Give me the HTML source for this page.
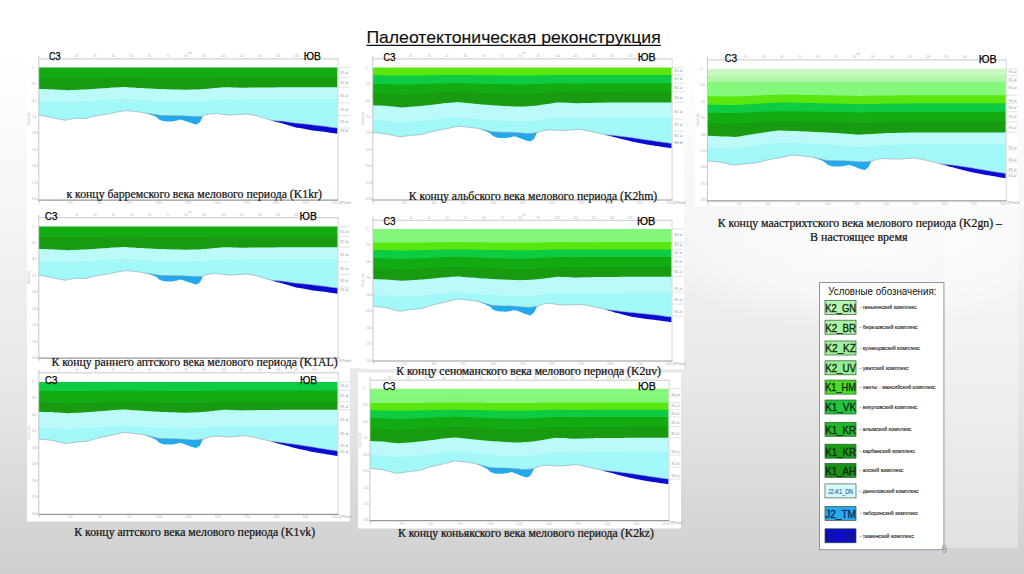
<!DOCTYPE html>
<html lang="ru"><head><meta charset="utf-8"><title>Палеотектоническая реконструкция</title>
<style>
html,body{margin:0;padding:0;}
body{width:1024px;height:574px;overflow:hidden;position:relative;
background:linear-gradient(to bottom,#ffffff 0%,#ffffff 9%,#f6f6f6 35%,#e8e8e8 66%,#cfcfcf 100%);}
svg{position:absolute;left:0;top:0;display:block;}
</style></head><body>
<svg width="1024" height="574" viewBox="0 0 1024 574">
<defs><radialGradient id="hl" cx="0.5" cy="0.5" r="0.5"><stop offset="0" stop-color="#fff" stop-opacity="0.75"/><stop offset="0.6" stop-color="#fff" stop-opacity="0.45"/><stop offset="1" stop-color="#fff" stop-opacity="0"/></radialGradient></defs>
<ellipse cx="860" cy="245" rx="210" ry="85" fill="url(#hl)"/>
<rect x="944" y="206" width="74" height="342" fill="#fff" fill-opacity="0.35"/>
<text x="366.4" y="42.8" font-size="16.6" font-family="Liberation Sans, sans-serif" fill="#111" textLength="294.3" lengthAdjust="spacingAndGlyphs" stroke="#111" stroke-width="0.15">Палеотектоническая реконструкция</text><line x1="366.4" y1="45.6" x2="660.8" y2="45.6" stroke="#111" stroke-width="1.8"/>
<rect x="27" y="46" width="335" height="160" fill="#fff"/>
<polygon points="38.8,88.9 43.8,89 46,89.1 48.8,89.2 51.3,89.3 53.7,89.4 54.9,89.5 58.7,89.7 63.7,90 65.1,90.1 65.7,90.1 67.2,90.2 68.7,90.2 70.5,90.1 73.6,90 75.2,89.9 77.6,89.8 78.6,89.7 83,89.6 83.6,89.5 86.3,89.4 86.6,89.3 87.8,89.3 88.6,89.2 93.1,88.9 93.5,88.9 98.5,88.6 103.5,88.2 103.6,88.2 108.5,87.9 109.6,87.8 110.5,87.7 111.4,87.6 113.4,87.5 115.8,87.4 118.4,87.3 123.4,87 123.6,87 125.1,87.1 128.4,87.3 129.9,87.4 133.2,87.6 133.4,87.6 133.5,87.6 135.8,87.7 138.3,87.9 142.7,88.1 143.3,88.2 145.7,88.3 148.3,88.4 151.1,88.6 151.4,88.6 153.3,88.7 158.2,88.9 159.1,89 161.2,89.1 163.2,89.1 167.2,89.3 168.2,89.3 168.4,89.3 168.7,89.3 173.2,89.4 176.2,89.5 177.1,89.6 178.1,89.6 180.3,89.6 183.1,89.7 185.1,89.8 186.3,89.8 188.1,89.7 191.1,89.6 192,89.6 193.1,89.6 197.1,89.4 198.1,89.4 201.5,89.3 203,89.1 204.8,89 208,88.7 209.6,88.5 209.9,88.5 213,88.2 214.1,88.1 215.6,88 216.5,87.9 217.4,87.8 218,87.8 221.2,87.4 222.9,87.3 223.6,87.2 227.9,87.3 229.6,87.3 230.2,87.3 232.9,87.4 233.2,87.4 237.9,87.6 238.9,87.7 241,87.8 242.8,87.7 245.4,87.7 246.6,87.7 247.8,87.7 249.9,87.6 252.8,87.6 252.9,87.6 256.5,87.5 257.8,87.5 261.9,87.4 262.8,87.4 264.5,87.4 267.7,87.4 271.7,87.4 272,87.4 272.7,87.4 277.7,87.3 280.7,87.3 282.7,87.3 283.4,87.3 287.6,87.3 292.6,87.2 295.9,87.2 296.2,87.2 296.8,87.2 297.6,87.2 302.6,87.2 307.5,87.2 309,87.2 312.5,87.2 312.6,87.2 317.5,87.2 321.6,87.2 322.5,87.2 327.4,87.2 328.4,87.2 332.4,87.2 337.4,87.2 337.4,128 332.4,127.4 328.4,126.9 327.4,126.7 322.5,126.1 321.6,126 317.5,125.5 312.6,124.9 312.5,124.8 309,124.4 307.5,124.3 302.6,123.8 297.6,123.3 296.8,123.3 296.2,123.2 295.9,123.2 292.6,122.7 287.6,121.9 283.4,121.3 282.7,121.2 280.7,121.1 277.7,120.9 272.7,120.5 272,120.4 271.7,120.3 267.7,119.2 264.5,118.3 262.8,117.8 261.9,117.5 257.8,116.3 256.5,115.9 252.9,114.9 252.8,114.9 249.9,114.5 247.8,114.2 246.6,114 245.4,114.1 242.8,114.2 241,114.4 238.9,114.5 237.9,114.6 233.2,115 232.9,115 230.2,115.2 229.6,115.1 227.9,114.9 223.6,114.4 222.9,114.3 221.2,114.1 218,113.7 217.4,113.6 216.5,113.5 215.6,113.4 214.1,113.5 213,113.7 209.9,114 209.6,114 208,114.3 204.8,114.9 203,115.8 201.5,116.6 198.1,116.5 197.1,116.5 193.1,116.3 192,116.3 191.1,116.3 188.1,116.1 186.3,116 185.1,115.9 183.1,115.8 180.3,115.7 178.1,115.7 177.1,115.7 176.2,115.7 173.2,115.7 168.7,115.7 168.4,115.7 168.2,115.7 167.2,115.6 163.2,115.4 161.2,115.3 159.1,115.2 158.2,115.1 153.3,114.3 151.4,114 151.1,114 148.3,113.5 145.7,113.1 143.3,112.7 142.7,112.6 138.3,111.9 135.8,111.6 133.5,111.2 133.4,111.2 133.2,111.2 129.9,111 128.4,110.9 125.1,110.7 123.6,110.9 123.4,111 118.4,111.8 115.8,112.2 113.4,112.8 111.4,113.4 110.5,113.6 109.6,113.7 108.5,113.9 103.6,114.7 103.5,114.7 98.5,115.5 93.5,116.3 93.1,116.4 88.6,117.8 87.8,118 86.6,118.4 86.3,118.5 83.6,118.4 83,118.4 78.6,118.2 77.6,118.2 75.2,118.5 73.6,118.6 70.5,119 68.7,119.4 67.2,119.8 65.7,120.2 65.1,120.3 63.7,120 58.7,119 54.9,118.2 53.7,118 51.3,117.5 48.8,117 46,116.4 43.8,116 38.8,115.2" fill="#a2f7f9"/>
<polygon points="38.8,88.9 43.8,89 46,89.1 48.8,89.2 51.3,89.3 53.7,89.4 54.9,89.5 58.7,89.7 63.7,90 65.1,90.1 65.7,90.1 67.2,90.2 68.7,90.2 70.5,90.1 73.6,90 75.2,89.9 77.6,89.8 78.6,89.7 83,89.6 83.6,89.5 86.3,89.4 86.6,89.3 87.8,89.3 88.6,89.2 93.1,88.9 93.5,88.9 98.5,88.6 103.5,88.2 103.6,88.2 108.5,87.9 109.6,87.8 110.5,87.7 111.4,87.6 113.4,87.5 115.8,87.4 118.4,87.3 123.4,87 123.6,87 125.1,87.1 128.4,87.3 129.9,87.4 133.2,87.6 133.4,87.6 133.5,87.6 135.8,87.7 138.3,87.9 142.7,88.1 143.3,88.2 145.7,88.3 148.3,88.4 151.1,88.6 151.4,88.6 153.3,88.7 158.2,88.9 159.1,89 161.2,89.1 163.2,89.1 167.2,89.3 168.2,89.3 168.4,89.3 168.7,89.3 173.2,89.4 176.2,89.5 177.1,89.6 178.1,89.6 180.3,89.6 183.1,89.7 185.1,89.8 186.3,89.8 188.1,89.7 191.1,89.6 192,89.6 193.1,89.6 197.1,89.4 198.1,89.4 201.5,89.3 203,89.1 204.8,89 208,88.7 209.6,88.5 209.9,88.5 213,88.2 214.1,88.1 215.6,88 216.5,87.9 217.4,87.8 218,87.8 221.2,87.4 222.9,87.3 223.6,87.2 227.9,87.3 229.6,87.3 230.2,87.3 232.9,87.4 233.2,87.4 237.9,87.6 238.9,87.7 241,87.8 242.8,87.7 245.4,87.7 246.6,87.7 247.8,87.7 249.9,87.6 252.8,87.6 252.9,87.6 256.5,87.5 257.8,87.5 261.9,87.4 262.8,87.4 264.5,87.4 267.7,87.4 271.7,87.4 272,87.4 272.7,87.4 277.7,87.3 280.7,87.3 282.7,87.3 283.4,87.3 287.6,87.3 292.6,87.2 295.9,87.2 296.2,87.2 296.8,87.2 297.6,87.2 302.6,87.2 307.5,87.2 309,87.2 312.5,87.2 312.6,87.2 317.5,87.2 321.6,87.2 322.5,87.2 327.4,87.2 328.4,87.2 332.4,87.2 337.4,87.2 337.4,99.2 332.4,99.2 328.4,99.2 327.4,99.2 322.5,99.2 321.6,99.2 317.5,99.2 312.6,99.2 312.5,99.2 309,99.2 307.5,99.2 302.6,99.2 297.6,99.2 296.8,99.2 296.2,99.2 295.9,99.2 292.6,99.2 287.6,99.3 283.4,99.3 282.7,99.3 280.7,99.3 277.7,99.3 272.7,99.4 272,99.4 271.7,99.4 267.7,99.4 264.5,99.4 262.8,99.4 261.9,99.4 257.8,99.5 256.5,99.5 252.9,99.6 252.8,99.6 249.9,99.6 247.8,99.7 246.6,99.7 245.4,99.7 242.8,99.7 241,99.8 238.9,99.7 237.9,99.6 233.2,99.4 232.9,99.4 230.2,99.3 229.6,99.3 227.9,99.3 223.6,99.2 222.9,99.3 221.2,99.4 218,99.8 217.4,99.8 216.5,99.9 215.6,100 214.1,100.1 213,100.2 209.9,100.5 209.6,100.5 208,100.7 204.8,101 203,101.1 201.5,101.3 198.1,101.4 197.1,101.4 193.1,101.6 192,101.6 191.1,101.6 188.1,101.7 186.3,101.8 185.1,101.8 183.1,101.7 180.3,101.6 178.1,101.6 177.1,101.6 176.2,101.5 173.2,101.4 168.7,101.3 168.4,101.3 168.2,101.3 167.2,101.3 163.2,101.1 161.2,101.1 159.1,101 158.2,100.9 153.3,100.7 151.4,100.6 151.1,100.6 148.3,100.4 145.7,100.3 143.3,100.2 142.7,100.1 138.3,99.9 135.8,99.7 133.5,99.6 133.4,99.6 133.2,99.6 129.9,99.4 128.4,99.3 125.1,99.1 123.6,99 123.4,99 118.4,99.3 115.8,99.4 113.4,99.5 111.4,99.6 110.5,99.7 109.6,99.8 108.5,99.9 103.6,100.2 103.5,100.2 98.5,100.6 93.5,100.9 93.1,100.9 88.6,101.2 87.8,101.3 86.6,101.3 86.3,101.4 83.6,101.5 83,101.6 78.6,101.7 77.6,101.8 75.2,101.9 73.6,102 70.5,102.1 68.7,102.2 67.2,102.2 65.7,102.1 65.1,102.1 63.7,102 58.7,101.7 54.9,101.5 53.7,101.4 51.3,101.3 48.8,101.2 46,101.1 43.8,101 38.8,100.9" fill="#bcfafa"/>
<polygon points="38.8,67.6 43.8,67.6 46,67.6 48.8,67.6 51.3,67.6 53.7,67.6 54.9,67.6 58.7,67.6 63.7,67.6 65.1,67.6 65.7,67.6 67.2,67.6 68.7,67.6 70.5,67.6 73.6,67.6 75.2,67.6 77.6,67.6 78.6,67.6 83,67.6 83.6,67.6 86.3,67.6 86.6,67.6 87.8,67.6 88.6,67.6 93.1,67.6 93.5,67.6 98.5,67.6 103.5,67.6 103.6,67.6 108.5,67.6 109.6,67.6 110.5,67.6 111.4,67.6 113.4,67.6 115.8,67.6 118.4,67.6 123.4,67.6 123.6,67.6 125.1,67.6 128.4,67.6 129.9,67.6 133.2,67.6 133.4,67.6 133.5,67.6 135.8,67.6 138.3,67.6 142.7,67.6 143.3,67.6 145.7,67.6 148.3,67.6 151.1,67.6 151.4,67.6 153.3,67.6 158.2,67.6 159.1,67.6 161.2,67.6 163.2,67.6 167.2,67.6 168.2,67.6 168.4,67.6 168.7,67.6 173.2,67.6 176.2,67.6 177.1,67.6 178.1,67.6 180.3,67.6 183.1,67.6 185.1,67.6 186.3,67.6 188.1,67.6 191.1,67.6 192,67.6 193.1,67.6 197.1,67.6 198.1,67.6 201.5,67.6 203,67.6 204.8,67.6 208,67.6 209.6,67.6 209.9,67.6 213,67.6 214.1,67.6 215.6,67.6 216.5,67.6 217.4,67.6 218,67.6 221.2,67.6 222.9,67.6 223.6,67.6 227.9,67.6 229.6,67.6 230.2,67.6 232.9,67.6 233.2,67.6 237.9,67.6 238.9,67.6 241,67.6 242.8,67.6 245.4,67.6 246.6,67.6 247.8,67.6 249.9,67.6 252.8,67.6 252.9,67.6 256.5,67.6 257.8,67.6 261.9,67.6 262.8,67.6 264.5,67.6 267.7,67.6 271.7,67.6 272,67.6 272.7,67.6 277.7,67.6 280.7,67.6 282.7,67.6 283.4,67.6 287.6,67.6 292.6,67.6 295.9,67.6 296.2,67.6 296.8,67.6 297.6,67.6 302.6,67.6 307.5,67.6 309,67.6 312.5,67.6 312.6,67.6 317.5,67.6 321.6,67.6 322.5,67.6 327.4,67.6 328.4,67.6 332.4,67.6 337.4,67.6 337.4,78.9 332.4,78.9 328.4,78.9 327.4,78.9 322.5,78.9 321.6,78.9 317.5,78.9 312.6,78.9 312.5,78.9 309,78.9 307.5,78.9 302.6,78.9 297.6,78.9 296.8,78.9 296.2,78.9 295.9,78.9 292.6,78.9 287.6,78.9 283.4,78.9 282.7,78.9 280.7,78.9 277.7,78.9 272.7,78.9 272,78.9 271.7,78.9 267.7,78.9 264.5,79 262.8,79 261.9,79 257.8,79 256.5,79 252.9,79 252.8,79 249.9,79 247.8,79 246.6,79 245.4,79 242.8,79 241,79 238.9,79 237.9,79 233.2,79 232.9,78.9 230.2,78.9 229.6,78.9 227.9,78.9 223.6,78.9 222.9,78.9 221.2,79 218,79 217.4,79 216.5,79 215.6,79 214.1,79.1 213,79.1 209.9,79.1 209.6,79.1 208,79.2 204.8,79.2 203,79.2 201.5,79.3 198.1,79.3 197.1,79.3 193.1,79.3 192,79.3 191.1,79.3 188.1,79.3 186.3,79.4 185.1,79.3 183.1,79.3 180.3,79.3 178.1,79.3 177.1,79.3 176.2,79.3 173.2,79.3 168.7,79.3 168.4,79.3 168.2,79.3 167.2,79.3 163.2,79.2 161.2,79.2 159.1,79.2 158.2,79.2 153.3,79.2 151.4,79.1 151.1,79.1 148.3,79.1 145.7,79.1 143.3,79.1 142.7,79.1 138.3,79 135.8,79 133.5,79 133.4,79 133.2,79 129.9,79 128.4,78.9 125.1,78.9 123.6,78.9 123.4,78.9 118.4,78.9 115.8,78.9 113.4,79 111.4,79 110.5,79 109.6,79 108.5,79 103.6,79.1 103.5,79.1 98.5,79.2 93.5,79.2 93.1,79.2 88.6,79.3 87.8,79.3 86.6,79.3 86.3,79.3 83.6,79.3 83,79.3 78.6,79.3 77.6,79.3 75.2,79.4 73.6,79.4 70.5,79.4 68.7,79.4 67.2,79.4 65.7,79.4 65.1,79.4 63.7,79.4 58.7,79.3 54.9,79.3 53.7,79.3 51.3,79.3 48.8,79.2 46,79.2 43.8,79.2 38.8,79.2" fill="#12ac12"/>
<polygon points="38.8,78 43.8,78 46,78 48.8,78 51.3,78.1 53.7,78.1 54.9,78.1 58.7,78.1 63.7,78.2 65.1,78.2 65.7,78.2 67.2,78.2 68.7,78.2 70.5,78.2 73.6,78.2 75.2,78.2 77.6,78.1 78.6,78.1 83,78.1 83.6,78.1 86.3,78.1 86.6,78.1 87.8,78.1 88.6,78.1 93.1,78 93.5,78 98.5,78 103.5,77.9 103.6,77.9 108.5,77.8 109.6,77.8 110.5,77.8 111.4,77.8 113.4,77.8 115.8,77.7 118.4,77.7 123.4,77.7 123.6,77.7 125.1,77.7 128.4,77.7 129.9,77.8 133.2,77.8 133.4,77.8 133.5,77.8 135.8,77.8 138.3,77.8 142.7,77.9 143.3,77.9 145.7,77.9 148.3,77.9 151.1,77.9 151.4,77.9 153.3,78 158.2,78 159.1,78 161.2,78 163.2,78 167.2,78.1 168.2,78.1 168.4,78.1 168.7,78.1 173.2,78.1 176.2,78.1 177.1,78.1 178.1,78.1 180.3,78.1 183.1,78.1 185.1,78.1 186.3,78.2 188.1,78.1 191.1,78.1 192,78.1 193.1,78.1 197.1,78.1 198.1,78.1 201.5,78.1 203,78 204.8,78 208,78 209.6,77.9 209.9,77.9 213,77.9 214.1,77.9 215.6,77.8 216.5,77.8 217.4,77.8 218,77.8 221.2,77.8 222.9,77.7 223.6,77.7 227.9,77.7 229.6,77.7 230.2,77.7 232.9,77.7 233.2,77.8 237.9,77.8 238.9,77.8 241,77.8 242.8,77.8 245.4,77.8 246.6,77.8 247.8,77.8 249.9,77.8 252.8,77.8 252.9,77.8 256.5,77.8 257.8,77.8 261.9,77.8 262.8,77.8 264.5,77.8 267.7,77.7 271.7,77.7 272,77.7 272.7,77.7 277.7,77.7 280.7,77.7 282.7,77.7 283.4,77.7 287.6,77.7 292.6,77.7 295.9,77.7 296.2,77.7 296.8,77.7 297.6,77.7 302.6,77.7 307.5,77.7 309,77.7 312.5,77.7 312.6,77.7 317.5,77.7 321.6,77.7 322.5,77.7 327.4,77.7 328.4,77.7 332.4,77.7 337.4,77.7 337.4,87.2 332.4,87.2 328.4,87.2 327.4,87.2 322.5,87.2 321.6,87.2 317.5,87.2 312.6,87.2 312.5,87.2 309,87.2 307.5,87.2 302.6,87.2 297.6,87.2 296.8,87.2 296.2,87.2 295.9,87.2 292.6,87.2 287.6,87.3 283.4,87.3 282.7,87.3 280.7,87.3 277.7,87.3 272.7,87.4 272,87.4 271.7,87.4 267.7,87.4 264.5,87.4 262.8,87.4 261.9,87.4 257.8,87.5 256.5,87.5 252.9,87.6 252.8,87.6 249.9,87.6 247.8,87.7 246.6,87.7 245.4,87.7 242.8,87.7 241,87.8 238.9,87.7 237.9,87.6 233.2,87.4 232.9,87.4 230.2,87.3 229.6,87.3 227.9,87.3 223.6,87.2 222.9,87.3 221.2,87.4 218,87.8 217.4,87.8 216.5,87.9 215.6,88 214.1,88.1 213,88.2 209.9,88.5 209.6,88.5 208,88.7 204.8,89 203,89.1 201.5,89.3 198.1,89.4 197.1,89.4 193.1,89.6 192,89.6 191.1,89.6 188.1,89.7 186.3,89.8 185.1,89.8 183.1,89.7 180.3,89.6 178.1,89.6 177.1,89.6 176.2,89.5 173.2,89.4 168.7,89.3 168.4,89.3 168.2,89.3 167.2,89.3 163.2,89.1 161.2,89.1 159.1,89 158.2,88.9 153.3,88.7 151.4,88.6 151.1,88.6 148.3,88.4 145.7,88.3 143.3,88.2 142.7,88.1 138.3,87.9 135.8,87.7 133.5,87.6 133.4,87.6 133.2,87.6 129.9,87.4 128.4,87.3 125.1,87.1 123.6,87 123.4,87 118.4,87.3 115.8,87.4 113.4,87.5 111.4,87.6 110.5,87.7 109.6,87.8 108.5,87.9 103.6,88.2 103.5,88.2 98.5,88.6 93.5,88.9 93.1,88.9 88.6,89.2 87.8,89.3 86.6,89.3 86.3,89.4 83.6,89.5 83,89.6 78.6,89.7 77.6,89.8 75.2,89.9 73.6,90 70.5,90.1 68.7,90.2 67.2,90.2 65.7,90.1 65.1,90.1 63.7,90 58.7,89.7 54.9,89.5 53.7,89.4 51.3,89.3 48.8,89.2 46,89.1 43.8,89 38.8,88.9" fill="#199b11"/>
<polygon points="143.9,112.8 145.7,113.1 148.3,113.5 151.1,114 151.4,114 153.3,114.3 156.1,114.8 158.2,115.1 159.1,115.2 161.2,115.3 163,115.4 163.2,115.4 167.2,115.6 168.2,115.7 168.4,115.7 168.7,115.7 171.1,115.7 173.2,115.7 176.2,115.7 176.5,115.7 177.1,115.7 178.1,115.7 180.3,115.7 183.1,115.8 184.2,115.9 185.1,115.9 186.3,116 188.1,116.1 190.5,116.2 191.1,116.3 192,116.3 193.1,116.3 195.9,116.4 197.1,116.5 198.1,116.5 199.7,116.5 201.5,116.6 203,115.8 203,115.8 201.5,119.3 199.7,122.5 198.1,123.4 197.1,124 195.9,124.6 193.1,123.7 192,123.3 191.1,123 190.5,122.8 188.1,122 186.3,121.4 185.1,121 184.2,120.7 183.1,120.3 180.3,119.4 178.1,120.1 177.1,120.5 176.5,120.7 176.2,120.7 173.2,121.2 171.1,121.5 168.7,121.5 168.4,121.5 168.2,121.4 167.2,121.4 163.2,121.1 163,121.1 161.2,120.4 159.1,119.5 158.2,118.7 156.1,116.8 153.3,115.7 151.4,114.9 151.1,114.9 148.3,114.1 145.7,113.3 143.9,112.8" fill="#22a8ec"/>
<polygon points="270.2,119.9 271.7,120.3 272,120.4 272.7,120.5 277.7,120.9 280.7,121.1 282.7,121.2 283.4,121.3 287.6,121.9 292.6,122.7 295.9,123.2 296.2,123.2 296.8,123.3 297.6,123.3 302.6,123.8 307.5,124.3 309,124.4 312.5,124.8 312.6,124.9 317.5,125.5 321.6,126 322.5,126.1 327.4,126.7 328.4,126.9 332.4,127.4 337.4,128 337.4,133.8 332.4,133 328.4,132.4 327.4,132.3 322.5,131.6 321.6,131.5 317.5,131 312.6,130.4 312.5,130.4 309,129.7 307.5,129.4 302.6,128.6 297.6,127.8 296.8,127.7 296.2,127.6 295.9,127.5 292.6,126.5 287.6,125 283.4,123.7 282.7,123.6 280.7,123.1 277.7,122.3 272.7,120.9 272,120.7 271.7,120.6 270.2,119.9" fill="#0a0ad2"/>
<polyline points="38.8,115.2 43.8,116 46,116.4 48.8,117 51.3,117.5 53.7,118 54.9,118.2 58.7,119 63.7,120 65.1,120.3 65.7,120.2 67.2,119.8 68.7,119.4 70.5,119 73.6,118.6 75.2,118.5 77.6,118.2 78.6,118.2 83,118.4 83.6,118.4 86.3,118.5 86.6,118.4 87.8,118 88.6,117.8 93.1,116.4 93.5,116.3 98.5,115.5 103.5,114.7 103.6,114.7 108.5,113.9 109.6,113.7 110.5,113.6 111.4,113.4 113.4,112.8 115.8,112.2 118.4,111.8 123.4,111 123.6,110.9 125.1,110.7 128.4,110.9 129.9,111 133.2,111.2 133.4,111.2 133.5,111.2 135.8,111.6 138.3,111.9 142.7,112.6 143.3,112.7 145.7,113.1 148.3,113.5 151.1,114 151.4,114 153.3,114.3 158.2,115.1 159.1,115.2 161.2,115.3 163.2,115.4 167.2,115.6 168.2,115.7 168.4,115.7 168.7,115.7 173.2,115.7 176.2,115.7 177.1,115.7 178.1,115.7 180.3,115.7 183.1,115.8 185.1,115.9 186.3,116 188.1,116.1 191.1,116.3 192,116.3 193.1,116.3 197.1,116.5 198.1,116.5 201.5,116.6 203,115.8 204.8,114.9 208,114.3 209.6,114 209.9,114 213,113.7 214.1,113.5 215.6,113.4 216.5,113.5 217.4,113.6 218,113.7 221.2,114.1 222.9,114.3 223.6,114.4 227.9,114.9 229.6,115.1 230.2,115.2 232.9,115 233.2,115 237.9,114.6 238.9,114.5 241,114.4 242.8,114.2 245.4,114.1 246.6,114 247.8,114.2 249.9,114.5 252.8,114.9 252.9,114.9 256.5,115.9 257.8,116.3 261.9,117.5 262.8,117.8 264.5,118.3 267.7,119.2 271.7,120.3 272,120.4 272.7,120.5 277.7,120.9 280.7,121.1 282.7,121.2 283.4,121.3 287.6,121.9 292.6,122.7 295.9,123.2 296.2,123.2 296.8,123.3 297.6,123.3 302.6,123.8 307.5,124.3 309,124.4 312.5,124.8 312.6,124.9 317.5,125.5 321.6,126 322.5,126.1 327.4,126.7 328.4,126.9 332.4,127.4 337.4,128" fill="none" stroke="#8a9aa8" stroke-width="0.7" opacity="0.8"/>
<line x1="38.8" y1="55.9" x2="38.8" y2="202.1" stroke="#bbb" stroke-width="0.8"/>
<line x1="337.9" y1="58.9" x2="337.9" y2="200.1" stroke="#ccc" stroke-width="0.8"/>
<line x1="38.8" y1="58.9" x2="338.4" y2="58.9" stroke="#bbb" stroke-width="0.8"/>
<line x1="38.8" y1="200.1" x2="338.4" y2="200.1" stroke="#999" stroke-width="1.2"/>
<g font-family="Liberation Sans, sans-serif" font-size="2.8" fill="#b4b4b4"><text x="57" y="57.4">10</text><text x="75.2" y="57.4">20</text><text x="93.4" y="57.4">30</text><text x="111.6" y="57.4">40</text><text x="129.8" y="57.4">50</text><text x="148" y="57.4">60</text><text x="166.3" y="57.4">70</text><text x="184.5" y="57.4">80</text><text x="202.7" y="57.4">90</text><text x="220.9" y="57.4">100</text><text x="239.1" y="57.4">110</text><text x="257.3" y="57.4">120</text><text x="275.5" y="57.4">130</text><text x="293.7" y="57.4">140</text><text x="311.9" y="57.4">150</text><text x="188.1" y="54.4">km</text><text x="38.8" y="204.1">0</text><text x="68.1" y="204.1">250</text><text x="97.3" y="204.1">500</text><text x="126.6" y="204.1">750</text><text x="155.9" y="204.1">1000</text><text x="185.2" y="204.1">1250</text><text x="214.4" y="204.1">1500</text><text x="243.7" y="204.1">1750</text><text x="273" y="204.1">2000</text><text x="302.3" y="204.1">2250</text><text x="331.5" y="204.1">2500</text><text x="31.8" y="68.6">0</text><text x="31.8" y="85">250</text><text x="31.8" y="101.5">500</text><text x="31.8" y="117.9">750</text><text x="31.8" y="134.4">1000</text><text x="31.8" y="150.8">1250</text><text x="31.8" y="167.3">1500</text><text x="31.8" y="183.8">1750</text><text x="31.8" y="200.2">2000</text><text x="30.3" y="125.4" transform="rotate(-90 30.3 125.4)" font-size="3">Depth (m)</text></g>
<line x1="338.4" y1="67.6" x2="349.4" y2="67.6" stroke="#ccc" stroke-width="0.6"/><line x1="338.4" y1="77.7" x2="349.4" y2="77.7" stroke="#ccc" stroke-width="0.6"/><line x1="338.4" y1="87.2" x2="349.4" y2="87.2" stroke="#ccc" stroke-width="0.6"/><line x1="338.4" y1="103" x2="349.4" y2="103" stroke="#ccc" stroke-width="0.6"/><line x1="338.4" y1="115.5" x2="349.4" y2="115.5" stroke="#ccc" stroke-width="0.6"/><line x1="338.4" y1="128" x2="349.4" y2="128" stroke="#ccc" stroke-width="0.6"/><text x="340.4" y="73.5" font-size="3.4" fill="#888" font-family="Liberation Sans, sans-serif">K1 al</text><text x="340.4" y="83.5" font-size="3.4" fill="#888" font-family="Liberation Sans, sans-serif">K1 al</text><text x="340.4" y="97.4" font-size="3.4" fill="#888" font-family="Liberation Sans, sans-serif">K1 al</text><text x="340.4" y="110.8" font-size="3.4" fill="#888" font-family="Liberation Sans, sans-serif">K1 al</text><text x="340.4" y="122.7" font-size="3.4" fill="#888" font-family="Liberation Sans, sans-serif">K1 al</text><text x="340.4" y="131.7" font-size="3.4" fill="#888" font-family="Liberation Sans, sans-serif">K1 al</text>
<text x="338.4" y="203.6" font-size="3.5" fill="#89a" font-family="Liberation Sans, sans-serif">@Petrel</text>
<text x="49" y="60.3" font-size="11.6" font-family="Liberation Sans, sans-serif" fill="#000" stroke="#000" stroke-width="0.25" textLength="11.7" lengthAdjust="spacingAndGlyphs">СЗ</text>
<text x="303.8" y="60.3" font-size="11.6" font-family="Liberation Sans, sans-serif" fill="#000" stroke="#000" stroke-width="0.25" textLength="17" lengthAdjust="spacingAndGlyphs">ЮВ</text>
<rect x="27" y="206" width="335" height="162" fill="#fff"/>
<polygon points="38.8,248.9 43.8,249 46,249.1 48.8,249.2 51.3,249.3 53.7,249.4 54.9,249.5 58.7,249.7 63.7,250 65.1,250.1 65.7,250.1 67.2,250.2 68.7,250.2 70.5,250.1 73.7,250 75.3,249.9 77.6,249.8 78.6,249.7 83,249.6 83.6,249.5 86.3,249.4 86.6,249.3 87.8,249.3 88.6,249.2 93.2,248.9 93.6,248.9 98.6,248.6 103.5,248.2 103.6,248.2 108.5,247.9 109.6,247.8 110.5,247.7 111.4,247.6 113.5,247.5 115.9,247.4 118.5,247.3 123.5,247 123.7,247 125.2,247.1 128.4,247.3 129.9,247.4 133.2,247.6 133.4,247.6 133.5,247.6 135.9,247.7 138.4,247.9 142.8,248.1 143.4,248.2 145.8,248.3 148.4,248.4 151.1,248.6 151.4,248.6 153.3,248.7 158.3,248.9 159.2,249 161.3,249.1 163.3,249.1 167.3,249.3 168.3,249.3 168.5,249.3 168.8,249.3 173.3,249.4 176.2,249.5 177.1,249.6 178.2,249.6 180.4,249.6 183.2,249.7 185.2,249.8 186.4,249.8 188.2,249.7 191.2,249.6 192.1,249.6 193.2,249.6 197.2,249.4 198.2,249.4 201.6,249.3 203.1,249.1 204.9,249 208.1,248.7 209.7,248.5 210,248.5 213.1,248.2 214.2,248.1 215.7,248 216.6,247.9 217.5,247.8 218.1,247.8 221.4,247.4 223.1,247.3 223.8,247.2 228,247.3 229.7,247.3 230.3,247.3 233,247.4 233.3,247.4 238,247.6 239,247.7 241.1,247.8 243,247.7 245.6,247.7 246.8,247.7 248,247.7 250.1,247.6 252.9,247.6 253,247.6 256.6,247.5 257.9,247.5 262,247.4 262.9,247.4 264.7,247.4 267.9,247.4 271.9,247.4 272.2,247.4 272.9,247.4 277.8,247.3 280.8,247.3 282.8,247.3 283.5,247.3 287.8,247.3 292.8,247.2 296.1,247.2 296.4,247.2 297,247.2 297.8,247.2 302.7,247.2 307.7,247.2 309.2,247.2 312.7,247.2 312.8,247.2 317.7,247.2 321.8,247.2 322.7,247.2 327.6,247.2 328.6,247.2 332.6,247.2 337.6,247.2 337.6,288 332.6,287.4 328.6,286.9 327.6,286.7 322.7,286.1 321.8,286 317.7,285.5 312.8,284.9 312.7,284.8 309.2,284.4 307.7,284.3 302.7,283.8 297.8,283.3 297,283.3 296.4,283.2 296.1,283.2 292.8,282.7 287.8,281.9 283.5,281.3 282.8,281.2 280.8,281.1 277.8,280.8 272.9,280.5 272.2,280.4 271.9,280.3 267.9,279.2 264.7,278.3 262.9,277.8 262,277.5 257.9,276.3 256.6,275.9 253,274.9 252.9,274.9 250.1,274.5 248,274.2 246.8,274 245.6,274.1 243,274.2 241.1,274.4 239,274.5 238,274.6 233.3,275 233,275 230.3,275.2 229.7,275.1 228,274.9 223.8,274.4 223.1,274.3 221.4,274.1 218.1,273.7 217.5,273.6 216.6,273.5 215.7,273.4 214.2,273.6 213.1,273.7 210,274 209.7,274 208.1,274.3 204.9,274.9 203.1,275.8 201.6,276.6 198.2,276.5 197.2,276.5 193.2,276.3 192.1,276.3 191.2,276.3 188.2,276.1 186.4,276 185.2,275.9 183.2,275.8 180.4,275.7 178.2,275.7 177.1,275.7 176.2,275.7 173.3,275.7 168.8,275.7 168.5,275.7 168.3,275.7 167.3,275.6 163.3,275.4 161.3,275.3 159.2,275.2 158.3,275.1 153.3,274.3 151.4,274 151.1,274 148.4,273.5 145.8,273.1 143.4,272.7 142.8,272.6 138.4,271.9 135.9,271.6 133.5,271.2 133.4,271.2 133.2,271.2 129.9,271 128.4,270.9 125.2,270.7 123.7,270.9 123.5,271 118.5,271.8 115.9,272.2 113.5,272.8 111.4,273.4 110.5,273.6 109.6,273.7 108.5,273.9 103.6,274.7 103.5,274.7 98.6,275.5 93.6,276.3 93.2,276.4 88.6,277.8 87.8,278 86.6,278.4 86.3,278.5 83.6,278.4 83,278.4 78.6,278.2 77.6,278.2 75.3,278.5 73.7,278.6 70.5,279 68.7,279.4 67.2,279.8 65.7,280.2 65.1,280.3 63.7,280 58.7,279 54.9,278.2 53.7,278 51.3,277.5 48.8,277 46,276.4 43.8,276 38.8,275.2" fill="#a2f7f9"/>
<polygon points="38.8,248.9 43.8,249 46,249.1 48.8,249.2 51.3,249.3 53.7,249.4 54.9,249.5 58.7,249.7 63.7,250 65.1,250.1 65.7,250.1 67.2,250.2 68.7,250.2 70.5,250.1 73.7,250 75.3,249.9 77.6,249.8 78.6,249.7 83,249.6 83.6,249.5 86.3,249.4 86.6,249.3 87.8,249.3 88.6,249.2 93.2,248.9 93.6,248.9 98.6,248.6 103.5,248.2 103.6,248.2 108.5,247.9 109.6,247.8 110.5,247.7 111.4,247.6 113.5,247.5 115.9,247.4 118.5,247.3 123.5,247 123.7,247 125.2,247.1 128.4,247.3 129.9,247.4 133.2,247.6 133.4,247.6 133.5,247.6 135.9,247.7 138.4,247.9 142.8,248.1 143.4,248.2 145.8,248.3 148.4,248.4 151.1,248.6 151.4,248.6 153.3,248.7 158.3,248.9 159.2,249 161.3,249.1 163.3,249.1 167.3,249.3 168.3,249.3 168.5,249.3 168.8,249.3 173.3,249.4 176.2,249.5 177.1,249.6 178.2,249.6 180.4,249.6 183.2,249.7 185.2,249.8 186.4,249.8 188.2,249.7 191.2,249.6 192.1,249.6 193.2,249.6 197.2,249.4 198.2,249.4 201.6,249.3 203.1,249.1 204.9,249 208.1,248.7 209.7,248.5 210,248.5 213.1,248.2 214.2,248.1 215.7,248 216.6,247.9 217.5,247.8 218.1,247.8 221.4,247.4 223.1,247.3 223.8,247.2 228,247.3 229.7,247.3 230.3,247.3 233,247.4 233.3,247.4 238,247.6 239,247.7 241.1,247.8 243,247.7 245.6,247.7 246.8,247.7 248,247.7 250.1,247.6 252.9,247.6 253,247.6 256.6,247.5 257.9,247.5 262,247.4 262.9,247.4 264.7,247.4 267.9,247.4 271.9,247.4 272.2,247.4 272.9,247.4 277.8,247.3 280.8,247.3 282.8,247.3 283.5,247.3 287.8,247.3 292.8,247.2 296.1,247.2 296.4,247.2 297,247.2 297.8,247.2 302.7,247.2 307.7,247.2 309.2,247.2 312.7,247.2 312.8,247.2 317.7,247.2 321.8,247.2 322.7,247.2 327.6,247.2 328.6,247.2 332.6,247.2 337.6,247.2 337.6,259.2 332.6,259.2 328.6,259.2 327.6,259.2 322.7,259.2 321.8,259.2 317.7,259.2 312.8,259.2 312.7,259.2 309.2,259.2 307.7,259.2 302.7,259.2 297.8,259.2 297,259.2 296.4,259.2 296.1,259.2 292.8,259.2 287.8,259.3 283.5,259.3 282.8,259.3 280.8,259.3 277.8,259.3 272.9,259.4 272.2,259.4 271.9,259.4 267.9,259.4 264.7,259.4 262.9,259.4 262,259.4 257.9,259.5 256.6,259.5 253,259.6 252.9,259.6 250.1,259.6 248,259.7 246.8,259.7 245.6,259.7 243,259.7 241.1,259.8 239,259.7 238,259.6 233.3,259.4 233,259.4 230.3,259.3 229.7,259.3 228,259.3 223.8,259.2 223.1,259.3 221.4,259.4 218.1,259.8 217.5,259.8 216.6,259.9 215.7,260 214.2,260.1 213.1,260.2 210,260.5 209.7,260.5 208.1,260.7 204.9,261 203.1,261.1 201.6,261.3 198.2,261.4 197.2,261.4 193.2,261.6 192.1,261.6 191.2,261.6 188.2,261.7 186.4,261.8 185.2,261.8 183.2,261.7 180.4,261.6 178.2,261.6 177.1,261.6 176.2,261.5 173.3,261.4 168.8,261.3 168.5,261.3 168.3,261.3 167.3,261.3 163.3,261.1 161.3,261.1 159.2,261 158.3,260.9 153.3,260.7 151.4,260.6 151.1,260.6 148.4,260.4 145.8,260.3 143.4,260.2 142.8,260.1 138.4,259.9 135.9,259.7 133.5,259.6 133.4,259.6 133.2,259.6 129.9,259.4 128.4,259.3 125.2,259.1 123.7,259 123.5,259 118.5,259.3 115.9,259.4 113.5,259.5 111.4,259.6 110.5,259.7 109.6,259.8 108.5,259.9 103.6,260.2 103.5,260.2 98.6,260.6 93.6,260.9 93.2,260.9 88.6,261.2 87.8,261.3 86.6,261.3 86.3,261.4 83.6,261.5 83,261.6 78.6,261.7 77.6,261.8 75.3,261.9 73.7,262 70.5,262.1 68.7,262.2 67.2,262.2 65.7,262.1 65.1,262.1 63.7,262 58.7,261.7 54.9,261.5 53.7,261.4 51.3,261.3 48.8,261.2 46,261.1 43.8,261 38.8,260.9" fill="#bcfafa"/>
<polygon points="38.8,226.5 43.8,226.5 46,226.5 48.8,226.5 51.3,226.5 53.7,226.5 54.9,226.5 58.7,226.5 63.7,226.5 65.1,226.5 65.7,226.5 67.2,226.5 68.7,226.5 70.5,226.5 73.7,226.5 75.3,226.5 77.6,226.5 78.6,226.5 83,226.5 83.6,226.5 86.3,226.5 86.6,226.5 87.8,226.5 88.6,226.5 93.2,226.5 93.6,226.5 98.6,226.5 103.5,226.5 103.6,226.5 108.5,226.5 109.6,226.5 110.5,226.5 111.4,226.5 113.5,226.5 115.9,226.5 118.5,226.5 123.5,226.5 123.7,226.5 125.2,226.5 128.4,226.5 129.9,226.5 133.2,226.5 133.4,226.5 133.5,226.5 135.9,226.5 138.4,226.5 142.8,226.5 143.4,226.5 145.8,226.5 148.4,226.5 151.1,226.5 151.4,226.5 153.3,226.5 158.3,226.5 159.2,226.5 161.3,226.5 163.3,226.5 167.3,226.5 168.3,226.5 168.5,226.5 168.8,226.5 173.3,226.5 176.2,226.5 177.1,226.5 178.2,226.5 180.4,226.5 183.2,226.5 185.2,226.5 186.4,226.5 188.2,226.5 191.2,226.5 192.1,226.5 193.2,226.5 197.2,226.5 198.2,226.5 201.6,226.5 203.1,226.5 204.9,226.5 208.1,226.5 209.7,226.5 210,226.5 213.1,226.5 214.2,226.5 215.7,226.5 216.6,226.5 217.5,226.5 218.1,226.5 221.4,226.5 223.1,226.5 223.8,226.5 228,226.5 229.7,226.5 230.3,226.5 233,226.5 233.3,226.5 238,226.5 239,226.5 241.1,226.5 243,226.5 245.6,226.5 246.8,226.5 248,226.5 250.1,226.5 252.9,226.5 253,226.5 256.6,226.5 257.9,226.5 262,226.5 262.9,226.5 264.7,226.5 267.9,226.5 271.9,226.5 272.2,226.5 272.9,226.5 277.8,226.5 280.8,226.5 282.8,226.5 283.5,226.5 287.8,226.5 292.8,226.5 296.1,226.5 296.4,226.5 297,226.5 297.8,226.5 302.7,226.5 307.7,226.5 309.2,226.5 312.7,226.5 312.8,226.5 317.7,226.5 321.8,226.5 322.7,226.5 327.6,226.5 328.6,226.5 332.6,226.5 337.6,226.5 337.6,237.9 332.6,237.9 328.6,237.9 327.6,237.9 322.7,237.9 321.8,237.9 317.7,237.9 312.8,237.9 312.7,237.9 309.2,237.9 307.7,237.9 302.7,237.9 297.8,237.9 297,237.9 296.4,237.9 296.1,237.9 292.8,237.9 287.8,237.9 283.5,237.9 282.8,237.9 280.8,237.9 277.8,237.9 272.9,237.9 272.2,237.9 271.9,237.9 267.9,237.9 264.7,237.9 262.9,238 262,238 257.9,238 256.6,238 253,238 252.9,238 250.1,238 248,238 246.8,238 245.6,238 243,238 241.1,238 239,238 238,238 233.3,237.9 233,237.9 230.3,237.9 229.7,237.9 228,237.9 223.8,237.9 223.1,237.9 221.4,238 218.1,238 217.5,238 216.6,238 215.7,238 214.2,238.1 213.1,238.1 210,238.1 209.7,238.1 208.1,238.2 204.9,238.2 203.1,238.2 201.6,238.3 198.2,238.3 197.2,238.3 193.2,238.3 192.1,238.3 191.2,238.3 188.2,238.3 186.4,238.3 185.2,238.3 183.2,238.3 180.4,238.3 178.2,238.3 177.1,238.3 176.2,238.3 173.3,238.3 168.8,238.3 168.5,238.3 168.3,238.3 167.3,238.3 163.3,238.2 161.3,238.2 159.2,238.2 158.3,238.2 153.3,238.2 151.4,238.1 151.1,238.1 148.4,238.1 145.8,238.1 143.4,238.1 142.8,238.1 138.4,238 135.9,238 133.5,238 133.4,238 133.2,238 129.9,237.9 128.4,237.9 125.2,237.9 123.7,237.9 123.5,237.9 118.5,237.9 115.9,237.9 113.5,238 111.4,238 110.5,238 109.6,238 108.5,238 103.6,238.1 103.5,238.1 98.6,238.1 93.6,238.2 93.2,238.2 88.6,238.3 87.8,238.3 86.6,238.3 86.3,238.3 83.6,238.3 83,238.3 78.6,238.3 77.6,238.3 75.3,238.4 73.7,238.4 70.5,238.4 68.7,238.4 67.2,238.4 65.7,238.4 65.1,238.4 63.7,238.4 58.7,238.3 54.9,238.3 53.7,238.3 51.3,238.3 48.8,238.2 46,238.2 43.8,238.2 38.8,238.2" fill="#12ac12"/>
<polygon points="38.8,237 43.8,237 46,237 48.8,237 51.3,237.1 53.7,237.1 54.9,237.1 58.7,237.1 63.7,237.2 65.1,237.2 65.7,237.2 67.2,237.2 68.7,237.2 70.5,237.2 73.7,237.2 75.3,237.2 77.6,237.1 78.6,237.1 83,237.1 83.6,237.1 86.3,237.1 86.6,237.1 87.8,237.1 88.6,237.1 93.2,237 93.6,237 98.6,236.9 103.5,236.9 103.6,236.9 108.5,236.8 109.6,236.8 110.5,236.8 111.4,236.8 113.5,236.8 115.9,236.7 118.5,236.7 123.5,236.7 123.7,236.7 125.2,236.7 128.4,236.7 129.9,236.8 133.2,236.8 133.4,236.8 133.5,236.8 135.9,236.8 138.4,236.8 142.8,236.9 143.4,236.9 145.8,236.9 148.4,236.9 151.1,236.9 151.4,236.9 153.3,237 158.3,237 159.2,237 161.3,237 163.3,237 167.3,237.1 168.3,237.1 168.5,237.1 168.8,237.1 173.3,237.1 176.2,237.1 177.1,237.1 178.2,237.1 180.4,237.1 183.2,237.1 185.2,237.1 186.4,237.2 188.2,237.1 191.2,237.1 192.1,237.1 193.2,237.1 197.2,237.1 198.2,237.1 201.6,237.1 203.1,237 204.9,237 208.1,237 209.7,236.9 210,236.9 213.1,236.9 214.2,236.9 215.7,236.8 216.6,236.8 217.5,236.8 218.1,236.8 221.4,236.8 223.1,236.7 223.8,236.7 228,236.7 229.7,236.7 230.3,236.7 233,236.7 233.3,236.8 238,236.8 239,236.8 241.1,236.8 243,236.8 245.6,236.8 246.8,236.8 248,236.8 250.1,236.8 252.9,236.8 253,236.8 256.6,236.8 257.9,236.8 262,236.8 262.9,236.8 264.7,236.8 267.9,236.7 271.9,236.7 272.2,236.7 272.9,236.7 277.8,236.7 280.8,236.7 282.8,236.7 283.5,236.7 287.8,236.7 292.8,236.7 296.1,236.7 296.4,236.7 297,236.7 297.8,236.7 302.7,236.7 307.7,236.7 309.2,236.7 312.7,236.7 312.8,236.7 317.7,236.7 321.8,236.7 322.7,236.7 327.6,236.7 328.6,236.7 332.6,236.7 337.6,236.7 337.6,247.2 332.6,247.2 328.6,247.2 327.6,247.2 322.7,247.2 321.8,247.2 317.7,247.2 312.8,247.2 312.7,247.2 309.2,247.2 307.7,247.2 302.7,247.2 297.8,247.2 297,247.2 296.4,247.2 296.1,247.2 292.8,247.2 287.8,247.3 283.5,247.3 282.8,247.3 280.8,247.3 277.8,247.3 272.9,247.4 272.2,247.4 271.9,247.4 267.9,247.4 264.7,247.4 262.9,247.4 262,247.4 257.9,247.5 256.6,247.5 253,247.6 252.9,247.6 250.1,247.6 248,247.7 246.8,247.7 245.6,247.7 243,247.7 241.1,247.8 239,247.7 238,247.6 233.3,247.4 233,247.4 230.3,247.3 229.7,247.3 228,247.3 223.8,247.2 223.1,247.3 221.4,247.4 218.1,247.8 217.5,247.8 216.6,247.9 215.7,248 214.2,248.1 213.1,248.2 210,248.5 209.7,248.5 208.1,248.7 204.9,249 203.1,249.1 201.6,249.3 198.2,249.4 197.2,249.4 193.2,249.6 192.1,249.6 191.2,249.6 188.2,249.7 186.4,249.8 185.2,249.8 183.2,249.7 180.4,249.6 178.2,249.6 177.1,249.6 176.2,249.5 173.3,249.4 168.8,249.3 168.5,249.3 168.3,249.3 167.3,249.3 163.3,249.1 161.3,249.1 159.2,249 158.3,248.9 153.3,248.7 151.4,248.6 151.1,248.6 148.4,248.4 145.8,248.3 143.4,248.2 142.8,248.1 138.4,247.9 135.9,247.7 133.5,247.6 133.4,247.6 133.2,247.6 129.9,247.4 128.4,247.3 125.2,247.1 123.7,247 123.5,247 118.5,247.3 115.9,247.4 113.5,247.5 111.4,247.6 110.5,247.7 109.6,247.8 108.5,247.9 103.6,248.2 103.5,248.2 98.6,248.6 93.6,248.9 93.2,248.9 88.6,249.2 87.8,249.3 86.6,249.3 86.3,249.4 83.6,249.5 83,249.6 78.6,249.7 77.6,249.8 75.3,249.9 73.7,250 70.5,250.1 68.7,250.2 67.2,250.2 65.7,250.1 65.1,250.1 63.7,250 58.7,249.7 54.9,249.5 53.7,249.4 51.3,249.3 48.8,249.2 46,249.1 43.8,249 38.8,248.9" fill="#199b11"/>
<polygon points="144,272.8 145.8,273.1 148.4,273.5 151.1,274 151.4,274 153.3,274.3 156.2,274.8 158.3,275.1 159.2,275.2 161.3,275.3 163.1,275.4 163.3,275.4 167.3,275.6 168.3,275.7 168.5,275.7 168.8,275.7 171.2,275.7 173.3,275.7 176.2,275.7 176.5,275.7 177.1,275.7 178.2,275.7 180.4,275.7 183.2,275.8 184.3,275.9 185.2,275.9 186.4,276 188.2,276.1 190.6,276.2 191.2,276.3 192.1,276.3 193.2,276.3 196,276.4 197.2,276.5 198.2,276.5 199.9,276.5 201.6,276.6 203.1,275.8 203.1,275.8 201.6,279.3 199.9,282.5 198.2,283.4 197.2,284 196,284.6 193.2,283.7 192.1,283.3 191.2,283 190.6,282.8 188.2,282 186.4,281.4 185.2,281 184.3,280.7 183.2,280.3 180.4,279.4 178.2,280.1 177.1,280.5 176.5,280.7 176.2,280.7 173.3,281.2 171.2,281.5 168.8,281.5 168.5,281.5 168.3,281.4 167.3,281.4 163.3,281.1 163.1,281.1 161.3,280.4 159.2,279.5 158.3,278.7 156.2,276.8 153.3,275.7 151.4,274.9 151.1,274.9 148.4,274.1 145.8,273.3 144,272.8" fill="#22a8ec"/>
<polygon points="270.4,279.9 271.9,280.3 272.2,280.4 272.9,280.5 277.8,280.8 280.8,281.1 282.8,281.2 283.5,281.3 287.8,281.9 292.8,282.7 296.1,283.2 296.4,283.2 297,283.3 297.8,283.3 302.7,283.8 307.7,284.3 309.2,284.4 312.7,284.8 312.8,284.9 317.7,285.5 321.8,286 322.7,286.1 327.6,286.7 328.6,286.9 332.6,287.4 337.6,288 337.6,293.8 332.6,293 328.6,292.4 327.6,292.3 322.7,291.6 321.8,291.5 317.7,291 312.8,290.4 312.7,290.4 309.2,289.7 307.7,289.4 302.7,288.6 297.8,287.8 297,287.7 296.4,287.6 296.1,287.5 292.8,286.5 287.8,285 283.5,283.7 282.8,283.6 280.8,283.1 277.8,282.3 272.9,280.9 272.2,280.7 271.9,280.6 270.4,279.9" fill="#0a0ad2"/>
<polyline points="38.8,275.2 43.8,276 46,276.4 48.8,277 51.3,277.5 53.7,278 54.9,278.2 58.7,279 63.7,280 65.1,280.3 65.7,280.2 67.2,279.8 68.7,279.4 70.5,279 73.7,278.6 75.3,278.5 77.6,278.2 78.6,278.2 83,278.4 83.6,278.4 86.3,278.5 86.6,278.4 87.8,278 88.6,277.8 93.2,276.4 93.6,276.3 98.6,275.5 103.5,274.7 103.6,274.7 108.5,273.9 109.6,273.7 110.5,273.6 111.4,273.4 113.5,272.8 115.9,272.2 118.5,271.8 123.5,271 123.7,270.9 125.2,270.7 128.4,270.9 129.9,271 133.2,271.2 133.4,271.2 133.5,271.2 135.9,271.6 138.4,271.9 142.8,272.6 143.4,272.7 145.8,273.1 148.4,273.5 151.1,274 151.4,274 153.3,274.3 158.3,275.1 159.2,275.2 161.3,275.3 163.3,275.4 167.3,275.6 168.3,275.7 168.5,275.7 168.8,275.7 173.3,275.7 176.2,275.7 177.1,275.7 178.2,275.7 180.4,275.7 183.2,275.8 185.2,275.9 186.4,276 188.2,276.1 191.2,276.3 192.1,276.3 193.2,276.3 197.2,276.5 198.2,276.5 201.6,276.6 203.1,275.8 204.9,274.9 208.1,274.3 209.7,274 210,274 213.1,273.7 214.2,273.6 215.7,273.4 216.6,273.5 217.5,273.6 218.1,273.7 221.4,274.1 223.1,274.3 223.8,274.4 228,274.9 229.7,275.1 230.3,275.2 233,275 233.3,275 238,274.6 239,274.5 241.1,274.4 243,274.2 245.6,274.1 246.8,274 248,274.2 250.1,274.5 252.9,274.9 253,274.9 256.6,275.9 257.9,276.3 262,277.5 262.9,277.8 264.7,278.3 267.9,279.2 271.9,280.3 272.2,280.4 272.9,280.5 277.8,280.8 280.8,281.1 282.8,281.2 283.5,281.3 287.8,281.9 292.8,282.7 296.1,283.2 296.4,283.2 297,283.3 297.8,283.3 302.7,283.8 307.7,284.3 309.2,284.4 312.7,284.8 312.8,284.9 317.7,285.5 321.8,286 322.7,286.1 327.6,286.7 328.6,286.9 332.6,287.4 337.6,288" fill="none" stroke="#8a9aa8" stroke-width="0.7" opacity="0.8"/>
<line x1="38.8" y1="214.7" x2="38.8" y2="360.2" stroke="#bbb" stroke-width="0.8"/>
<line x1="338.1" y1="217.7" x2="338.1" y2="358.2" stroke="#ccc" stroke-width="0.8"/>
<line x1="38.8" y1="217.7" x2="338.6" y2="217.7" stroke="#bbb" stroke-width="0.8"/>
<line x1="38.8" y1="358.2" x2="338.6" y2="358.2" stroke="#999" stroke-width="1.2"/>
<g font-family="Liberation Sans, sans-serif" font-size="2.8" fill="#b4b4b4"><text x="57" y="216.2">10</text><text x="75.2" y="216.2">20</text><text x="93.5" y="216.2">30</text><text x="111.7" y="216.2">40</text><text x="129.9" y="216.2">50</text><text x="148.1" y="216.2">60</text><text x="166.3" y="216.2">70</text><text x="184.6" y="216.2">80</text><text x="202.8" y="216.2">90</text><text x="221" y="216.2">100</text><text x="239.2" y="216.2">110</text><text x="257.4" y="216.2">120</text><text x="275.7" y="216.2">130</text><text x="293.9" y="216.2">140</text><text x="312.1" y="216.2">150</text><text x="188.2" y="213.2">km</text><text x="38.8" y="362.2">0</text><text x="68.1" y="362.2">250</text><text x="97.4" y="362.2">500</text><text x="126.7" y="362.2">750</text><text x="156" y="362.2">1000</text><text x="185.3" y="362.2">1250</text><text x="214.6" y="362.2">1500</text><text x="243.9" y="362.2">1750</text><text x="273.2" y="362.2">2000</text><text x="302.4" y="362.2">2250</text><text x="331.7" y="362.2">2500</text><text x="31.8" y="227.5">0</text><text x="31.8" y="243.9">250</text><text x="31.8" y="260.4">500</text><text x="31.8" y="276.9">750</text><text x="31.8" y="293.3">1000</text><text x="31.8" y="309.8">1250</text><text x="31.8" y="326.2">1500</text><text x="31.8" y="342.6">1750</text><text x="31.8" y="359.1">2000</text><text x="30.3" y="284.3" transform="rotate(-90 30.3 284.3)" font-size="3">Depth (m)</text></g>
<line x1="338.6" y1="226.5" x2="349.6" y2="226.5" stroke="#ccc" stroke-width="0.6"/><line x1="338.6" y1="236.7" x2="349.6" y2="236.7" stroke="#ccc" stroke-width="0.6"/><line x1="338.6" y1="247.2" x2="349.6" y2="247.2" stroke="#ccc" stroke-width="0.6"/><line x1="338.6" y1="262" x2="349.6" y2="262" stroke="#ccc" stroke-width="0.6"/><line x1="338.6" y1="274.5" x2="349.6" y2="274.5" stroke="#ccc" stroke-width="0.6"/><line x1="338.6" y1="287" x2="349.6" y2="287" stroke="#ccc" stroke-width="0.6"/><text x="340.6" y="232.5" font-size="3.4" fill="#888" font-family="Liberation Sans, sans-serif">K1 al</text><text x="340.6" y="242.5" font-size="3.4" fill="#888" font-family="Liberation Sans, sans-serif">K1 al</text><text x="340.6" y="256.4" font-size="3.4" fill="#888" font-family="Liberation Sans, sans-serif">K1 al</text><text x="340.6" y="269.8" font-size="3.4" fill="#888" font-family="Liberation Sans, sans-serif">K1 al</text><text x="340.6" y="281.7" font-size="3.4" fill="#888" font-family="Liberation Sans, sans-serif">K1 al</text><text x="340.6" y="290.7" font-size="3.4" fill="#888" font-family="Liberation Sans, sans-serif">K1 al</text>
<text x="338.6" y="361.7" font-size="3.5" fill="#89a" font-family="Liberation Sans, sans-serif">@Petrel</text>
<text x="45" y="219.8" font-size="11.6" font-family="Liberation Sans, sans-serif" fill="#000" stroke="#000" stroke-width="0.25" textLength="12.5" lengthAdjust="spacingAndGlyphs">СЗ</text>
<text x="299.6" y="220.0" font-size="11.6" font-family="Liberation Sans, sans-serif" fill="#000" stroke="#000" stroke-width="0.25" textLength="17.2" lengthAdjust="spacingAndGlyphs">ЮВ</text>
<rect x="27" y="366" width="323" height="155.5" fill="#fff"/>
<polygon points="38.8,411.7 43.8,411.9 46,411.9 48.8,412 51.3,412.1 53.7,412.3 54.9,412.4 58.7,412.6 63.7,413 65.1,413.1 65.7,413.1 67.2,413.2 68.7,413.2 70.5,413.1 73.7,412.9 75.3,412.8 77.6,412.7 78.6,412.7 83,412.5 83.6,412.4 86.3,412.2 86.6,412.2 87.8,412.1 88.6,412.1 93.2,411.7 93.6,411.7 98.6,411.3 103.5,410.9 103.6,410.9 108.5,410.5 109.6,410.4 110.5,410.3 111.4,410.2 113.5,410.1 115.9,409.9 118.5,409.8 123.5,409.5 123.7,409.5 125.2,409.6 128.4,409.8 129.9,409.9 133.2,410.2 133.4,410.2 133.5,410.2 135.9,410.3 138.4,410.5 142.8,410.8 143.4,410.8 145.8,411 148.4,411.2 151.1,411.3 151.4,411.3 153.3,411.4 158.3,411.7 159.2,411.8 161.3,411.9 163.3,412 167.3,412.1 168.3,412.2 168.5,412.2 168.8,412.2 173.3,412.3 176.2,412.4 177.1,412.5 178.2,412.5 180.4,412.6 183.2,412.7 185.2,412.7 186.4,412.8 188.2,412.7 191.2,412.6 192.1,412.5 193.2,412.5 197.2,412.3 198.2,412.3 201.6,412.1 203.1,412 204.9,411.8 208.1,411.4 209.7,411.3 210,411.2 213.1,410.9 214.2,410.8 215.7,410.6 216.6,410.5 217.5,410.4 218.1,410.4 221.4,410 223.1,409.8 223.8,409.7 228,409.8 229.7,409.9 230.3,409.9 233,409.9 233.3,409.9 238,410.2 239,410.3 241.1,410.4 243,410.3 245.6,410.3 246.8,410.3 248,410.2 250.1,410.2 252.9,410.2 253,410.2 256.6,410.1 257.9,410.1 262,410 262.9,410 264.7,409.9 267.9,409.9 271.9,409.9 272.2,409.9 272.9,409.9 277.8,409.9 280.8,409.8 282.8,409.8 283.5,409.8 287.8,409.8 292.8,409.8 296.1,409.7 296.4,409.7 297,409.7 297.8,409.7 302.7,409.7 307.7,409.7 309.2,409.7 312.7,409.7 312.8,409.7 317.7,409.7 321.8,409.7 322.7,409.7 327.6,409.7 328.6,409.7 332.6,409.7 337.6,409.7 337.6,450.9 332.6,450.3 328.6,449.7 327.6,449.6 322.7,448.7 321.8,448.6 317.7,447.9 312.8,447.1 312.7,447.1 309.2,446.5 307.7,446.3 302.7,445.5 297.8,444.7 297,444.6 296.4,444.5 296.1,444.5 292.8,444 287.8,443.4 283.5,442.8 282.8,442.7 280.8,442.4 277.8,442.1 272.9,441.6 272.2,441.6 271.9,441.6 267.9,440.6 264.7,439.8 262.9,439.4 262,439.2 257.9,438.2 256.6,437.8 253,437.1 252.9,437.1 250.1,436.5 248,436.1 246.8,435.9 245.6,435.6 243,435.9 241.1,436 239,436.2 238,436.3 233.3,436.7 233,436.7 230.3,437 229.7,437 228,436.9 223.8,436.7 223.1,436.6 221.4,436.5 218.1,436.4 217.5,436.3 216.6,436.3 215.7,436.3 214.2,436.5 213.1,436.5 210,436.8 209.7,436.9 208.1,437.4 204.9,438.5 203.1,439.1 201.6,439.3 198.2,439.8 197.2,439.9 193.2,439.9 192.1,439.9 191.2,439.9 188.2,439.6 186.4,439.4 185.2,439.3 183.2,439.2 180.4,439 178.2,438.9 177.1,438.8 176.2,438.8 173.3,438.8 168.8,438.7 168.5,438.7 168.3,438.7 167.3,438.7 163.3,438.5 161.3,438.4 159.2,438.3 158.3,438.3 153.3,437 151.4,436.6 151.1,436.5 148.4,435.8 145.8,435.2 143.4,434.6 142.8,434.5 138.4,434 135.9,433.7 133.5,433.4 133.4,433.4 133.2,433.3 129.9,433 128.4,432.9 125.2,432.5 123.7,432.4 123.5,432.4 118.5,433.6 115.9,434.2 113.5,434.8 111.4,435.3 110.5,435.5 109.6,435.7 108.5,435.9 103.6,436.8 103.5,436.9 98.6,437.8 93.6,439.4 93.2,439.5 88.6,440.9 87.8,441.1 86.6,441.2 86.3,441.2 83.6,441.5 83,441.5 78.6,441.9 77.6,442 75.3,442.3 73.7,442.5 70.5,442.9 68.7,443.2 67.2,443.4 65.7,443.6 65.1,443.5 63.7,443.2 58.7,442 54.9,441.1 53.7,440.8 51.3,440.3 48.8,440 46,439.7 43.8,439.5 38.8,439" fill="#a2f7f9"/>
<polygon points="38.8,411.7 43.8,411.9 46,411.9 48.8,412 51.3,412.1 53.7,412.3 54.9,412.4 58.7,412.6 63.7,413 65.1,413.1 65.7,413.1 67.2,413.2 68.7,413.2 70.5,413.1 73.7,412.9 75.3,412.8 77.6,412.7 78.6,412.7 83,412.5 83.6,412.4 86.3,412.2 86.6,412.2 87.8,412.1 88.6,412.1 93.2,411.7 93.6,411.7 98.6,411.3 103.5,410.9 103.6,410.9 108.5,410.5 109.6,410.4 110.5,410.3 111.4,410.2 113.5,410.1 115.9,409.9 118.5,409.8 123.5,409.5 123.7,409.5 125.2,409.6 128.4,409.8 129.9,409.9 133.2,410.2 133.4,410.2 133.5,410.2 135.9,410.3 138.4,410.5 142.8,410.8 143.4,410.8 145.8,411 148.4,411.2 151.1,411.3 151.4,411.3 153.3,411.4 158.3,411.7 159.2,411.8 161.3,411.9 163.3,412 167.3,412.1 168.3,412.2 168.5,412.2 168.8,412.2 173.3,412.3 176.2,412.4 177.1,412.5 178.2,412.5 180.4,412.6 183.2,412.7 185.2,412.7 186.4,412.8 188.2,412.7 191.2,412.6 192.1,412.5 193.2,412.5 197.2,412.3 198.2,412.3 201.6,412.1 203.1,412 204.9,411.8 208.1,411.4 209.7,411.3 210,411.2 213.1,410.9 214.2,410.8 215.7,410.6 216.6,410.5 217.5,410.4 218.1,410.4 221.4,410 223.1,409.8 223.8,409.7 228,409.8 229.7,409.9 230.3,409.9 233,409.9 233.3,409.9 238,410.2 239,410.3 241.1,410.4 243,410.3 245.6,410.3 246.8,410.3 248,410.2 250.1,410.2 252.9,410.2 253,410.2 256.6,410.1 257.9,410.1 262,410 262.9,410 264.7,409.9 267.9,409.9 271.9,409.9 272.2,409.9 272.9,409.9 277.8,409.9 280.8,409.8 282.8,409.8 283.5,409.8 287.8,409.8 292.8,409.8 296.1,409.7 296.4,409.7 297,409.7 297.8,409.7 302.7,409.7 307.7,409.7 309.2,409.7 312.7,409.7 312.8,409.7 317.7,409.7 321.8,409.7 322.7,409.7 327.6,409.7 328.6,409.7 332.6,409.7 337.6,409.7 337.6,425.7 332.6,425.7 328.6,425.7 327.6,425.7 322.7,425.7 321.8,425.7 317.7,425.7 312.8,425.7 312.7,425.7 309.2,425.7 307.7,425.7 302.7,425.7 297.8,425.7 297,425.7 296.4,425.7 296.1,425.7 292.8,425.8 287.8,425.8 283.5,425.8 282.8,425.8 280.8,425.8 277.8,425.9 272.9,425.9 272.2,425.9 271.9,425.9 267.9,425.9 264.7,425.9 262.9,426 262,426 257.9,426.1 256.6,426.1 253,426.2 252.9,426.2 250.1,426.2 248,426.2 246.8,426.3 245.6,426.3 243,426.3 241.1,426.4 239,426.3 238,426.2 233.3,425.9 233,425.9 230.3,425.9 229.7,425.9 228,425.8 223.8,425.7 223.1,425.8 221.4,426 218.1,426.4 217.5,426.4 216.6,426.5 215.7,426.6 214.2,426.8 213.1,426.9 210,427.2 209.7,427.3 208.1,427.4 204.9,427.8 203.1,428 201.6,428.1 198.2,428.3 197.2,428.3 193.2,428.5 192.1,428.5 191.2,428.6 188.2,428.7 186.4,428.8 185.2,428.7 183.2,428.7 180.4,428.6 178.2,428.5 177.1,428.5 176.2,428.4 173.3,428.3 168.8,428.2 168.5,428.2 168.3,428.2 167.3,428.1 163.3,428 161.3,427.9 159.2,427.8 158.3,427.7 153.3,427.4 151.4,427.3 151.1,427.3 148.4,427.2 145.8,427 143.4,426.8 142.8,426.8 138.4,426.5 135.9,426.3 133.5,426.2 133.4,426.2 133.2,426.2 129.9,425.9 128.4,425.8 125.2,425.6 123.7,425.5 123.5,425.5 118.5,425.8 115.9,425.9 113.5,426.1 111.4,426.2 110.5,426.3 109.6,426.4 108.5,426.5 103.6,426.9 103.5,426.9 98.6,427.3 93.6,427.7 93.2,427.7 88.6,428.1 87.8,428.1 86.6,428.2 86.3,428.2 83.6,428.4 83,428.5 78.6,428.7 77.6,428.7 75.3,428.8 73.7,428.9 70.5,429.1 68.7,429.2 67.2,429.2 65.7,429.1 65.1,429.1 63.7,429 58.7,428.6 54.9,428.4 53.7,428.3 51.3,428.1 48.8,428 46,427.9 43.8,427.9 38.8,427.7" fill="#bcfafa"/>
<polygon points="38.8,381.9 43.8,381.9 46,381.9 48.8,381.9 51.3,381.9 53.7,381.9 54.9,381.9 58.7,381.9 63.7,381.9 65.1,381.9 65.7,381.9 67.2,381.9 68.7,381.9 70.5,381.9 73.7,381.9 75.3,381.9 77.6,381.9 78.6,381.9 83,381.9 83.6,381.9 86.3,381.9 86.6,381.9 87.8,381.9 88.6,381.9 93.2,381.9 93.6,381.9 98.6,381.9 103.5,381.9 103.6,381.9 108.5,381.9 109.6,381.9 110.5,381.9 111.4,381.9 113.5,381.9 115.9,381.9 118.5,381.9 123.5,381.9 123.7,381.9 125.2,381.9 128.4,381.9 129.9,381.9 133.2,381.9 133.4,381.9 133.5,381.9 135.9,381.9 138.4,381.9 142.8,381.9 143.4,381.9 145.8,381.9 148.4,381.9 151.1,381.9 151.4,381.9 153.3,381.9 158.3,381.9 159.2,381.9 161.3,381.9 163.3,381.9 167.3,381.9 168.3,381.9 168.5,381.9 168.8,381.9 173.3,381.9 176.2,381.9 177.1,381.9 178.2,381.9 180.4,381.9 183.2,381.9 185.2,381.9 186.4,381.9 188.2,381.9 191.2,381.9 192.1,381.9 193.2,381.9 197.2,381.9 198.2,381.9 201.6,381.9 203.1,381.9 204.9,381.9 208.1,381.9 209.7,381.9 210,381.9 213.1,381.9 214.2,381.9 215.7,381.9 216.6,381.9 217.5,381.9 218.1,381.9 221.4,381.9 223.1,381.9 223.8,381.9 228,381.9 229.7,381.9 230.3,381.9 233,381.9 233.3,381.9 238,381.9 239,381.9 241.1,381.9 243,381.9 245.6,381.9 246.8,381.9 248,381.9 250.1,381.9 252.9,381.9 253,381.9 256.6,381.9 257.9,381.9 262,381.9 262.9,381.9 264.7,381.9 267.9,381.9 271.9,381.9 272.2,381.9 272.9,381.9 277.8,381.9 280.8,381.9 282.8,381.9 283.5,381.9 287.8,381.9 292.8,381.9 296.1,381.9 296.4,381.9 297,381.9 297.8,381.9 302.7,381.9 307.7,381.9 309.2,381.9 312.7,381.9 312.8,381.9 317.7,381.9 321.8,381.9 322.7,381.9 327.6,381.9 328.6,381.9 332.6,381.9 337.6,381.9 337.6,391.7 332.6,391.7 328.6,391.7 327.6,391.7 322.7,391.7 321.8,391.7 317.7,391.7 312.8,391.7 312.7,391.7 309.2,391.7 307.7,391.7 302.7,391.7 297.8,391.7 297,391.7 296.4,391.7 296.1,391.7 292.8,391.7 287.8,391.7 283.5,391.7 282.8,391.7 280.8,391.7 277.8,391.7 272.9,391.7 272.2,391.7 271.9,391.7 267.9,391.7 264.7,391.8 262.9,391.8 262,391.8 257.9,391.8 256.6,391.8 253,391.8 252.9,391.8 250.1,391.8 248,391.8 246.8,391.8 245.6,391.8 243,391.8 241.1,391.8 239,391.8 238,391.8 233.3,391.8 233,391.7 230.3,391.7 229.7,391.7 228,391.7 223.8,391.7 223.1,391.7 221.4,391.8 218.1,391.8 217.5,391.8 216.6,391.8 215.7,391.8 214.2,391.9 213.1,391.9 210,391.9 209.7,391.9 208.1,392 204.9,392 203.1,392 201.6,392.1 198.2,392.1 197.2,392.1 193.2,392.1 192.1,392.1 191.2,392.1 188.2,392.1 186.4,392.1 185.2,392.1 183.2,392.1 180.4,392.1 178.2,392.1 177.1,392.1 176.2,392.1 173.3,392.1 168.8,392.1 168.5,392.1 168.3,392.1 167.3,392.1 163.3,392 161.3,392 159.2,392 158.3,392 153.3,392 151.4,391.9 151.1,391.9 148.4,391.9 145.8,391.9 143.4,391.9 142.8,391.9 138.4,391.8 135.9,391.8 133.5,391.8 133.4,391.8 133.2,391.8 129.9,391.8 128.4,391.7 125.2,391.7 123.7,391.7 123.5,391.7 118.5,391.7 115.9,391.7 113.5,391.8 111.4,391.8 110.5,391.8 109.6,391.8 108.5,391.8 103.6,391.9 103.5,391.9 98.6,391.9 93.6,392 93.2,392 88.6,392.1 87.8,392.1 86.6,392.1 86.3,392.1 83.6,392.1 83,392.1 78.6,392.1 77.6,392.1 75.3,392.2 73.7,392.2 70.5,392.2 68.7,392.2 67.2,392.2 65.7,392.2 65.1,392.2 63.7,392.2 58.7,392.1 54.9,392.1 53.7,392.1 51.3,392.1 48.8,392 46,392 43.8,392 38.8,392" fill="#0dcb43"/>
<polygon points="38.8,390.8 43.8,390.8 46,390.8 48.8,390.8 51.3,390.9 53.7,390.9 54.9,390.9 58.7,390.9 63.7,391 65.1,391 65.7,391 67.2,391 68.7,391 70.5,391 73.7,391 75.3,391 77.6,390.9 78.6,390.9 83,390.9 83.6,390.9 86.3,390.9 86.6,390.9 87.8,390.9 88.6,390.9 93.2,390.8 93.6,390.8 98.6,390.8 103.5,390.7 103.6,390.7 108.5,390.6 109.6,390.6 110.5,390.6 111.4,390.6 113.5,390.6 115.9,390.5 118.5,390.5 123.5,390.5 123.7,390.5 125.2,390.5 128.4,390.5 129.9,390.6 133.2,390.6 133.4,390.6 133.5,390.6 135.9,390.6 138.4,390.6 142.8,390.7 143.4,390.7 145.8,390.7 148.4,390.7 151.1,390.7 151.4,390.7 153.3,390.8 158.3,390.8 159.2,390.8 161.3,390.8 163.3,390.8 167.3,390.9 168.3,390.9 168.5,390.9 168.8,390.9 173.3,390.9 176.2,390.9 177.1,390.9 178.2,390.9 180.4,390.9 183.2,390.9 185.2,390.9 186.4,390.9 188.2,390.9 191.2,390.9 192.1,390.9 193.2,390.9 197.2,390.9 198.2,390.9 201.6,390.9 203.1,390.8 204.9,390.8 208.1,390.8 209.7,390.7 210,390.7 213.1,390.7 214.2,390.7 215.7,390.6 216.6,390.6 217.5,390.6 218.1,390.6 221.4,390.6 223.1,390.5 223.8,390.5 228,390.5 229.7,390.5 230.3,390.5 233,390.5 233.3,390.6 238,390.6 239,390.6 241.1,390.6 243,390.6 245.6,390.6 246.8,390.6 248,390.6 250.1,390.6 252.9,390.6 253,390.6 256.6,390.6 257.9,390.6 262,390.6 262.9,390.6 264.7,390.6 267.9,390.5 271.9,390.5 272.2,390.5 272.9,390.5 277.8,390.5 280.8,390.5 282.8,390.5 283.5,390.5 287.8,390.5 292.8,390.5 296.1,390.5 296.4,390.5 297,390.5 297.8,390.5 302.7,390.5 307.7,390.5 309.2,390.5 312.7,390.5 312.8,390.5 317.7,390.5 321.8,390.5 322.7,390.5 327.6,390.5 328.6,390.5 332.6,390.5 337.6,390.5 337.6,402.9 332.6,402.9 328.6,402.9 327.6,402.9 322.7,402.9 321.8,402.9 317.7,402.9 312.8,402.9 312.7,402.9 309.2,402.9 307.7,402.9 302.7,402.9 297.8,402.9 297,402.9 296.4,402.9 296.1,402.9 292.8,402.9 287.8,402.9 283.5,402.9 282.8,402.9 280.8,402.9 277.8,402.9 272.9,402.9 272.2,402.9 271.9,402.9 267.9,402.9 264.7,402.9 262.9,403 262,403 257.9,403 256.6,403 253,403 252.9,403 250.1,403.1 248,403.1 246.8,403.1 245.6,403.1 243,403.1 241.1,403.1 239,403.1 238,403.1 233.3,402.9 233,402.9 230.3,402.9 229.7,402.9 228,402.9 223.8,402.9 223.1,402.9 221.4,403 218.1,403.1 217.5,403.2 216.6,403.2 215.7,403.2 214.2,403.3 213.1,403.4 210,403.5 209.7,403.5 208.1,403.6 204.9,403.7 203.1,403.8 201.6,403.9 198.2,403.9 197.2,404 193.2,404 192.1,404 191.2,404.1 188.2,404.1 186.4,404.1 185.2,404.1 183.2,404.1 180.4,404.1 178.2,404 177.1,404 176.2,404 173.3,404 168.8,403.9 168.5,403.9 168.3,403.9 167.3,403.9 163.3,403.8 161.3,403.8 159.2,403.7 158.3,403.7 153.3,403.6 151.4,403.5 151.1,403.5 148.4,403.5 145.8,403.4 143.4,403.3 142.8,403.3 138.4,403.2 135.9,403.1 133.5,403.1 133.4,403 133.2,403 129.9,402.9 128.4,402.9 125.2,402.8 123.7,402.7 123.5,402.7 118.5,402.9 115.9,402.9 113.5,403 111.4,403.1 110.5,403.1 109.6,403.1 108.5,403.2 103.6,403.4 103.5,403.4 98.6,403.6 93.6,403.7 93.2,403.7 88.6,403.9 87.8,403.9 86.6,403.9 86.3,403.9 83.6,404 83,404 78.6,404.1 77.6,404.1 75.3,404.2 73.7,404.2 70.5,404.3 68.7,404.3 67.2,404.4 65.7,404.3 65.1,404.3 63.7,404.3 58.7,404.1 54.9,404 53.7,404 51.3,403.9 48.8,403.8 46,403.8 43.8,403.8 38.8,403.7" fill="#12ac12"/>
<polygon points="38.8,402.5 43.8,402.6 46,402.6 48.8,402.6 51.3,402.7 53.7,402.8 54.9,402.8 58.7,402.9 63.7,403.1 65.1,403.1 65.7,403.1 67.2,403.2 68.7,403.1 70.5,403.1 73.7,403 75.3,403 77.6,402.9 78.6,402.9 83,402.8 83.6,402.8 86.3,402.7 86.6,402.7 87.8,402.7 88.6,402.7 93.2,402.5 93.6,402.5 98.6,402.4 103.5,402.2 103.6,402.2 108.5,402 109.6,401.9 110.5,401.9 111.4,401.9 113.5,401.8 115.9,401.7 118.5,401.7 123.5,401.5 123.7,401.5 125.2,401.6 128.4,401.7 129.9,401.8 133.2,401.8 133.4,401.8 133.5,401.9 135.9,401.9 138.4,402 142.8,402.1 143.4,402.1 145.8,402.2 148.4,402.3 151.1,402.3 151.4,402.3 153.3,402.4 158.3,402.5 159.2,402.5 161.3,402.6 163.3,402.6 167.3,402.7 168.3,402.7 168.5,402.7 168.8,402.7 173.3,402.8 176.2,402.8 177.1,402.8 178.2,402.8 180.4,402.9 183.2,402.9 185.2,402.9 186.4,402.9 188.2,402.9 191.2,402.9 192.1,402.8 193.2,402.8 197.2,402.8 198.2,402.7 201.6,402.7 203.1,402.6 204.9,402.5 208.1,402.4 209.7,402.3 210,402.3 213.1,402.2 214.2,402.1 215.7,402 216.6,402 217.5,402 218.1,401.9 221.4,401.8 223.1,401.7 223.8,401.7 228,401.7 229.7,401.7 230.3,401.7 233,401.7 233.3,401.8 238,401.9 239,401.9 241.1,401.9 243,401.9 245.6,401.9 246.8,401.9 248,401.9 250.1,401.9 252.9,401.8 253,401.8 256.6,401.8 257.9,401.8 262,401.8 262.9,401.8 264.7,401.8 267.9,401.7 271.9,401.7 272.2,401.7 272.9,401.7 277.8,401.7 280.8,401.7 282.8,401.7 283.5,401.7 287.8,401.7 292.8,401.7 296.1,401.7 296.4,401.7 297,401.7 297.8,401.7 302.7,401.7 307.7,401.7 309.2,401.7 312.7,401.7 312.8,401.7 317.7,401.7 321.8,401.7 322.7,401.7 327.6,401.7 328.6,401.7 332.6,401.7 337.6,401.7 337.6,409.7 332.6,409.7 328.6,409.7 327.6,409.7 322.7,409.7 321.8,409.7 317.7,409.7 312.8,409.7 312.7,409.7 309.2,409.7 307.7,409.7 302.7,409.7 297.8,409.7 297,409.7 296.4,409.7 296.1,409.7 292.8,409.8 287.8,409.8 283.5,409.8 282.8,409.8 280.8,409.8 277.8,409.9 272.9,409.9 272.2,409.9 271.9,409.9 267.9,409.9 264.7,409.9 262.9,410 262,410 257.9,410.1 256.6,410.1 253,410.2 252.9,410.2 250.1,410.2 248,410.2 246.8,410.3 245.6,410.3 243,410.3 241.1,410.4 239,410.3 238,410.2 233.3,409.9 233,409.9 230.3,409.9 229.7,409.9 228,409.8 223.8,409.7 223.1,409.8 221.4,410 218.1,410.4 217.5,410.4 216.6,410.5 215.7,410.6 214.2,410.8 213.1,410.9 210,411.2 209.7,411.3 208.1,411.4 204.9,411.8 203.1,412 201.6,412.1 198.2,412.3 197.2,412.3 193.2,412.5 192.1,412.5 191.2,412.6 188.2,412.7 186.4,412.8 185.2,412.7 183.2,412.7 180.4,412.6 178.2,412.5 177.1,412.5 176.2,412.4 173.3,412.3 168.8,412.2 168.5,412.2 168.3,412.2 167.3,412.1 163.3,412 161.3,411.9 159.2,411.8 158.3,411.7 153.3,411.4 151.4,411.3 151.1,411.3 148.4,411.2 145.8,411 143.4,410.8 142.8,410.8 138.4,410.5 135.9,410.3 133.5,410.2 133.4,410.2 133.2,410.2 129.9,409.9 128.4,409.8 125.2,409.6 123.7,409.5 123.5,409.5 118.5,409.8 115.9,409.9 113.5,410.1 111.4,410.2 110.5,410.3 109.6,410.4 108.5,410.5 103.6,410.9 103.5,410.9 98.6,411.3 93.6,411.7 93.2,411.7 88.6,412.1 87.8,412.1 86.6,412.2 86.3,412.2 83.6,412.4 83,412.5 78.6,412.7 77.6,412.7 75.3,412.8 73.7,412.9 70.5,413.1 68.7,413.2 67.2,413.2 65.7,413.1 65.1,413.1 63.7,413 58.7,412.6 54.9,412.4 53.7,412.3 51.3,412.1 48.8,412 46,411.9 43.8,411.9 38.8,411.7" fill="#199b11"/>
<polygon points="144,434.8 145.8,435.2 148.4,435.8 151.1,436.5 151.4,436.6 153.3,437 156.2,437.8 158.3,438.3 159.2,438.3 161.3,438.4 163.1,438.5 163.3,438.5 167.3,438.7 168.3,438.7 168.5,438.7 168.8,438.7 171.2,438.7 173.3,438.8 176.2,438.8 176.5,438.8 177.1,438.8 178.2,438.9 180.4,439 183.2,439.2 184.3,439.3 185.2,439.3 186.4,439.4 188.2,439.6 190.6,439.9 191.2,439.9 192.1,439.9 193.2,439.9 196,439.9 197.2,439.9 198.2,439.8 199.9,439.6 201.6,439.3 203.1,439.1 203.1,439.1 201.6,442 199.9,445.6 198.2,446.8 197.2,447.5 196,448.1 193.2,447.3 192.1,447 191.2,446.7 190.6,446.5 188.2,445.5 186.4,444.8 185.2,444.4 184.3,444.1 183.2,443.7 180.4,442.7 178.2,443.3 177.1,443.6 176.5,443.8 176.2,443.8 173.3,444.2 171.2,444.5 168.8,444.5 168.5,444.5 168.3,444.5 167.3,444.4 163.3,444.2 163.1,444.2 161.3,443.5 159.2,442.6 158.3,441.9 156.2,439.8 153.3,438.4 151.4,437.5 151.1,437.4 148.4,436.4 145.8,435.4 144,434.8" fill="#22a8ec"/>
<polygon points="270.4,441.2 271.9,441.6 272.2,441.6 272.9,441.6 277.8,442.1 280.8,442.4 282.8,442.7 283.5,442.8 287.8,443.4 292.8,444 296.1,444.5 296.4,444.5 297,444.6 297.8,444.7 302.7,445.5 307.7,446.3 309.2,446.5 312.7,447.1 312.8,447.1 317.7,447.9 321.8,448.6 322.7,448.7 327.6,449.6 328.6,449.7 332.6,450.3 337.6,450.9 337.6,456 332.6,455.2 328.6,454.6 327.6,454.4 322.7,453.6 321.8,453.4 317.7,452.7 312.8,451.9 312.7,451.9 309.2,451.2 307.7,450.8 302.7,449.7 297.8,448.7 297,448.5 296.4,448.3 296.1,448.3 292.8,447.4 287.8,446.1 283.5,444.9 282.8,444.7 280.8,444.2 277.8,443.4 272.9,442.1 272.2,441.9 271.9,441.8 270.4,441.2" fill="#0a0ad2"/>
<polyline points="38.8,439 43.8,439.5 46,439.7 48.8,440 51.3,440.3 53.7,440.8 54.9,441.1 58.7,442 63.7,443.2 65.1,443.5 65.7,443.6 67.2,443.4 68.7,443.2 70.5,442.9 73.7,442.5 75.3,442.3 77.6,442 78.6,441.9 83,441.5 83.6,441.5 86.3,441.2 86.6,441.2 87.8,441.1 88.6,440.9 93.2,439.5 93.6,439.4 98.6,437.8 103.5,436.9 103.6,436.8 108.5,435.9 109.6,435.7 110.5,435.5 111.4,435.3 113.5,434.8 115.9,434.2 118.5,433.6 123.5,432.4 123.7,432.4 125.2,432.5 128.4,432.9 129.9,433 133.2,433.3 133.4,433.4 133.5,433.4 135.9,433.7 138.4,434 142.8,434.5 143.4,434.6 145.8,435.2 148.4,435.8 151.1,436.5 151.4,436.6 153.3,437 158.3,438.3 159.2,438.3 161.3,438.4 163.3,438.5 167.3,438.7 168.3,438.7 168.5,438.7 168.8,438.7 173.3,438.8 176.2,438.8 177.1,438.8 178.2,438.9 180.4,439 183.2,439.2 185.2,439.3 186.4,439.4 188.2,439.6 191.2,439.9 192.1,439.9 193.2,439.9 197.2,439.9 198.2,439.8 201.6,439.3 203.1,439.1 204.9,438.5 208.1,437.4 209.7,436.9 210,436.8 213.1,436.5 214.2,436.5 215.7,436.3 216.6,436.3 217.5,436.3 218.1,436.4 221.4,436.5 223.1,436.6 223.8,436.7 228,436.9 229.7,437 230.3,437 233,436.7 233.3,436.7 238,436.3 239,436.2 241.1,436 243,435.9 245.6,435.6 246.8,435.9 248,436.1 250.1,436.5 252.9,437.1 253,437.1 256.6,437.8 257.9,438.2 262,439.2 262.9,439.4 264.7,439.8 267.9,440.6 271.9,441.6 272.2,441.6 272.9,441.6 277.8,442.1 280.8,442.4 282.8,442.7 283.5,442.8 287.8,443.4 292.8,444 296.1,444.5 296.4,444.5 297,444.6 297.8,444.7 302.7,445.5 307.7,446.3 309.2,446.5 312.7,447.1 312.8,447.1 317.7,447.9 321.8,448.6 322.7,448.7 327.6,449.6 328.6,449.7 332.6,450.3 337.6,450.9" fill="none" stroke="#8a9aa8" stroke-width="0.7" opacity="0.8"/>
<line x1="38.8" y1="369.8" x2="38.8" y2="516.3" stroke="#bbb" stroke-width="0.8"/>
<line x1="338.1" y1="372.8" x2="338.1" y2="514.3" stroke="#ccc" stroke-width="0.8"/>
<line x1="38.8" y1="372.8" x2="338.6" y2="372.8" stroke="#bbb" stroke-width="0.8"/>
<line x1="38.8" y1="514.3" x2="338.6" y2="514.3" stroke="#999" stroke-width="1.2"/>
<g font-family="Liberation Sans, sans-serif" font-size="2.8" fill="#b4b4b4"><text x="57" y="371.3">10</text><text x="75.2" y="371.3">20</text><text x="93.5" y="371.3">30</text><text x="111.7" y="371.3">40</text><text x="129.9" y="371.3">50</text><text x="148.1" y="371.3">60</text><text x="166.3" y="371.3">70</text><text x="184.6" y="371.3">80</text><text x="202.8" y="371.3">90</text><text x="221" y="371.3">100</text><text x="239.2" y="371.3">110</text><text x="257.4" y="371.3">120</text><text x="275.7" y="371.3">130</text><text x="293.9" y="371.3">140</text><text x="312.1" y="371.3">150</text><text x="188.2" y="368.3">km</text><text x="38.8" y="518.3">0</text><text x="68.1" y="518.3">250</text><text x="97.4" y="518.3">500</text><text x="126.7" y="518.3">750</text><text x="156" y="518.3">1000</text><text x="185.3" y="518.3">1250</text><text x="214.6" y="518.3">1500</text><text x="243.9" y="518.3">1750</text><text x="273.2" y="518.3">2000</text><text x="302.4" y="518.3">2250</text><text x="331.7" y="518.3">2500</text><text x="31.8" y="382.9">0</text><text x="31.8" y="399.3">250</text><text x="31.8" y="415.8">500</text><text x="31.8" y="432.2">750</text><text x="31.8" y="448.7">1000</text><text x="31.8" y="465.1">1250</text><text x="31.8" y="481.6">1500</text><text x="31.8" y="498">1750</text><text x="31.8" y="514.5">2000</text><text x="30.3" y="439.7" transform="rotate(-90 30.3 439.7)" font-size="3">Depth (m)</text></g>
<line x1="338.6" y1="381.9" x2="349.6" y2="381.9" stroke="#ccc" stroke-width="0.6"/><line x1="338.6" y1="390.5" x2="349.6" y2="390.5" stroke="#ccc" stroke-width="0.6"/><line x1="338.6" y1="401.7" x2="349.6" y2="401.7" stroke="#ccc" stroke-width="0.6"/><line x1="338.6" y1="409.7" x2="349.6" y2="409.7" stroke="#ccc" stroke-width="0.6"/><text x="340.6" y="387" font-size="3.4" fill="#888" font-family="Liberation Sans, sans-serif">K1 al</text><text x="340.6" y="397" font-size="3.4" fill="#888" font-family="Liberation Sans, sans-serif">K1 al</text><text x="340.6" y="408" font-size="3.4" fill="#888" font-family="Liberation Sans, sans-serif">K1 al</text><text x="340.6" y="421" font-size="3.4" fill="#888" font-family="Liberation Sans, sans-serif">K1 al</text><text x="340.6" y="435" font-size="3.4" fill="#888" font-family="Liberation Sans, sans-serif">K1 al</text><text x="340.6" y="447" font-size="3.4" fill="#888" font-family="Liberation Sans, sans-serif">K1 al</text><text x="340.6" y="453" font-size="3.4" fill="#888" font-family="Liberation Sans, sans-serif">K1 al</text>
<text x="338.6" y="517.8" font-size="3.5" fill="#89a" font-family="Liberation Sans, sans-serif">@Petrel</text>
<text x="45" y="383.7" font-size="11.6" font-family="Liberation Sans, sans-serif" fill="#000" stroke="#000" stroke-width="0.25" textLength="12.5" lengthAdjust="spacingAndGlyphs">СЗ</text>
<text x="300" y="383.59999999999997" font-size="11.6" font-family="Liberation Sans, sans-serif" fill="#000" stroke="#000" stroke-width="0.25" textLength="17.2" lengthAdjust="spacingAndGlyphs">ЮВ</text>
<rect x="361" y="46" width="323" height="160" fill="#fff"/>
<polygon points="372.8,105.2 377.8,105.4 380,105.5 382.8,105.7 385.3,105.8 387.7,106 388.9,106.2 392.7,106.5 397.7,107 399.1,107.2 399.7,107.2 401.2,107.4 402.7,107.3 404.5,107.2 407.7,107 409.3,106.8 411.6,106.7 412.6,106.6 417,106.3 417.6,106.2 420.3,106 420.6,105.9 421.8,105.8 422.6,105.7 427.2,105.3 427.6,105.2 432.6,104.7 437.5,104.1 437.6,104.1 442.5,103.5 443.6,103.3 444.5,103.2 445.4,103.1 447.5,102.9 449.9,102.7 452.5,102.5 457.5,102 457.7,102 459.2,102.2 462.4,102.5 463.9,102.7 467.2,103 467.4,103 467.5,103 469.9,103.3 472.4,103.5 476.8,103.9 477.4,104 479.8,104.2 482.4,104.4 485.1,104.7 485.4,104.7 487.3,104.8 492.3,105.2 493.2,105.3 495.3,105.5 497.3,105.6 501.3,105.8 502.3,105.9 502.5,105.9 502.8,105.9 507.3,106.1 510.2,106.3 511.1,106.3 512.2,106.3 514.4,106.4 517.2,106.6 519.2,106.6 520.4,106.7 522.2,106.6 525.2,106.4 526.1,106.4 527.2,106.3 531.2,106.1 532.2,106 535.6,105.8 537.1,105.6 538.9,105.3 542.1,104.8 543.7,104.6 544,104.5 547.1,104.1 548.2,103.9 549.7,103.7 550.6,103.5 551.5,103.4 552.1,103.3 555.4,102.8 557.1,102.5 557.8,102.4 562,102.5 563.7,102.6 564.3,102.6 567,102.7 567.3,102.7 572,103.1 573,103.1 575.1,103.3 577,103.3 579.6,103.2 580.8,103.2 582,103.1 584.1,103.1 586.9,103 587,103 590.6,102.9 591.9,102.9 596,102.8 596.9,102.7 598.7,102.7 601.9,102.7 605.9,102.6 606.2,102.6 606.9,102.6 611.8,102.6 614.8,102.5 616.8,102.5 617.5,102.5 621.8,102.5 626.8,102.4 630.1,102.4 630.4,102.4 631,102.4 631.8,102.4 636.7,102.4 641.7,102.4 643.2,102.4 646.7,102.4 646.8,102.4 651.7,102.4 655.8,102.4 656.7,102.4 661.6,102.4 662.6,102.4 666.6,102.4 671.6,102.4 671.6,143.4 666.6,142.8 662.6,142.3 661.6,142.1 656.7,141.4 655.8,141.3 651.7,140.6 646.8,139.9 646.7,139.9 643.2,139.4 641.7,139.2 636.7,138.4 631.8,137.7 631,137.6 630.4,137.5 630.1,137.5 626.8,137.1 621.8,136.5 617.5,135.9 616.8,135.8 614.8,135.6 611.8,135.3 606.9,134.9 606.2,134.8 605.9,134.8 601.9,133.9 598.7,133.2 596.9,132.8 596,132.6 591.9,131.7 590.6,131.4 587,130.7 586.9,130.7 584.1,130.2 582,129.8 580.8,129.5 579.6,129.3 577,129.5 575.1,129.7 573,129.8 572,129.9 567.3,130.3 567,130.3 564.3,130.6 563.7,130.6 562,130.5 557.8,130.3 557.1,130.2 555.4,130.2 552.1,130 551.5,129.9 550.6,129.9 549.7,130 548.2,130.1 547.1,130.2 544,130.4 543.7,130.5 542.1,131 538.9,132 537.1,132.6 535.6,132.8 532.2,133.3 531.2,133.4 527.2,133.4 526.1,133.4 525.2,133.4 522.2,133.1 520.4,132.9 519.2,132.8 517.2,132.7 514.4,132.5 512.2,132.4 511.1,132.3 510.2,132.3 507.3,132.3 502.8,132.2 502.5,132.2 502.3,132.2 501.3,132.2 497.3,132 495.3,131.9 493.2,131.8 492.3,131.8 487.3,130.6 485.4,130.2 485.1,130.1 482.4,129.5 479.8,128.9 477.4,128.3 476.8,128.2 472.4,127.7 469.9,127.4 467.5,127.1 467.4,127.1 467.2,127.1 463.9,126.8 462.4,126.7 459.2,126.3 457.7,126.2 457.5,126.2 452.5,127.4 449.9,128 447.5,128.5 445.4,129 444.5,129.2 443.6,129.3 442.5,129.5 437.6,130.5 437.5,130.5 432.6,131.4 427.6,132.8 427.2,132.9 422.6,134.3 421.8,134.5 420.6,134.6 420.3,134.6 417.6,134.9 417,134.9 412.6,135.3 411.6,135.4 409.3,135.6 407.7,135.8 404.5,136.2 402.7,136.5 401.2,136.7 399.7,136.9 399.1,136.8 397.7,136.5 392.7,135.3 388.9,134.5 387.7,134.2 385.3,133.7 382.8,133.5 380,133.2 377.8,133 372.8,132.5" fill="#a2f7f9"/>
<polygon points="372.8,105.2 377.8,105.4 380,105.5 382.8,105.7 385.3,105.8 387.7,106 388.9,106.2 392.7,106.5 397.7,107 399.1,107.2 399.7,107.2 401.2,107.4 402.7,107.3 404.5,107.2 407.7,107 409.3,106.8 411.6,106.7 412.6,106.6 417,106.3 417.6,106.2 420.3,106 420.6,105.9 421.8,105.8 422.6,105.7 427.2,105.3 427.6,105.2 432.6,104.7 437.5,104.1 437.6,104.1 442.5,103.5 443.6,103.3 444.5,103.2 445.4,103.1 447.5,102.9 449.9,102.7 452.5,102.5 457.5,102 457.7,102 459.2,102.2 462.4,102.5 463.9,102.7 467.2,103 467.4,103 467.5,103 469.9,103.3 472.4,103.5 476.8,103.9 477.4,104 479.8,104.2 482.4,104.4 485.1,104.7 485.4,104.7 487.3,104.8 492.3,105.2 493.2,105.3 495.3,105.5 497.3,105.6 501.3,105.8 502.3,105.9 502.5,105.9 502.8,105.9 507.3,106.1 510.2,106.3 511.1,106.3 512.2,106.3 514.4,106.4 517.2,106.6 519.2,106.6 520.4,106.7 522.2,106.6 525.2,106.4 526.1,106.4 527.2,106.3 531.2,106.1 532.2,106 535.6,105.8 537.1,105.6 538.9,105.3 542.1,104.8 543.7,104.6 544,104.5 547.1,104.1 548.2,103.9 549.7,103.7 550.6,103.5 551.5,103.4 552.1,103.3 555.4,102.8 557.1,102.5 557.8,102.4 562,102.5 563.7,102.6 564.3,102.6 567,102.7 567.3,102.7 572,103.1 573,103.1 575.1,103.3 577,103.3 579.6,103.2 580.8,103.2 582,103.1 584.1,103.1 586.9,103 587,103 590.6,102.9 591.9,102.9 596,102.8 596.9,102.7 598.7,102.7 601.9,102.7 605.9,102.6 606.2,102.6 606.9,102.6 611.8,102.6 614.8,102.5 616.8,102.5 617.5,102.5 621.8,102.5 626.8,102.4 630.1,102.4 630.4,102.4 631,102.4 631.8,102.4 636.7,102.4 641.7,102.4 643.2,102.4 646.7,102.4 646.8,102.4 651.7,102.4 655.8,102.4 656.7,102.4 661.6,102.4 662.6,102.4 666.6,102.4 671.6,102.4 671.6,117.4 666.6,117.4 662.6,117.4 661.6,117.4 656.7,117.4 655.8,117.4 651.7,117.4 646.8,117.4 646.7,117.4 643.2,117.4 641.7,117.4 636.7,117.4 631.8,117.4 631,117.4 630.4,117.4 630.1,117.4 626.8,117.4 621.8,117.5 617.5,117.5 616.8,117.5 614.8,117.5 611.8,117.6 606.9,117.6 606.2,117.6 605.9,117.6 601.9,117.7 598.7,117.7 596.9,117.7 596,117.8 591.9,117.9 590.6,117.9 587,118 586.9,118 584.1,118.1 582,118.1 580.8,118.2 579.6,118.2 577,118.3 575.1,118.3 573,118.1 572,118.1 567.3,117.7 567,117.7 564.3,117.6 563.7,117.6 562,117.5 557.8,117.4 557.1,117.5 555.4,117.8 552.1,118.3 551.5,118.4 550.6,118.5 549.7,118.7 548.2,118.9 547.1,119.1 544,119.5 543.7,119.6 542.1,119.8 538.9,120.3 537.1,120.6 535.6,120.8 532.2,121 531.2,121.1 527.2,121.3 526.1,121.4 525.2,121.4 522.2,121.6 520.4,121.7 519.2,121.6 517.2,121.6 514.4,121.4 512.2,121.3 511.1,121.3 510.2,121.3 507.3,121.1 502.8,120.9 502.5,120.9 502.3,120.9 501.3,120.8 497.3,120.6 495.3,120.5 493.2,120.3 492.3,120.2 487.3,119.8 485.4,119.7 485.1,119.7 482.4,119.4 479.8,119.2 477.4,119 476.8,118.9 472.4,118.5 469.9,118.3 467.5,118 467.4,118 467.2,118 463.9,117.7 462.4,117.5 459.2,117.2 457.7,117 457.5,117 452.5,117.5 449.9,117.7 447.5,117.9 445.4,118.1 444.5,118.2 443.6,118.3 442.5,118.5 437.6,119.1 437.5,119.1 432.6,119.7 427.6,120.2 427.2,120.3 422.6,120.7 421.8,120.8 420.6,120.9 420.3,121 417.6,121.2 417,121.3 412.6,121.6 411.6,121.7 409.3,121.8 407.7,122 404.5,122.2 402.7,122.3 401.2,122.4 399.7,122.2 399.1,122.2 397.7,122 392.7,121.5 388.9,121.2 387.7,121 385.3,120.8 382.8,120.7 380,120.5 377.8,120.4 372.8,120.2" fill="#bcfafa"/>
<polygon points="372.8,67.6 377.8,67.6 380,67.6 382.8,67.6 385.3,67.6 387.7,67.6 388.9,67.6 392.7,67.6 397.7,67.6 399.1,67.6 399.7,67.6 401.2,67.6 402.7,67.6 404.5,67.6 407.7,67.6 409.3,67.6 411.6,67.6 412.6,67.6 417,67.6 417.6,67.6 420.3,67.6 420.6,67.6 421.8,67.6 422.6,67.6 427.2,67.6 427.6,67.6 432.6,67.6 437.5,67.6 437.6,67.6 442.5,67.6 443.6,67.6 444.5,67.6 445.4,67.6 447.5,67.6 449.9,67.6 452.5,67.6 457.5,67.6 457.7,67.6 459.2,67.6 462.4,67.6 463.9,67.6 467.2,67.6 467.4,67.6 467.5,67.6 469.9,67.6 472.4,67.6 476.8,67.6 477.4,67.6 479.8,67.6 482.4,67.6 485.1,67.6 485.4,67.6 487.3,67.6 492.3,67.6 493.2,67.6 495.3,67.6 497.3,67.6 501.3,67.6 502.3,67.6 502.5,67.6 502.8,67.6 507.3,67.6 510.2,67.6 511.1,67.6 512.2,67.6 514.4,67.6 517.2,67.6 519.2,67.6 520.4,67.6 522.2,67.6 525.2,67.6 526.1,67.6 527.2,67.6 531.2,67.6 532.2,67.6 535.6,67.6 537.1,67.6 538.9,67.6 542.1,67.6 543.7,67.6 544,67.6 547.1,67.6 548.2,67.6 549.7,67.6 550.6,67.6 551.5,67.6 552.1,67.6 555.4,67.6 557.1,67.6 557.8,67.6 562,67.6 563.7,67.6 564.3,67.6 567,67.6 567.3,67.6 572,67.6 573,67.6 575.1,67.6 577,67.6 579.6,67.6 580.8,67.6 582,67.6 584.1,67.6 586.9,67.6 587,67.6 590.6,67.6 591.9,67.6 596,67.6 596.9,67.6 598.7,67.6 601.9,67.6 605.9,67.6 606.2,67.6 606.9,67.6 611.8,67.6 614.8,67.6 616.8,67.6 617.5,67.6 621.8,67.6 626.8,67.6 630.1,67.6 630.4,67.6 631,67.6 631.8,67.6 636.7,67.6 641.7,67.6 643.2,67.6 646.7,67.6 646.8,67.6 651.7,67.6 655.8,67.6 656.7,67.6 661.6,67.6 662.6,67.6 666.6,67.6 671.6,67.6 671.6,76.2 666.6,76.2 662.6,76.2 661.6,76.2 656.7,76.2 655.8,76.2 651.7,76.2 646.8,76.2 646.7,76.2 643.2,76.2 641.7,76.2 636.7,76.2 631.8,76.2 631,76.2 630.4,76.2 630.1,76.2 626.8,76.2 621.8,76.2 617.5,76.2 616.8,76.2 614.8,76.2 611.8,76.2 606.9,76.2 606.2,76.2 605.9,76.2 601.9,76.2 598.7,76.2 596.9,76.3 596,76.3 591.9,76.3 590.6,76.3 587,76.3 586.9,76.3 584.1,76.3 582,76.3 580.8,76.3 579.6,76.3 577,76.3 575.1,76.3 573,76.3 572,76.3 567.3,76.2 567,76.2 564.3,76.2 563.7,76.2 562,76.2 557.8,76.2 557.1,76.2 555.4,76.3 552.1,76.3 551.5,76.3 550.6,76.3 549.7,76.3 548.2,76.4 547.1,76.4 544,76.4 543.7,76.4 542.1,76.5 538.9,76.5 537.1,76.5 535.6,76.6 532.2,76.6 531.2,76.6 527.2,76.6 526.1,76.6 525.2,76.6 522.2,76.6 520.4,76.7 519.2,76.6 517.2,76.6 514.4,76.6 512.2,76.6 511.1,76.6 510.2,76.6 507.3,76.6 502.8,76.6 502.5,76.6 502.3,76.6 501.3,76.6 497.3,76.5 495.3,76.5 493.2,76.5 492.3,76.5 487.3,76.5 485.4,76.4 485.1,76.4 482.4,76.4 479.8,76.4 477.4,76.4 476.8,76.4 472.4,76.3 469.9,76.3 467.5,76.3 467.4,76.3 467.2,76.3 463.9,76.2 462.4,76.2 459.2,76.2 457.7,76.2 457.5,76.2 452.5,76.2 449.9,76.2 447.5,76.3 445.4,76.3 444.5,76.3 443.6,76.3 442.5,76.3 437.6,76.4 437.5,76.4 432.6,76.5 427.6,76.5 427.2,76.5 422.6,76.6 421.8,76.6 420.6,76.6 420.3,76.6 417.6,76.6 417,76.6 412.6,76.6 411.6,76.6 409.3,76.7 407.7,76.7 404.5,76.7 402.7,76.7 401.2,76.7 399.7,76.7 399.1,76.7 397.7,76.7 392.7,76.6 388.9,76.6 387.7,76.6 385.3,76.6 382.8,76.5 380,76.5 377.8,76.5 372.8,76.5" fill="#5ae60e"/>
<polygon points="372.8,75.3 377.8,75.3 380,75.3 382.8,75.3 385.3,75.4 387.7,75.4 388.9,75.4 392.7,75.4 397.7,75.5 399.1,75.5 399.7,75.5 401.2,75.5 402.7,75.5 404.5,75.5 407.7,75.5 409.3,75.5 411.6,75.4 412.6,75.4 417,75.4 417.6,75.4 420.3,75.4 420.6,75.4 421.8,75.4 422.6,75.4 427.2,75.3 427.6,75.3 432.6,75.2 437.5,75.2 437.6,75.2 442.5,75.1 443.6,75.1 444.5,75.1 445.4,75.1 447.5,75.1 449.9,75 452.5,75 457.5,75 457.7,75 459.2,75 462.4,75 463.9,75 467.2,75.1 467.4,75.1 467.5,75.1 469.9,75.1 472.4,75.1 476.8,75.2 477.4,75.2 479.8,75.2 482.4,75.2 485.1,75.2 485.4,75.2 487.3,75.3 492.3,75.3 493.2,75.3 495.3,75.3 497.3,75.3 501.3,75.4 502.3,75.4 502.5,75.4 502.8,75.4 507.3,75.4 510.2,75.4 511.1,75.4 512.2,75.4 514.4,75.4 517.2,75.4 519.2,75.4 520.4,75.5 522.2,75.4 525.2,75.4 526.1,75.4 527.2,75.4 531.2,75.4 532.2,75.4 535.6,75.4 537.1,75.3 538.9,75.3 542.1,75.3 543.7,75.2 544,75.2 547.1,75.2 548.2,75.2 549.7,75.1 550.6,75.1 551.5,75.1 552.1,75.1 555.4,75.1 557.1,75 557.8,75 562,75 563.7,75 564.3,75 567,75 567.3,75 572,75.1 573,75.1 575.1,75.1 577,75.1 579.6,75.1 580.8,75.1 582,75.1 584.1,75.1 586.9,75.1 587,75.1 590.6,75.1 591.9,75.1 596,75.1 596.9,75.1 598.7,75 601.9,75 605.9,75 606.2,75 606.9,75 611.8,75 614.8,75 616.8,75 617.5,75 621.8,75 626.8,75 630.1,75 630.4,75 631,75 631.8,75 636.7,75 641.7,75 643.2,75 646.7,75 646.8,75 651.7,75 655.8,75 656.7,75 661.6,75 662.6,75 666.6,75 671.6,75 671.6,84.4 666.6,84.4 662.6,84.4 661.6,84.4 656.7,84.4 655.8,84.4 651.7,84.4 646.8,84.4 646.7,84.4 643.2,84.4 641.7,84.4 636.7,84.4 631.8,84.4 631,84.4 630.4,84.4 630.1,84.4 626.8,84.4 621.8,84.4 617.5,84.4 616.8,84.4 614.8,84.4 611.8,84.4 606.9,84.4 606.2,84.4 605.9,84.4 601.9,84.4 598.7,84.5 596.9,84.5 596,84.5 591.9,84.5 590.6,84.5 587,84.5 586.9,84.5 584.1,84.6 582,84.6 580.8,84.6 579.6,84.6 577,84.6 575.1,84.6 573,84.6 572,84.6 567.3,84.5 567,84.4 564.3,84.4 563.7,84.4 562,84.4 557.8,84.4 557.1,84.4 555.4,84.5 552.1,84.6 551.5,84.7 550.6,84.7 549.7,84.7 548.2,84.8 547.1,84.9 544,85 543.7,85 542.1,85.1 538.9,85.2 537.1,85.3 535.6,85.4 532.2,85.4 531.2,85.5 527.2,85.5 526.1,85.5 525.2,85.6 522.2,85.6 520.4,85.7 519.2,85.6 517.2,85.6 514.4,85.6 512.2,85.5 511.1,85.5 510.2,85.5 507.3,85.5 502.8,85.4 502.5,85.4 502.3,85.4 501.3,85.4 497.3,85.3 495.3,85.3 493.2,85.2 492.3,85.2 487.3,85.1 485.4,85 485.1,85 482.4,85 479.8,84.9 477.4,84.8 476.8,84.8 472.4,84.7 469.9,84.6 467.5,84.6 467.4,84.5 467.2,84.5 463.9,84.5 462.4,84.4 459.2,84.3 457.7,84.2 457.5,84.2 452.5,84.4 449.9,84.4 447.5,84.5 445.4,84.6 444.5,84.6 443.6,84.6 442.5,84.7 437.6,84.9 437.5,84.9 432.6,85 427.6,85.2 427.2,85.2 422.6,85.4 421.8,85.4 420.6,85.4 420.3,85.4 417.6,85.5 417,85.5 412.6,85.6 411.6,85.6 409.3,85.7 407.7,85.7 404.5,85.8 402.7,85.8 401.2,85.9 399.7,85.8 399.1,85.8 397.7,85.8 392.7,85.6 388.9,85.5 387.7,85.5 385.3,85.4 382.8,85.3 380,85.3 377.8,85.3 372.8,85.2" fill="#0dcb43"/>
<polygon points="372.8,84 377.8,84.1 380,84.1 382.8,84.1 385.3,84.2 387.7,84.3 388.9,84.3 392.7,84.4 397.7,84.6 399.1,84.6 399.7,84.6 401.2,84.7 402.7,84.6 404.5,84.6 407.7,84.5 409.3,84.5 411.6,84.4 412.6,84.4 417,84.3 417.6,84.3 420.3,84.2 420.6,84.2 421.8,84.2 422.6,84.2 427.2,84 427.6,84 432.6,83.8 437.5,83.7 437.6,83.7 442.5,83.5 443.6,83.4 444.5,83.4 445.4,83.4 447.5,83.3 449.9,83.2 452.5,83.2 457.5,83 457.7,83 459.2,83.1 462.4,83.2 463.9,83.2 467.2,83.3 467.4,83.3 467.5,83.4 469.9,83.4 472.4,83.5 476.8,83.6 477.4,83.6 479.8,83.7 482.4,83.8 485.1,83.8 485.4,83.8 487.3,83.9 492.3,84 493.2,84 495.3,84.1 497.3,84.1 501.3,84.2 502.3,84.2 502.5,84.2 502.8,84.2 507.3,84.3 510.2,84.3 511.1,84.3 512.2,84.3 514.4,84.4 517.2,84.4 519.2,84.4 520.4,84.5 522.2,84.4 525.2,84.4 526.1,84.3 527.2,84.3 531.2,84.3 532.2,84.2 535.6,84.2 537.1,84.1 538.9,84 542.1,83.9 543.7,83.8 544,83.8 547.1,83.7 548.2,83.6 549.7,83.5 550.6,83.5 551.5,83.5 552.1,83.4 555.4,83.3 557.1,83.2 557.8,83.2 562,83.2 563.7,83.2 564.3,83.2 567,83.2 567.3,83.2 572,83.4 573,83.4 575.1,83.4 577,83.4 579.6,83.4 580.8,83.4 582,83.4 584.1,83.4 586.9,83.3 587,83.3 590.6,83.3 591.9,83.3 596,83.3 596.9,83.3 598.7,83.2 601.9,83.2 605.9,83.2 606.2,83.2 606.9,83.2 611.8,83.2 614.8,83.2 616.8,83.2 617.5,83.2 621.8,83.2 626.8,83.2 630.1,83.2 630.4,83.2 631,83.2 631.8,83.2 636.7,83.2 641.7,83.2 643.2,83.2 646.7,83.2 646.8,83.2 651.7,83.2 655.8,83.2 656.7,83.2 661.6,83.2 662.6,83.2 666.6,83.2 671.6,83.2 671.6,93 666.6,93 662.6,93 661.6,93 656.7,93 655.8,93 651.7,93 646.8,93 646.7,93 643.2,93 641.7,93 636.7,93 631.8,93 631,93 630.4,93 630.1,93 626.8,93 621.8,93.1 617.5,93.1 616.8,93.1 614.8,93.1 611.8,93.1 606.9,93.2 606.2,93.2 605.9,93.2 601.9,93.2 598.7,93.2 596.9,93.2 596,93.2 591.9,93.3 590.6,93.3 587,93.4 586.9,93.4 584.1,93.4 582,93.5 580.8,93.5 579.6,93.5 577,93.5 575.1,93.6 573,93.5 572,93.4 567.3,93.2 567,93.2 564.3,93.1 563.7,93.1 562,93.1 557.8,93 557.1,93.1 555.4,93.2 552.1,93.6 551.5,93.6 550.6,93.7 549.7,93.8 548.2,93.9 547.1,94 544,94.3 543.7,94.3 542.1,94.5 538.9,94.8 537.1,94.9 535.6,95.1 532.2,95.2 531.2,95.2 527.2,95.4 526.1,95.4 525.2,95.4 522.2,95.5 520.4,95.6 519.2,95.6 517.2,95.5 514.4,95.4 512.2,95.4 511.1,95.4 510.2,95.3 507.3,95.2 502.8,95.1 502.5,95.1 502.3,95.1 501.3,95.1 497.3,94.9 495.3,94.9 493.2,94.8 492.3,94.7 487.3,94.5 485.4,94.4 485.1,94.4 482.4,94.2 479.8,94.1 477.4,94 476.8,93.9 472.4,93.7 469.9,93.5 467.5,93.4 467.4,93.4 467.2,93.4 463.9,93.2 462.4,93.1 459.2,92.9 457.7,92.8 457.5,92.8 452.5,93.1 449.9,93.2 447.5,93.3 445.4,93.4 444.5,93.5 443.6,93.6 442.5,93.7 437.6,94 437.5,94 432.6,94.4 427.6,94.7 427.2,94.7 422.6,95 421.8,95.1 420.6,95.1 420.3,95.2 417.6,95.3 417,95.4 412.6,95.5 411.6,95.6 409.3,95.7 407.7,95.8 404.5,95.9 402.7,96 401.2,96 399.7,95.9 399.1,95.9 397.7,95.8 392.7,95.5 388.9,95.3 387.7,95.2 385.3,95.1 382.8,95 380,94.9 377.8,94.8 372.8,94.7" fill="#12ac12"/>
<polygon points="372.8,93.5 377.8,93.6 380,93.7 382.8,93.8 385.3,93.9 387.7,94 388.9,94.1 392.7,94.3 397.7,94.6 399.1,94.7 399.7,94.7 401.2,94.8 402.7,94.8 404.5,94.7 407.7,94.6 409.3,94.5 411.6,94.4 412.6,94.3 417,94.2 417.6,94.1 420.3,94 420.6,93.9 421.8,93.9 422.6,93.8 427.2,93.5 427.6,93.5 432.6,93.2 437.5,92.8 437.6,92.8 442.5,92.5 443.6,92.4 444.5,92.3 445.4,92.2 447.5,92.1 449.9,92 452.5,91.9 457.5,91.6 457.7,91.6 459.2,91.7 462.4,91.9 463.9,92 467.2,92.2 467.4,92.2 467.5,92.2 469.9,92.3 472.4,92.5 476.8,92.7 477.4,92.8 479.8,92.9 482.4,93 485.1,93.2 485.4,93.2 487.3,93.3 492.3,93.5 493.2,93.6 495.3,93.7 497.3,93.7 501.3,93.9 502.3,93.9 502.5,93.9 502.8,93.9 507.3,94 510.2,94.1 511.1,94.2 512.2,94.2 514.4,94.2 517.2,94.3 519.2,94.4 520.4,94.4 522.2,94.3 525.2,94.2 526.1,94.2 527.2,94.2 531.2,94 532.2,94 535.6,93.9 537.1,93.7 538.9,93.6 542.1,93.3 543.7,93.1 544,93.1 547.1,92.8 548.2,92.7 549.7,92.6 550.6,92.5 551.5,92.4 552.1,92.4 555.4,92 557.1,91.9 557.8,91.8 562,91.9 563.7,91.9 564.3,91.9 567,92 567.3,92 572,92.2 573,92.3 575.1,92.4 577,92.3 579.6,92.3 580.8,92.3 582,92.3 584.1,92.2 586.9,92.2 587,92.2 590.6,92.1 591.9,92.1 596,92 596.9,92 598.7,92 601.9,92 605.9,92 606.2,92 606.9,92 611.8,91.9 614.8,91.9 616.8,91.9 617.5,91.9 621.8,91.9 626.8,91.8 630.1,91.8 630.4,91.8 631,91.8 631.8,91.8 636.7,91.8 641.7,91.8 643.2,91.8 646.7,91.8 646.8,91.8 651.7,91.8 655.8,91.8 656.7,91.8 661.6,91.8 662.6,91.8 666.6,91.8 671.6,91.8 671.6,102.4 666.6,102.4 662.6,102.4 661.6,102.4 656.7,102.4 655.8,102.4 651.7,102.4 646.8,102.4 646.7,102.4 643.2,102.4 641.7,102.4 636.7,102.4 631.8,102.4 631,102.4 630.4,102.4 630.1,102.4 626.8,102.4 621.8,102.5 617.5,102.5 616.8,102.5 614.8,102.5 611.8,102.6 606.9,102.6 606.2,102.6 605.9,102.6 601.9,102.7 598.7,102.7 596.9,102.7 596,102.8 591.9,102.9 590.6,102.9 587,103 586.9,103 584.1,103.1 582,103.1 580.8,103.2 579.6,103.2 577,103.3 575.1,103.3 573,103.1 572,103.1 567.3,102.7 567,102.7 564.3,102.6 563.7,102.6 562,102.5 557.8,102.4 557.1,102.5 555.4,102.8 552.1,103.3 551.5,103.4 550.6,103.5 549.7,103.7 548.2,103.9 547.1,104.1 544,104.5 543.7,104.6 542.1,104.8 538.9,105.3 537.1,105.6 535.6,105.8 532.2,106 531.2,106.1 527.2,106.3 526.1,106.4 525.2,106.4 522.2,106.6 520.4,106.7 519.2,106.6 517.2,106.6 514.4,106.4 512.2,106.3 511.1,106.3 510.2,106.3 507.3,106.1 502.8,105.9 502.5,105.9 502.3,105.9 501.3,105.8 497.3,105.6 495.3,105.5 493.2,105.3 492.3,105.2 487.3,104.8 485.4,104.7 485.1,104.7 482.4,104.4 479.8,104.2 477.4,104 476.8,103.9 472.4,103.5 469.9,103.3 467.5,103 467.4,103 467.2,103 463.9,102.7 462.4,102.5 459.2,102.2 457.7,102 457.5,102 452.5,102.5 449.9,102.7 447.5,102.9 445.4,103.1 444.5,103.2 443.6,103.3 442.5,103.5 437.6,104.1 437.5,104.1 432.6,104.7 427.6,105.2 427.2,105.3 422.6,105.7 421.8,105.8 420.6,105.9 420.3,106 417.6,106.2 417,106.3 412.6,106.6 411.6,106.7 409.3,106.8 407.7,107 404.5,107.2 402.7,107.3 401.2,107.4 399.7,107.2 399.1,107.2 397.7,107 392.7,106.5 388.9,106.2 387.7,106 385.3,105.8 382.8,105.7 380,105.5 377.8,105.4 372.8,105.2" fill="#199b11"/>
<polygon points="478,128.5 479.8,128.9 482.4,129.5 485.1,130.1 485.4,130.2 487.3,130.6 490.2,131.3 492.3,131.8 493.2,131.8 495.3,131.9 497.1,132 497.3,132 501.3,132.2 502.3,132.2 502.5,132.2 502.8,132.2 505.2,132.2 507.3,132.3 510.2,132.3 510.5,132.3 511.1,132.3 512.2,132.4 514.4,132.5 517.2,132.7 518.3,132.8 519.2,132.8 520.4,132.9 522.2,133.1 524.6,133.3 525.2,133.4 526.1,133.4 527.2,133.4 530,133.4 531.2,133.4 532.2,133.3 533.9,133 535.6,132.8 537.1,132.6 537.1,132.6 535.6,135.5 533.9,139 532.2,140.2 531.2,140.9 530,141.6 527.2,140.8 526.1,140.4 525.2,140.2 524.6,139.9 522.2,139 520.4,138.3 519.2,137.9 518.3,137.6 517.2,137.2 514.4,136.2 512.2,136.8 511.1,137.2 510.5,137.3 510.2,137.3 507.3,137.8 505.2,138 502.8,138 502.5,138 502.3,138 501.3,138 497.3,137.7 497.1,137.7 495.3,137 493.2,136.1 492.3,135.4 490.2,133.3 487.3,132 485.4,131.1 485.1,131 482.4,130 479.8,129.1 478,128.5" fill="#22a8ec"/>
<polygon points="604.4,134.5 605.9,134.8 606.2,134.8 606.9,134.9 611.8,135.3 614.8,135.6 616.8,135.8 617.5,135.9 621.8,136.5 626.8,137.1 630.1,137.5 630.4,137.5 631,137.6 631.8,137.7 636.7,138.4 641.7,139.2 643.2,139.4 646.7,139.9 646.8,139.9 651.7,140.6 655.8,141.3 656.7,141.4 661.6,142.1 662.6,142.3 666.6,142.8 671.6,143.4 671.6,148.2 666.6,147.5 662.6,146.9 661.6,146.7 656.7,146 655.8,145.9 651.7,145.2 646.8,144.5 646.7,144.5 643.2,143.8 641.7,143.5 636.7,142.5 631.8,141.5 631,141.3 630.4,141.2 630.1,141.1 626.8,140.3 621.8,139 617.5,138 616.8,137.8 614.8,137.3 611.8,136.5 606.9,135.3 606.2,135.1 605.9,135 604.4,134.5" fill="#0a0ad2"/>
<polyline points="372.8,132.5 377.8,133 380,133.2 382.8,133.5 385.3,133.7 387.7,134.2 388.9,134.5 392.7,135.3 397.7,136.5 399.1,136.8 399.7,136.9 401.2,136.7 402.7,136.5 404.5,136.2 407.7,135.8 409.3,135.6 411.6,135.4 412.6,135.3 417,134.9 417.6,134.9 420.3,134.6 420.6,134.6 421.8,134.5 422.6,134.3 427.2,132.9 427.6,132.8 432.6,131.4 437.5,130.5 437.6,130.5 442.5,129.5 443.6,129.3 444.5,129.2 445.4,129 447.5,128.5 449.9,128 452.5,127.4 457.5,126.2 457.7,126.2 459.2,126.3 462.4,126.7 463.9,126.8 467.2,127.1 467.4,127.1 467.5,127.1 469.9,127.4 472.4,127.7 476.8,128.2 477.4,128.3 479.8,128.9 482.4,129.5 485.1,130.1 485.4,130.2 487.3,130.6 492.3,131.8 493.2,131.8 495.3,131.9 497.3,132 501.3,132.2 502.3,132.2 502.5,132.2 502.8,132.2 507.3,132.3 510.2,132.3 511.1,132.3 512.2,132.4 514.4,132.5 517.2,132.7 519.2,132.8 520.4,132.9 522.2,133.1 525.2,133.4 526.1,133.4 527.2,133.4 531.2,133.4 532.2,133.3 535.6,132.8 537.1,132.6 538.9,132 542.1,131 543.7,130.5 544,130.4 547.1,130.2 548.2,130.1 549.7,130 550.6,129.9 551.5,129.9 552.1,130 555.4,130.2 557.1,130.2 557.8,130.3 562,130.5 563.7,130.6 564.3,130.6 567,130.3 567.3,130.3 572,129.9 573,129.8 575.1,129.7 577,129.5 579.6,129.3 580.8,129.5 582,129.8 584.1,130.2 586.9,130.7 587,130.7 590.6,131.4 591.9,131.7 596,132.6 596.9,132.8 598.7,133.2 601.9,133.9 605.9,134.8 606.2,134.8 606.9,134.9 611.8,135.3 614.8,135.6 616.8,135.8 617.5,135.9 621.8,136.5 626.8,137.1 630.1,137.5 630.4,137.5 631,137.6 631.8,137.7 636.7,138.4 641.7,139.2 643.2,139.4 646.7,139.9 646.8,139.9 651.7,140.6 655.8,141.3 656.7,141.4 661.6,142.1 662.6,142.3 666.6,142.8 671.6,143.4" fill="none" stroke="#8a9aa8" stroke-width="0.7" opacity="0.8"/>
<line x1="372.8" y1="55.9" x2="372.8" y2="202" stroke="#bbb" stroke-width="0.8"/>
<line x1="672.1" y1="58.9" x2="672.1" y2="200" stroke="#ccc" stroke-width="0.8"/>
<line x1="372.8" y1="58.9" x2="672.6" y2="58.9" stroke="#bbb" stroke-width="0.8"/>
<line x1="372.8" y1="200" x2="672.6" y2="200" stroke="#999" stroke-width="1.2"/>
<g font-family="Liberation Sans, sans-serif" font-size="2.8" fill="#b4b4b4"><text x="391" y="57.4">10</text><text x="409.2" y="57.4">20</text><text x="427.5" y="57.4">30</text><text x="445.7" y="57.4">40</text><text x="463.9" y="57.4">50</text><text x="482.1" y="57.4">60</text><text x="500.3" y="57.4">70</text><text x="518.6" y="57.4">80</text><text x="536.8" y="57.4">90</text><text x="555" y="57.4">100</text><text x="573.2" y="57.4">110</text><text x="591.4" y="57.4">120</text><text x="609.7" y="57.4">130</text><text x="627.9" y="57.4">140</text><text x="646.1" y="57.4">150</text><text x="522.2" y="54.4">km</text><text x="372.8" y="204">0</text><text x="402.1" y="204">250</text><text x="431.4" y="204">500</text><text x="460.7" y="204">750</text><text x="490" y="204">1000</text><text x="519.3" y="204">1250</text><text x="548.6" y="204">1500</text><text x="577.9" y="204">1750</text><text x="607.2" y="204">2000</text><text x="636.4" y="204">2250</text><text x="665.7" y="204">2500</text><text x="365.8" y="68.6">0</text><text x="365.8" y="85">250</text><text x="365.8" y="101.5">500</text><text x="365.8" y="117.9">750</text><text x="365.8" y="134.4">1000</text><text x="365.8" y="150.8">1250</text><text x="365.8" y="167.3">1500</text><text x="365.8" y="183.8">1750</text><text x="365.8" y="200.2">2000</text><text x="364.3" y="125.4" transform="rotate(-90 364.3 125.4)" font-size="3">Depth (m)</text></g>
<line x1="672.6" y1="67.6" x2="683.6" y2="67.6" stroke="#ccc" stroke-width="0.6"/><line x1="672.6" y1="75" x2="683.6" y2="75" stroke="#ccc" stroke-width="0.6"/><line x1="672.6" y1="83.2" x2="683.6" y2="83.2" stroke="#ccc" stroke-width="0.6"/><line x1="672.6" y1="91.8" x2="683.6" y2="91.8" stroke="#ccc" stroke-width="0.6"/><line x1="672.6" y1="102.4" x2="683.6" y2="102.4" stroke="#ccc" stroke-width="0.6"/><line x1="672.6" y1="119" x2="683.6" y2="119" stroke="#ccc" stroke-width="0.6"/><line x1="672.6" y1="131.2" x2="683.6" y2="131.2" stroke="#ccc" stroke-width="0.6"/><line x1="672.6" y1="142.6" x2="683.6" y2="142.6" stroke="#ccc" stroke-width="0.6"/><text x="674.6" y="72" font-size="3.4" fill="#888" font-family="Liberation Sans, sans-serif">K1 al</text><text x="674.6" y="79.5" font-size="3.4" fill="#888" font-family="Liberation Sans, sans-serif">K1 al</text><text x="674.6" y="89" font-size="3.4" fill="#888" font-family="Liberation Sans, sans-serif">K1 al</text><text x="674.6" y="99" font-size="3.4" fill="#888" font-family="Liberation Sans, sans-serif">K1 al</text><text x="674.6" y="113" font-size="3.4" fill="#888" font-family="Liberation Sans, sans-serif">K1 al</text><text x="674.6" y="126" font-size="3.4" fill="#888" font-family="Liberation Sans, sans-serif">K1 al</text><text x="674.6" y="137" font-size="3.4" fill="#888" font-family="Liberation Sans, sans-serif">K1 al</text><text x="674.6" y="144" font-size="3.4" fill="#888" font-family="Liberation Sans, sans-serif">K1 al</text>
<text x="672.6" y="203.5" font-size="3.5" fill="#89a" font-family="Liberation Sans, sans-serif">@Petrel</text>
<text x="383.4" y="60.699999999999996" font-size="11.6" font-family="Liberation Sans, sans-serif" fill="#000" stroke="#000" stroke-width="0.25" textLength="12" lengthAdjust="spacingAndGlyphs">СЗ</text>
<text x="637.7" y="60.699999999999996" font-size="11.6" font-family="Liberation Sans, sans-serif" fill="#000" stroke="#000" stroke-width="0.25" textLength="17.9" lengthAdjust="spacingAndGlyphs">ЮВ</text>
<rect x="361" y="206" width="323" height="163" fill="#fff"/>
<polygon points="373,279 378,279.2 380.2,279.3 382.9,279.4 385.5,279.5 387.9,279.7 389.1,279.8 392.9,280.1 397.9,280.5 399.3,280.6 399.9,280.6 401.4,280.8 402.9,280.7 404.6,280.6 407.8,280.4 409.4,280.3 411.8,280.2 412.8,280.1 417.2,279.9 417.8,279.8 420.5,279.6 420.8,279.6 422,279.5 422.8,279.4 427.3,279 427.7,279 432.7,278.6 437.7,278.1 437.8,278.1 442.6,277.6 443.7,277.5 444.6,277.4 445.5,277.3 447.6,277.2 450,277 452.6,276.8 457.6,276.5 457.8,276.4 459.3,276.6 462.6,276.9 464,277 467.3,277.2 467.5,277.3 467.6,277.3 470,277.5 472.5,277.6 476.9,278 477.5,278 479.9,278.2 482.4,278.4 485.2,278.6 485.5,278.6 487.4,278.7 492.4,279 493.3,279.1 495.4,279.2 497.4,279.3 501.4,279.5 502.4,279.5 502.5,279.5 502.8,279.5 507.3,279.7 510.3,279.8 511.2,279.9 512.3,279.9 514.5,280 517.3,280.1 519.3,280.2 520.5,280.2 522.2,280.1 525.2,280 526.1,279.9 527.2,279.9 531.2,279.7 532.2,279.6 535.7,279.5 537.2,279.3 539,279.1 542.1,278.7 543.7,278.5 544,278.5 547.1,278.1 548.2,278 549.7,277.8 550.6,277.7 551.5,277.5 552.1,277.5 555.4,277.1 557.1,276.8 557.8,276.8 562,276.9 563.7,276.9 564.3,276.9 567,277 567.3,277 572,277.3 573,277.4 575.1,277.5 577,277.4 579.6,277.4 580.8,277.4 582,277.3 584,277.3 586.9,277.2 587,277.2 590.6,277.2 591.9,277.1 596,277.1 596.9,277 598.7,277 601.9,277 605.8,276.9 606.1,276.9 606.8,276.9 611.8,276.9 614.8,276.9 616.8,276.9 617.5,276.9 621.8,276.8 626.7,276.8 630,276.8 630.3,276.8 630.9,276.8 631.7,276.8 636.7,276.8 641.7,276.8 643.1,276.8 646.6,276.8 646.7,276.8 651.6,276.8 655.7,276.8 656.6,276.8 661.5,276.8 662.5,276.8 666.5,276.8 671.5,276.8 671.5,317 666.5,316.4 662.5,315.9 661.5,315.8 656.6,315.1 655.7,315 651.6,314.6 646.7,314.1 646.6,314.1 643.1,313.7 641.7,313.5 636.7,313 631.7,312.5 630.9,312.5 630.3,312.4 630,312.4 626.7,312 621.8,311.4 617.5,310.9 616.8,310.8 614.8,310.6 611.8,310.2 606.8,309.5 606.1,309.4 605.8,309.3 601.9,308.5 598.7,307.8 596.9,307.5 596,307.3 591.9,306.4 590.6,306.2 587,305.4 586.9,305.4 584,304.8 582,304.5 580.8,304.5 579.6,304.6 577,304.6 575.1,304.7 573,304.7 572,304.8 567.3,304.8 567,304.9 564.3,304.9 563.7,304.9 562,304.9 557.8,304.7 557.1,304.6 555.4,304.2 552.1,303.5 551.5,303.4 550.6,303.2 549.7,303.3 548.2,303.4 547.1,303.5 544,303.8 543.7,303.9 542.1,304.5 539,305.7 537.2,306.3 535.7,306.5 532.2,307.1 531.2,307.2 527.2,307.2 526.1,307.2 525.2,307.2 522.2,306.9 520.5,306.7 519.3,306.5 517.3,306.4 514.5,306.2 512.3,306.1 511.2,306 510.3,306 507.3,305.9 502.8,305.9 502.5,305.9 502.4,305.9 501.4,305.9 497.4,305.6 495.4,305.5 493.3,305.4 492.4,305.4 487.4,304 485.5,303.5 485.2,303.5 482.4,302.7 479.9,302 477.5,301.4 476.9,301.2 472.5,300.6 470,300.3 467.6,300 467.5,300 467.3,299.9 464,299.6 462.6,299.4 459.3,299.1 457.8,298.9 457.6,298.9 452.6,300.3 450,301 447.6,301.6 445.5,302.1 444.6,302.3 443.7,302.5 442.6,302.8 437.8,303.8 437.7,303.8 432.7,304.9 427.7,306.6 427.3,306.7 422.8,308.3 422,308.5 420.8,308.6 420.5,308.7 417.8,308.9 417.2,309 412.8,309.5 411.8,309.6 409.4,309.8 407.8,310 404.6,310.6 402.9,310.8 401.4,311.1 399.9,311.3 399.3,311.1 397.9,310.8 392.9,309.5 389.1,308.5 387.9,308.2 385.5,307.6 382.9,307.3 380.2,307 378,306.8 373,306.2" fill="#a2f7f9"/>
<polygon points="373,279 378,279.2 380.2,279.3 382.9,279.4 385.5,279.5 387.9,279.7 389.1,279.8 392.9,280.1 397.9,280.5 399.3,280.6 399.9,280.6 401.4,280.8 402.9,280.7 404.6,280.6 407.8,280.4 409.4,280.3 411.8,280.2 412.8,280.1 417.2,279.9 417.8,279.8 420.5,279.6 420.8,279.6 422,279.5 422.8,279.4 427.3,279 427.7,279 432.7,278.6 437.7,278.1 437.8,278.1 442.6,277.6 443.7,277.5 444.6,277.4 445.5,277.3 447.6,277.2 450,277 452.6,276.8 457.6,276.5 457.8,276.4 459.3,276.6 462.6,276.9 464,277 467.3,277.2 467.5,277.3 467.6,277.3 470,277.5 472.5,277.6 476.9,278 477.5,278 479.9,278.2 482.4,278.4 485.2,278.6 485.5,278.6 487.4,278.7 492.4,279 493.3,279.1 495.4,279.2 497.4,279.3 501.4,279.5 502.4,279.5 502.5,279.5 502.8,279.5 507.3,279.7 510.3,279.8 511.2,279.9 512.3,279.9 514.5,280 517.3,280.1 519.3,280.2 520.5,280.2 522.2,280.1 525.2,280 526.1,279.9 527.2,279.9 531.2,279.7 532.2,279.6 535.7,279.5 537.2,279.3 539,279.1 542.1,278.7 543.7,278.5 544,278.5 547.1,278.1 548.2,278 549.7,277.8 550.6,277.7 551.5,277.5 552.1,277.5 555.4,277.1 557.1,276.8 557.8,276.8 562,276.9 563.7,276.9 564.3,276.9 567,277 567.3,277 572,277.3 573,277.4 575.1,277.5 577,277.4 579.6,277.4 580.8,277.4 582,277.3 584,277.3 586.9,277.2 587,277.2 590.6,277.2 591.9,277.1 596,277.1 596.9,277 598.7,277 601.9,277 605.8,276.9 606.1,276.9 606.8,276.9 611.8,276.9 614.8,276.9 616.8,276.9 617.5,276.9 621.8,276.8 626.7,276.8 630,276.8 630.3,276.8 630.9,276.8 631.7,276.8 636.7,276.8 641.7,276.8 643.1,276.8 646.6,276.8 646.7,276.8 651.6,276.8 655.7,276.8 656.6,276.8 661.5,276.8 662.5,276.8 666.5,276.8 671.5,276.8 671.5,292.8 666.5,292.8 662.5,292.8 661.5,292.8 656.6,292.8 655.7,292.8 651.6,292.8 646.7,292.8 646.6,292.8 643.1,292.8 641.7,292.8 636.7,292.8 631.7,292.8 630.9,292.8 630.3,292.8 630,292.8 626.7,292.8 621.8,292.8 617.5,292.9 616.8,292.9 614.8,292.9 611.8,292.9 606.8,292.9 606.1,292.9 605.8,292.9 601.9,293 598.7,293 596.9,293 596,293.1 591.9,293.1 590.6,293.2 587,293.2 586.9,293.2 584,293.3 582,293.3 580.8,293.4 579.6,293.4 577,293.4 575.1,293.5 573,293.4 572,293.3 567.3,293 567,293 564.3,292.9 563.7,292.9 562,292.9 557.8,292.8 557.1,292.8 555.4,293.1 552.1,293.5 551.5,293.5 550.6,293.7 549.7,293.8 548.2,294 547.1,294.1 544,294.5 543.7,294.5 542.1,294.7 539,295.1 537.2,295.3 535.7,295.5 532.2,295.6 531.2,295.7 527.2,295.9 526.1,295.9 525.2,296 522.2,296.1 520.5,296.2 519.3,296.2 517.3,296.1 514.5,296 512.3,295.9 511.2,295.9 510.3,295.8 507.3,295.7 502.8,295.5 502.5,295.5 502.4,295.5 501.4,295.5 497.4,295.3 495.4,295.2 493.3,295.1 492.4,295 487.4,294.7 485.5,294.6 485.2,294.6 482.4,294.4 479.9,294.2 477.5,294 476.9,294 472.5,293.6 470,293.5 467.6,293.3 467.5,293.3 467.3,293.2 464,293 462.6,292.9 459.3,292.6 457.8,292.4 457.6,292.5 452.6,292.8 450,293 447.6,293.2 445.5,293.3 444.6,293.4 443.7,293.5 442.6,293.6 437.8,294.1 437.7,294.1 432.7,294.6 427.7,295 427.3,295 422.8,295.4 422,295.5 420.8,295.6 420.5,295.6 417.8,295.8 417.2,295.9 412.8,296.1 411.8,296.2 409.4,296.3 407.8,296.4 404.6,296.6 402.9,296.7 401.4,296.8 399.9,296.6 399.3,296.6 397.9,296.5 392.9,296.1 389.1,295.8 387.9,295.7 385.5,295.5 382.9,295.4 380.2,295.3 378,295.2 373,295" fill="#bcfafa"/>
<polygon points="373,229 378,229 380.2,229 382.9,229 385.5,229 387.9,229 389.1,229 392.9,229 397.9,229 399.3,229 399.9,229 401.4,229 402.9,229 404.6,229 407.8,229 409.4,229 411.8,229 412.8,229 417.2,229 417.8,229 420.5,229 420.8,229 422,229 422.8,229 427.3,229 427.7,229 432.7,229 437.7,229 437.8,229 442.6,229 443.7,229 444.6,229 445.5,229 447.6,229 450,229 452.6,229 457.6,229 457.8,229 459.3,229 462.6,229 464,229 467.3,229 467.5,229 467.6,229 470,229 472.5,229 476.9,229 477.5,229 479.9,229 482.4,229 485.2,229 485.5,229 487.4,229 492.4,229 493.3,229 495.4,229 497.4,229 501.4,229 502.4,229 502.5,229 502.8,229 507.3,229 510.3,229 511.2,229 512.3,229 514.5,229 517.3,229 519.3,229 520.5,229 522.2,229 525.2,229 526.1,229 527.2,229 531.2,229 532.2,229 535.7,229 537.2,229 539,229 542.1,229 543.7,229 544,229 547.1,229 548.2,229 549.7,229 550.6,229 551.5,229 552.1,229 555.4,229 557.1,229 557.8,229 562,229 563.7,229 564.3,229 567,229 567.3,229 572,229 573,229 575.1,229 577,229 579.6,229 580.8,229 582,229 584,229 586.9,229 587,229 590.6,229 591.9,229 596,229 596.9,229 598.7,229 601.9,229 605.8,229 606.1,229 606.8,229 611.8,229 614.8,229 616.8,229 617.5,229 621.8,229 626.7,229 630,229 630.3,229 630.9,229 631.7,229 636.7,229 641.7,229 643.1,229 646.6,229 646.7,229 651.6,229 655.7,229 656.6,229 661.5,229 662.5,229 666.5,229 671.5,229 671.5,243.3 666.5,243.3 662.5,243.3 661.5,243.3 656.6,243.3 655.7,243.3 651.6,243.3 646.7,243.3 646.6,243.3 643.1,243.3 641.7,243.3 636.7,243.3 631.7,243.3 630.9,243.3 630.3,243.3 630,243.3 626.7,243.3 621.8,243.3 617.5,243.3 616.8,243.3 614.8,243.3 611.8,243.3 606.8,243.3 606.1,243.3 605.8,243.3 601.9,243.3 598.7,243.3 596.9,243.4 596,243.4 591.9,243.4 590.6,243.4 587,243.4 586.9,243.4 584,243.4 582,243.4 580.8,243.4 579.6,243.4 577,243.4 575.1,243.4 573,243.4 572,243.4 567.3,243.3 567,243.3 564.3,243.3 563.7,243.3 562,243.3 557.8,243.3 557.1,243.3 555.4,243.4 552.1,243.4 551.5,243.4 550.6,243.4 549.7,243.4 548.2,243.5 547.1,243.5 544,243.5 543.7,243.5 542.1,243.6 539,243.6 537.2,243.6 535.7,243.7 532.2,243.7 531.2,243.7 527.2,243.7 526.1,243.7 525.2,243.7 522.2,243.7 520.5,243.8 519.3,243.7 517.3,243.7 514.5,243.7 512.3,243.7 511.2,243.7 510.3,243.7 507.3,243.7 502.8,243.7 502.5,243.7 502.4,243.7 501.4,243.7 497.4,243.6 495.4,243.6 493.3,243.6 492.4,243.6 487.4,243.6 485.5,243.5 485.2,243.5 482.4,243.5 479.9,243.5 477.5,243.5 476.9,243.5 472.5,243.4 470,243.4 467.6,243.4 467.5,243.4 467.3,243.4 464,243.3 462.6,243.3 459.3,243.3 457.8,243.3 457.6,243.3 452.6,243.3 450,243.3 447.6,243.4 445.5,243.4 444.6,243.4 443.7,243.4 442.6,243.4 437.8,243.5 437.7,243.5 432.7,243.5 427.7,243.6 427.3,243.6 422.8,243.7 422,243.7 420.8,243.7 420.5,243.7 417.8,243.7 417.2,243.7 412.8,243.7 411.8,243.7 409.4,243.8 407.8,243.8 404.6,243.8 402.9,243.8 401.4,243.8 399.9,243.8 399.3,243.8 397.9,243.8 392.9,243.7 389.1,243.7 387.9,243.7 385.5,243.7 382.9,243.6 380.2,243.6 378,243.6 373,243.6" fill="#84f67b"/>
<polygon points="373,242.4 378,242.4 380.2,242.4 382.9,242.4 385.5,242.5 387.9,242.5 389.1,242.5 392.9,242.5 397.9,242.6 399.3,242.6 399.9,242.6 401.4,242.6 402.9,242.6 404.6,242.6 407.8,242.6 409.4,242.6 411.8,242.5 412.8,242.5 417.2,242.5 417.8,242.5 420.5,242.5 420.8,242.5 422,242.5 422.8,242.5 427.3,242.4 427.7,242.4 432.7,242.3 437.7,242.3 437.8,242.3 442.6,242.2 443.7,242.2 444.6,242.2 445.5,242.2 447.6,242.2 450,242.1 452.6,242.1 457.6,242.1 457.8,242.1 459.3,242.1 462.6,242.1 464,242.2 467.3,242.2 467.5,242.2 467.6,242.2 470,242.2 472.5,242.2 476.9,242.3 477.5,242.3 479.9,242.3 482.4,242.3 485.2,242.3 485.5,242.3 487.4,242.4 492.4,242.4 493.3,242.4 495.4,242.4 497.4,242.4 501.4,242.5 502.4,242.5 502.5,242.5 502.8,242.5 507.3,242.5 510.3,242.5 511.2,242.5 512.3,242.5 514.5,242.5 517.3,242.5 519.3,242.5 520.5,242.6 522.2,242.5 525.2,242.5 526.1,242.5 527.2,242.5 531.2,242.5 532.2,242.5 535.7,242.5 537.2,242.4 539,242.4 542.1,242.4 543.7,242.3 544,242.3 547.1,242.3 548.2,242.3 549.7,242.2 550.6,242.2 551.5,242.2 552.1,242.2 555.4,242.2 557.1,242.1 557.8,242.1 562,242.1 563.7,242.1 564.3,242.1 567,242.1 567.3,242.2 572,242.2 573,242.2 575.1,242.2 577,242.2 579.6,242.2 580.8,242.2 582,242.2 584,242.2 586.9,242.2 587,242.2 590.6,242.2 591.9,242.2 596,242.2 596.9,242.2 598.7,242.2 601.9,242.1 605.8,242.1 606.1,242.1 606.8,242.1 611.8,242.1 614.8,242.1 616.8,242.1 617.5,242.1 621.8,242.1 626.7,242.1 630,242.1 630.3,242.1 630.9,242.1 631.7,242.1 636.7,242.1 641.7,242.1 643.1,242.1 646.6,242.1 646.7,242.1 651.6,242.1 655.7,242.1 656.6,242.1 661.5,242.1 662.5,242.1 666.5,242.1 671.5,242.1 671.5,250.6 666.5,250.6 662.5,250.6 661.5,250.6 656.6,250.6 655.7,250.6 651.6,250.6 646.7,250.6 646.6,250.6 643.1,250.6 641.7,250.6 636.7,250.6 631.7,250.6 630.9,250.6 630.3,250.6 630,250.6 626.7,250.6 621.8,250.7 617.5,250.7 616.8,250.7 614.8,250.7 611.8,250.7 606.8,250.7 606.1,250.7 605.8,250.7 601.9,250.7 598.7,250.7 596.9,250.7 596,250.7 591.9,250.7 590.6,250.7 587,250.8 586.9,250.8 584,250.8 582,250.8 580.8,250.8 579.6,250.8 577,250.8 575.1,250.8 573,250.8 572,250.8 567.3,250.7 567,250.7 564.3,250.7 563.7,250.7 562,250.7 557.8,250.6 557.1,250.7 555.4,250.7 552.1,250.8 551.5,250.8 550.6,250.9 549.7,250.9 548.2,250.9 547.1,251 544,251.1 543.7,251.1 542.1,251.1 539,251.2 537.2,251.3 535.7,251.3 532.2,251.4 531.2,251.4 527.2,251.4 526.1,251.4 525.2,251.4 522.2,251.5 520.5,251.5 519.3,251.5 517.3,251.5 514.5,251.4 512.3,251.4 511.2,251.4 510.3,251.4 507.3,251.4 502.8,251.3 502.5,251.3 502.4,251.3 501.4,251.3 497.4,251.3 495.4,251.3 493.3,251.2 492.4,251.2 487.4,251.1 485.5,251.1 485.2,251.1 482.4,251 479.9,251 477.5,251 476.9,250.9 472.5,250.9 470,250.8 467.6,250.8 467.5,250.8 467.3,250.8 464,250.7 462.6,250.7 459.3,250.6 457.8,250.6 457.6,250.6 452.6,250.7 450,250.7 447.6,250.7 445.5,250.8 444.6,250.8 443.7,250.8 442.6,250.9 437.8,251 437.7,251 432.7,251.1 427.7,251.2 427.3,251.2 422.8,251.3 422,251.3 420.8,251.3 420.5,251.4 417.8,251.4 417.2,251.4 412.8,251.5 411.8,251.5 409.4,251.5 407.8,251.6 404.6,251.6 402.9,251.6 401.4,251.6 399.9,251.6 399.3,251.6 397.9,251.6 392.9,251.5 389.1,251.4 387.9,251.4 385.5,251.3 382.9,251.3 380.2,251.3 378,251.2 373,251.2" fill="#5ae60e"/>
<polygon points="373,250 378,250 380.2,250.1 382.9,250.1 385.5,250.1 387.9,250.2 389.1,250.2 392.9,250.3 397.9,250.4 399.3,250.4 399.9,250.4 401.4,250.4 402.9,250.4 404.6,250.4 407.8,250.4 409.4,250.3 411.8,250.3 412.8,250.3 417.2,250.2 417.8,250.2 420.5,250.2 420.8,250.1 422,250.1 422.8,250.1 427.3,250 427.7,250 432.7,249.9 437.7,249.8 437.8,249.8 442.6,249.7 443.7,249.6 444.6,249.6 445.5,249.6 447.6,249.5 450,249.5 452.6,249.5 457.6,249.4 457.8,249.4 459.3,249.4 462.6,249.5 464,249.5 467.3,249.6 467.5,249.6 467.6,249.6 470,249.6 472.5,249.7 476.9,249.7 477.5,249.8 479.9,249.8 482.4,249.8 485.2,249.9 485.5,249.9 487.4,249.9 492.4,250 493.3,250 495.4,250.1 497.4,250.1 501.4,250.1 502.4,250.1 502.5,250.1 502.8,250.1 507.3,250.2 510.3,250.2 511.2,250.2 512.3,250.2 514.5,250.2 517.3,250.3 519.3,250.3 520.5,250.3 522.2,250.3 525.2,250.2 526.1,250.2 527.2,250.2 531.2,250.2 532.2,250.2 535.7,250.1 537.2,250.1 539,250 542.1,249.9 543.7,249.9 544,249.9 547.1,249.8 548.2,249.7 549.7,249.7 550.6,249.7 551.5,249.6 552.1,249.6 555.4,249.5 557.1,249.5 557.8,249.4 562,249.5 563.7,249.5 564.3,249.5 567,249.5 567.3,249.5 572,249.6 573,249.6 575.1,249.6 577,249.6 579.6,249.6 580.8,249.6 582,249.6 584,249.6 586.9,249.6 587,249.6 590.6,249.5 591.9,249.5 596,249.5 596.9,249.5 598.7,249.5 601.9,249.5 605.8,249.5 606.1,249.5 606.8,249.5 611.8,249.5 614.8,249.5 616.8,249.5 617.5,249.5 621.8,249.5 626.7,249.4 630,249.4 630.3,249.4 630.9,249.4 631.7,249.4 636.7,249.4 641.7,249.4 643.1,249.4 646.6,249.4 646.7,249.4 651.6,249.4 655.7,249.4 656.6,249.4 661.5,249.4 662.5,249.4 666.5,249.4 671.5,249.4 671.5,258.1 666.5,258.1 662.5,258.1 661.5,258.1 656.6,258.1 655.7,258.1 651.6,258.1 646.7,258.1 646.6,258.1 643.1,258.1 641.7,258.1 636.7,258.1 631.7,258.1 630.9,258.1 630.3,258.1 630,258.1 626.7,258.1 621.8,258.1 617.5,258.1 616.8,258.1 614.8,258.1 611.8,258.1 606.8,258.2 606.1,258.2 605.8,258.2 601.9,258.2 598.7,258.2 596.9,258.2 596,258.2 591.9,258.3 590.6,258.3 587,258.3 586.9,258.3 584,258.3 582,258.4 580.8,258.4 579.6,258.4 577,258.4 575.1,258.4 573,258.4 572,258.3 567.3,258.2 567,258.2 564.3,258.2 563.7,258.2 562,258.1 557.8,258.1 557.1,258.1 555.4,258.2 552.1,258.4 551.5,258.5 550.6,258.5 549.7,258.6 548.2,258.7 547.1,258.7 544,258.9 543.7,259 542.1,259 539,259.2 537.2,259.3 535.7,259.4 532.2,259.5 531.2,259.5 527.2,259.6 526.1,259.7 525.2,259.7 522.2,259.8 520.5,259.8 519.3,259.8 517.3,259.7 514.5,259.7 512.3,259.7 511.2,259.6 510.3,259.6 507.3,259.6 502.8,259.5 502.5,259.5 502.4,259.5 501.4,259.4 497.4,259.4 495.4,259.3 493.3,259.2 492.4,259.2 487.4,259.1 485.5,259 485.2,259 482.4,258.9 479.9,258.8 477.5,258.7 476.9,258.7 472.5,258.5 470,258.4 467.6,258.3 467.5,258.3 467.3,258.3 464,258.2 462.6,258.1 459.3,258 457.8,257.9 457.6,257.9 452.6,258.1 450,258.2 447.6,258.3 445.5,258.4 444.6,258.4 443.7,258.4 442.6,258.5 437.8,258.7 437.7,258.8 432.7,259 427.7,259.2 427.3,259.2 422.8,259.4 422,259.4 420.8,259.5 420.5,259.5 417.8,259.6 417.2,259.6 412.8,259.8 411.8,259.8 409.4,259.9 407.8,259.9 404.6,260 402.9,260 401.4,260.1 399.9,260 399.3,260 397.9,259.9 392.9,259.7 389.1,259.6 387.9,259.5 385.5,259.4 382.9,259.4 380.2,259.3 378,259.3 373,259.2" fill="#0dcb43"/>
<polygon points="373,258 378,258.1 380.2,258.1 382.9,258.2 385.5,258.2 387.9,258.3 389.1,258.4 392.9,258.5 397.9,258.7 399.3,258.8 399.9,258.8 401.4,258.9 402.9,258.8 404.6,258.8 407.8,258.7 409.4,258.7 411.8,258.6 412.8,258.6 417.2,258.4 417.8,258.4 420.5,258.3 420.8,258.3 422,258.2 422.8,258.2 427.3,258 427.7,258 432.7,257.8 437.7,257.6 437.8,257.5 442.6,257.3 443.7,257.2 444.6,257.2 445.5,257.2 447.6,257.1 450,257 452.6,256.9 457.6,256.7 457.8,256.7 459.3,256.8 462.6,256.9 464,257 467.3,257.1 467.5,257.1 467.6,257.1 470,257.2 472.5,257.3 476.9,257.5 477.5,257.5 479.9,257.6 482.4,257.7 485.2,257.8 485.5,257.8 487.4,257.9 492.4,258 493.3,258.1 495.4,258.1 497.4,258.2 501.4,258.2 502.4,258.3 502.5,258.3 502.8,258.3 507.3,258.4 510.3,258.4 511.2,258.4 512.3,258.5 514.5,258.5 517.3,258.5 519.3,258.6 520.5,258.6 522.2,258.6 525.2,258.5 526.1,258.5 527.2,258.4 531.2,258.3 532.2,258.3 535.7,258.2 537.2,258.1 539,258 542.1,257.8 543.7,257.8 544,257.7 547.1,257.5 548.2,257.5 549.7,257.4 550.6,257.3 551.5,257.3 552.1,257.2 555.4,257 557.1,256.9 557.8,256.9 562,256.9 563.7,257 564.3,257 567,257 567.3,257 572,257.1 573,257.2 575.1,257.2 577,257.2 579.6,257.2 580.8,257.2 582,257.2 584,257.1 586.9,257.1 587,257.1 590.6,257.1 591.9,257.1 596,257 596.9,257 598.7,257 601.9,257 605.8,257 606.1,257 606.8,257 611.8,256.9 614.8,256.9 616.8,256.9 617.5,256.9 621.8,256.9 626.7,256.9 630,256.9 630.3,256.9 630.9,256.9 631.7,256.9 636.7,256.9 641.7,256.9 643.1,256.9 646.6,256.9 646.7,256.9 651.6,256.9 655.7,256.9 656.6,256.9 661.5,256.9 662.5,256.9 666.5,256.9 671.5,256.9 671.5,268 666.5,268 662.5,268 661.5,268 656.6,268 655.7,268 651.6,268 646.7,268 646.6,268 643.1,268 641.7,268 636.7,268 631.7,268 630.9,268 630.3,268 630,268 626.7,268 621.8,268.1 617.5,268.1 616.8,268.1 614.8,268.1 611.8,268.1 606.8,268.2 606.1,268.2 605.8,268.2 601.9,268.2 598.7,268.2 596.9,268.2 596,268.2 591.9,268.3 590.6,268.3 587,268.4 586.9,268.4 584,268.4 582,268.5 580.8,268.5 579.6,268.5 577,268.5 575.1,268.6 573,268.5 572,268.4 567.3,268.2 567,268.2 564.3,268.1 563.7,268.1 562,268.1 557.8,268 557.1,268.1 555.4,268.2 552.1,268.6 551.5,268.6 550.6,268.7 549.7,268.8 548.2,268.9 547.1,269 544,269.3 543.7,269.3 542.1,269.5 539,269.8 537.2,269.9 535.7,270.1 532.2,270.2 531.2,270.2 527.2,270.4 526.1,270.4 525.2,270.4 522.2,270.5 520.5,270.6 519.3,270.6 517.3,270.5 514.5,270.4 512.3,270.4 511.2,270.4 510.3,270.3 507.3,270.2 502.8,270.1 502.5,270.1 502.4,270.1 501.4,270.1 497.4,269.9 495.4,269.9 493.3,269.8 492.4,269.7 487.4,269.5 485.5,269.4 485.2,269.4 482.4,269.2 479.9,269.1 477.5,269 476.9,268.9 472.5,268.7 470,268.5 467.6,268.4 467.5,268.4 467.3,268.4 464,268.2 462.6,268.1 459.3,267.9 457.8,267.8 457.6,267.8 452.6,268.1 450,268.2 447.6,268.3 445.5,268.4 444.6,268.5 443.7,268.6 442.6,268.7 437.8,269 437.7,269 432.7,269.4 427.7,269.7 427.3,269.7 422.8,270 422,270.1 420.8,270.1 420.5,270.2 417.8,270.3 417.2,270.4 412.8,270.5 411.8,270.6 409.4,270.7 407.8,270.8 404.6,270.9 402.9,271 401.4,271 399.9,270.9 399.3,270.9 397.9,270.8 392.9,270.5 389.1,270.3 387.9,270.2 385.5,270.1 382.9,270 380.2,269.9 378,269.8 373,269.7" fill="#12ac12"/>
<polygon points="373,268.5 378,268.6 380.2,268.7 382.9,268.8 385.5,268.9 387.9,269 389.1,269.1 392.9,269.3 397.9,269.6 399.3,269.7 399.9,269.7 401.4,269.8 402.9,269.8 404.6,269.7 407.8,269.6 409.4,269.5 411.8,269.4 412.8,269.3 417.2,269.2 417.8,269.1 420.5,269 420.8,268.9 422,268.9 422.8,268.8 427.3,268.5 427.7,268.5 432.7,268.2 437.7,267.8 437.8,267.8 442.6,267.5 443.7,267.4 444.6,267.3 445.5,267.2 447.6,267.1 450,267 452.6,266.9 457.6,266.6 457.8,266.6 459.3,266.7 462.6,266.9 464,267 467.3,267.2 467.5,267.2 467.6,267.2 470,267.3 472.5,267.5 476.9,267.7 477.5,267.8 479.9,267.9 482.4,268 485.2,268.2 485.5,268.2 487.4,268.3 492.4,268.5 493.3,268.6 495.4,268.7 497.4,268.7 501.4,268.9 502.4,268.9 502.5,268.9 502.8,268.9 507.3,269 510.3,269.1 511.2,269.2 512.3,269.2 514.5,269.2 517.3,269.3 519.3,269.4 520.5,269.4 522.2,269.3 525.2,269.2 526.1,269.2 527.2,269.2 531.2,269 532.2,269 535.7,268.9 537.2,268.7 539,268.6 542.1,268.3 543.7,268.1 544,268.1 547.1,267.8 548.2,267.7 549.7,267.6 550.6,267.5 551.5,267.4 552.1,267.4 555.4,267 557.1,266.9 557.8,266.8 562,266.9 563.7,266.9 564.3,266.9 567,267 567.3,267 572,267.2 573,267.3 575.1,267.4 577,267.3 579.6,267.3 580.8,267.3 582,267.3 584,267.2 586.9,267.2 587,267.2 590.6,267.1 591.9,267.1 596,267 596.9,267 598.7,267 601.9,267 605.8,267 606.1,267 606.8,267 611.8,266.9 614.8,266.9 616.8,266.9 617.5,266.9 621.8,266.9 626.7,266.8 630,266.8 630.3,266.8 630.9,266.8 631.7,266.8 636.7,266.8 641.7,266.8 643.1,266.8 646.6,266.8 646.7,266.8 651.6,266.8 655.7,266.8 656.6,266.8 661.5,266.8 662.5,266.8 666.5,266.8 671.5,266.8 671.5,276.8 666.5,276.8 662.5,276.8 661.5,276.8 656.6,276.8 655.7,276.8 651.6,276.8 646.7,276.8 646.6,276.8 643.1,276.8 641.7,276.8 636.7,276.8 631.7,276.8 630.9,276.8 630.3,276.8 630,276.8 626.7,276.8 621.8,276.8 617.5,276.9 616.8,276.9 614.8,276.9 611.8,276.9 606.8,276.9 606.1,276.9 605.8,276.9 601.9,277 598.7,277 596.9,277 596,277.1 591.9,277.1 590.6,277.2 587,277.2 586.9,277.2 584,277.3 582,277.3 580.8,277.4 579.6,277.4 577,277.4 575.1,277.5 573,277.4 572,277.3 567.3,277 567,277 564.3,276.9 563.7,276.9 562,276.9 557.8,276.8 557.1,276.8 555.4,277.1 552.1,277.5 551.5,277.5 550.6,277.7 549.7,277.8 548.2,278 547.1,278.1 544,278.5 543.7,278.5 542.1,278.7 539,279.1 537.2,279.3 535.7,279.5 532.2,279.6 531.2,279.7 527.2,279.9 526.1,279.9 525.2,280 522.2,280.1 520.5,280.2 519.3,280.2 517.3,280.1 514.5,280 512.3,279.9 511.2,279.9 510.3,279.8 507.3,279.7 502.8,279.5 502.5,279.5 502.4,279.5 501.4,279.5 497.4,279.3 495.4,279.2 493.3,279.1 492.4,279 487.4,278.7 485.5,278.6 485.2,278.6 482.4,278.4 479.9,278.2 477.5,278 476.9,278 472.5,277.6 470,277.5 467.6,277.3 467.5,277.3 467.3,277.2 464,277 462.6,276.9 459.3,276.6 457.8,276.4 457.6,276.5 452.6,276.8 450,277 447.6,277.2 445.5,277.3 444.6,277.4 443.7,277.5 442.6,277.6 437.8,278.1 437.7,278.1 432.7,278.6 427.7,279 427.3,279 422.8,279.4 422,279.5 420.8,279.6 420.5,279.6 417.8,279.8 417.2,279.9 412.8,280.1 411.8,280.2 409.4,280.3 407.8,280.4 404.6,280.6 402.9,280.7 401.4,280.8 399.9,280.6 399.3,280.6 397.9,280.5 392.9,280.1 389.1,279.8 387.9,279.7 385.5,279.5 382.9,279.4 380.2,279.3 378,279.2 373,279" fill="#199b11"/>
<polygon points="478.1,301.5 479.9,302 482.4,302.7 485.2,303.5 485.5,303.5 487.4,304 490.3,304.8 492.4,305.4 493.3,305.4 495.4,305.5 497.2,305.6 497.4,305.6 501.4,305.9 502.4,305.9 502.5,305.9 502.8,305.9 505.2,305.9 507.3,305.9 510.3,306 510.6,306 511.2,306 512.3,306.1 514.5,306.2 517.3,306.4 518.4,306.5 519.3,306.5 520.5,306.7 522.2,306.9 524.6,307.2 525.2,307.2 526.1,307.2 527.2,307.2 530,307.2 531.2,307.2 532.2,307.1 533.9,306.8 535.7,306.5 537.2,306.3 537.2,306.3 535.7,309.3 533.9,312.8 532.2,314 531.2,314.8 530,315.4 527.2,314.6 526.1,314.3 525.2,314 524.6,313.8 522.2,312.8 520.5,312.1 519.3,311.6 518.4,311.3 517.3,310.9 514.5,309.9 512.3,310.5 511.2,310.8 510.6,311 510.3,311 507.3,311.4 505.2,311.7 502.8,311.6 502.5,311.6 502.4,311.6 501.4,311.6 497.4,311.3 497.2,311.3 495.4,310.6 493.3,309.7 492.4,309 490.3,306.8 487.4,305.4 485.5,304.4 485.2,304.3 482.4,303.2 479.9,302.2 478.1,301.5" fill="#22a8ec"/>
<polygon points="604.3,309 605.8,309.3 606.1,309.4 606.8,309.5 611.8,310.2 614.8,310.6 616.8,310.8 617.5,310.9 621.8,311.4 626.7,312 630,312.4 630.3,312.4 630.9,312.5 631.7,312.5 636.7,313 641.7,313.5 643.1,313.7 646.6,314.1 646.7,314.1 651.6,314.6 655.7,315 656.6,315.1 661.5,315.8 662.5,315.9 666.5,316.4 671.5,317 671.5,322.3 666.5,321.5 662.5,320.9 661.5,320.8 656.6,320.2 655.7,320.1 651.6,319.6 646.7,319.1 646.6,319.1 643.1,318.5 641.7,318.3 636.7,317.5 631.7,316.7 630.9,316.5 630.3,316.4 630,316.3 626.7,315.5 621.8,314.2 617.5,313.1 616.8,312.9 614.8,312.4 611.8,311.5 606.8,310 606.1,309.7 605.8,309.6 604.3,309" fill="#0a0ad2"/>
<polyline points="373,306.2 378,306.8 380.2,307 382.9,307.3 385.5,307.6 387.9,308.2 389.1,308.5 392.9,309.5 397.9,310.8 399.3,311.1 399.9,311.3 401.4,311.1 402.9,310.8 404.6,310.6 407.8,310 409.4,309.8 411.8,309.6 412.8,309.5 417.2,309 417.8,308.9 420.5,308.7 420.8,308.6 422,308.5 422.8,308.3 427.3,306.7 427.7,306.6 432.7,304.9 437.7,303.8 437.8,303.8 442.6,302.8 443.7,302.5 444.6,302.3 445.5,302.1 447.6,301.6 450,301 452.6,300.3 457.6,298.9 457.8,298.9 459.3,299.1 462.6,299.4 464,299.6 467.3,299.9 467.5,300 467.6,300 470,300.3 472.5,300.6 476.9,301.2 477.5,301.4 479.9,302 482.4,302.7 485.2,303.5 485.5,303.5 487.4,304 492.4,305.4 493.3,305.4 495.4,305.5 497.4,305.6 501.4,305.9 502.4,305.9 502.5,305.9 502.8,305.9 507.3,305.9 510.3,306 511.2,306 512.3,306.1 514.5,306.2 517.3,306.4 519.3,306.5 520.5,306.7 522.2,306.9 525.2,307.2 526.1,307.2 527.2,307.2 531.2,307.2 532.2,307.1 535.7,306.5 537.2,306.3 539,305.7 542.1,304.5 543.7,303.9 544,303.8 547.1,303.5 548.2,303.4 549.7,303.3 550.6,303.2 551.5,303.4 552.1,303.5 555.4,304.2 557.1,304.6 557.8,304.7 562,304.9 563.7,304.9 564.3,304.9 567,304.9 567.3,304.8 572,304.8 573,304.7 575.1,304.7 577,304.6 579.6,304.6 580.8,304.5 582,304.5 584,304.8 586.9,305.4 587,305.4 590.6,306.2 591.9,306.4 596,307.3 596.9,307.5 598.7,307.8 601.9,308.5 605.8,309.3 606.1,309.4 606.8,309.5 611.8,310.2 614.8,310.6 616.8,310.8 617.5,310.9 621.8,311.4 626.7,312 630,312.4 630.3,312.4 630.9,312.5 631.7,312.5 636.7,313 641.7,313.5 643.1,313.7 646.6,314.1 646.7,314.1 651.6,314.6 655.7,315 656.6,315.1 661.5,315.8 662.5,315.9 666.5,316.4 671.5,317" fill="none" stroke="#8a9aa8" stroke-width="0.7" opacity="0.8"/>
<line x1="373" y1="217.3" x2="373" y2="363" stroke="#bbb" stroke-width="0.8"/>
<line x1="672.0" y1="220.3" x2="672.0" y2="361" stroke="#ccc" stroke-width="0.8"/>
<line x1="373" y1="220.3" x2="672.5" y2="220.3" stroke="#bbb" stroke-width="0.8"/>
<line x1="373" y1="361" x2="672.5" y2="361" stroke="#999" stroke-width="1.2"/>
<g font-family="Liberation Sans, sans-serif" font-size="2.8" fill="#b4b4b4"><text x="391.2" y="218.8">10</text><text x="409.4" y="218.8">20</text><text x="427.6" y="218.8">30</text><text x="445.8" y="218.8">40</text><text x="464" y="218.8">50</text><text x="482.2" y="218.8">60</text><text x="500.4" y="218.8">70</text><text x="518.6" y="218.8">80</text><text x="536.8" y="218.8">90</text><text x="555" y="218.8">100</text><text x="573.2" y="218.8">110</text><text x="591.4" y="218.8">120</text><text x="609.6" y="218.8">130</text><text x="627.8" y="218.8">140</text><text x="646" y="218.8">150</text><text x="522.2" y="215.8">km</text><text x="373" y="365">0</text><text x="402.3" y="365">250</text><text x="431.5" y="365">500</text><text x="460.8" y="365">750</text><text x="490.1" y="365">1000</text><text x="519.3" y="365">1250</text><text x="548.6" y="365">1500</text><text x="577.9" y="365">1750</text><text x="607.1" y="365">2000</text><text x="636.4" y="365">2250</text><text x="665.6" y="365">2500</text><text x="366" y="230">0</text><text x="366" y="246.4">250</text><text x="366" y="262.9">500</text><text x="366" y="279.4">750</text><text x="366" y="295.8">1000</text><text x="366" y="312.2">1250</text><text x="366" y="328.7">1500</text><text x="366" y="345.1">1750</text><text x="366" y="361.6">2000</text><text x="364.5" y="286.8" transform="rotate(-90 364.5 286.8)" font-size="3">Depth (m)</text></g>
<line x1="672.5" y1="229" x2="683.5" y2="229" stroke="#ccc" stroke-width="0.6"/><line x1="672.5" y1="242.1" x2="683.5" y2="242.1" stroke="#ccc" stroke-width="0.6"/><line x1="672.5" y1="249.4" x2="683.5" y2="249.4" stroke="#ccc" stroke-width="0.6"/><line x1="672.5" y1="256.9" x2="683.5" y2="256.9" stroke="#ccc" stroke-width="0.6"/><line x1="672.5" y1="266.8" x2="683.5" y2="266.8" stroke="#ccc" stroke-width="0.6"/><line x1="672.5" y1="276.8" x2="683.5" y2="276.8" stroke="#ccc" stroke-width="0.6"/><line x1="672.5" y1="292" x2="683.5" y2="292" stroke="#ccc" stroke-width="0.6"/><line x1="672.5" y1="304" x2="683.5" y2="304" stroke="#ccc" stroke-width="0.6"/><line x1="672.5" y1="316" x2="683.5" y2="316" stroke="#ccc" stroke-width="0.6"/><text x="674.5" y="236" font-size="3.4" fill="#888" font-family="Liberation Sans, sans-serif">K1 al</text><text x="674.5" y="246" font-size="3.4" fill="#888" font-family="Liberation Sans, sans-serif">K1 al</text><text x="674.5" y="254" font-size="3.4" fill="#888" font-family="Liberation Sans, sans-serif">K1 al</text><text x="674.5" y="263" font-size="3.4" fill="#888" font-family="Liberation Sans, sans-serif">K1 al</text><text x="674.5" y="273" font-size="3.4" fill="#888" font-family="Liberation Sans, sans-serif">K1 al</text><text x="674.5" y="290" font-size="3.4" fill="#888" font-family="Liberation Sans, sans-serif">K1 al</text><text x="674.5" y="301" font-size="3.4" fill="#888" font-family="Liberation Sans, sans-serif">K1 al</text><text x="674.5" y="313" font-size="3.4" fill="#888" font-family="Liberation Sans, sans-serif">K1 al</text>
<text x="672.5" y="364.5" font-size="3.5" fill="#89a" font-family="Liberation Sans, sans-serif">@Petrel</text>
<text x="383.4" y="224.8" font-size="11.6" font-family="Liberation Sans, sans-serif" fill="#000" stroke="#000" stroke-width="0.25" textLength="12" lengthAdjust="spacingAndGlyphs">СЗ</text>
<text x="637" y="224.8" font-size="11.6" font-family="Liberation Sans, sans-serif" fill="#000" stroke="#000" stroke-width="0.25" textLength="18.3" lengthAdjust="spacingAndGlyphs">ЮВ</text>
<rect x="358" y="372.6" width="323" height="155.89999999999998" fill="#fff"/>
<polygon points="370,440.9 375,441.2 377.2,441.3 379.9,441.4 382.5,441.6 384.9,441.8 386.1,442 389.9,442.4 394.9,442.9 396.3,443.1 396.9,443.2 398.4,443.3 399.9,443.2 401.6,443.1 404.8,442.8 406.4,442.7 408.8,442.5 409.8,442.4 414.2,442.1 414.8,442 417.5,441.7 417.8,441.7 419,441.6 419.8,441.5 424.3,441 424.7,440.9 429.7,440.3 434.7,439.7 434.8,439.7 439.6,439 440.7,438.8 441.6,438.7 442.5,438.6 444.6,438.4 447,438.1 449.6,437.9 454.6,437.4 454.8,437.4 456.3,437.6 459.6,438 461,438.1 464.3,438.5 464.5,438.5 464.6,438.5 467,438.8 469.5,439 473.9,439.5 474.5,439.6 476.9,439.8 479.4,440 482.2,440.3 482.5,440.3 484.4,440.5 489.4,441 490.3,441 492.4,441.2 494.4,441.3 498.4,441.6 499.4,441.6 499.5,441.6 499.8,441.6 504.3,441.9 507.3,442.1 508.2,442.1 509.3,442.2 511.5,442.3 514.3,442.4 516.3,442.5 517.5,442.5 519.2,442.4 522.2,442.2 523.1,442.2 524.2,442.1 528.2,441.9 529.2,441.8 532.7,441.6 534.2,441.3 536,441 539.1,440.5 540.7,440.2 541,440.2 544.1,439.7 545.2,439.5 546.7,439.2 547.6,439.1 548.5,438.9 549.1,438.8 552.4,438.2 554.1,437.9 554.8,437.8 559,438 560.7,438 561.3,438 564,438.1 564.3,438.1 569,438.5 570,438.6 572.1,438.8 574,438.8 576.6,438.7 577.8,438.7 579,438.6 581,438.6 583.9,438.5 584,438.5 587.6,438.4 588.9,438.3 593,438.2 593.9,438.2 595.7,438.1 598.9,438.1 602.8,438.1 603.1,438.1 603.8,438.1 608.8,438 611.8,438 613.8,438 614.5,438 618.8,437.9 623.7,437.9 627,437.8 627.3,437.8 627.9,437.8 628.7,437.8 633.7,437.8 638.7,437.8 640.1,437.8 643.6,437.8 643.7,437.8 648.6,437.8 652.7,437.8 653.6,437.8 658.5,437.8 659.5,437.8 663.5,437.8 668.5,437.8 668.5,479 663.5,478.4 659.5,477.9 658.5,477.8 653.6,477 652.7,476.9 648.6,476.3 643.7,475.5 643.6,475.5 640.1,475 638.7,474.8 633.7,474.1 628.7,473.3 627.9,473.2 627.3,473.1 627,473.1 623.7,472.7 618.8,472.1 614.5,471.5 613.8,471.5 611.8,471.2 608.8,470.9 603.8,470.5 603.1,470.4 602.8,470.4 598.9,469.5 595.7,468.8 593.9,468.4 593,468.2 588.9,467.3 587.6,467 584,466.2 583.9,466.2 581,465.6 579,465.1 577.8,464.8 576.6,464.6 574,464.8 572.1,465 570,465.2 569,465.3 564.3,465.7 564,465.8 561.3,466 560.7,466.1 559,466 554.8,465.7 554.1,465.7 552.4,465.6 549.1,465.4 548.5,465.3 547.6,465.3 546.7,465.3 545.2,465.5 544.1,465.6 541,465.8 540.7,466 539.1,466.6 536,467.7 534.2,468.4 532.7,468.7 529.2,469.2 528.2,469.4 524.2,469.4 523.1,469.4 522.2,469.4 519.2,469 517.5,468.8 516.3,468.7 514.3,468.5 511.5,468.3 509.3,468.2 508.2,468.1 507.3,468.1 504.3,468 499.8,468 499.5,468 499.4,468 498.4,467.9 494.4,467.7 492.4,467.6 490.3,467.5 489.4,467.5 484.4,466.1 482.5,465.6 482.2,465.5 479.4,464.8 476.9,464.1 474.5,463.4 473.9,463.3 469.5,462.7 467,462.3 464.6,462 464.5,462 464.3,462 461,461.6 459.6,461.5 456.3,461.1 454.8,460.9 454.6,461 449.6,462.3 447,463 444.6,463.6 442.5,464.2 441.6,464.4 440.7,464.6 439.6,464.8 434.8,465.9 434.7,465.9 429.7,467 424.7,468.7 424.3,468.8 419.8,470.4 419,470.6 417.8,470.8 417.5,470.8 414.8,471.1 414.2,471.1 409.8,471.6 408.8,471.7 406.4,471.9 404.8,472.2 401.6,472.7 399.9,473 398.4,473.2 396.9,473.4 396.3,473.3 394.9,472.9 389.9,471.6 386.1,470.6 384.9,470.3 382.5,469.7 379.9,469.4 377.2,469.1 375,468.9 370,468.3" fill="#a2f7f9"/>
<polygon points="370,440.9 375,441.2 377.2,441.3 379.9,441.4 382.5,441.6 384.9,441.8 386.1,442 389.9,442.4 394.9,442.9 396.3,443.1 396.9,443.2 398.4,443.3 399.9,443.2 401.6,443.1 404.8,442.8 406.4,442.7 408.8,442.5 409.8,442.4 414.2,442.1 414.8,442 417.5,441.7 417.8,441.7 419,441.6 419.8,441.5 424.3,441 424.7,440.9 429.7,440.3 434.7,439.7 434.8,439.7 439.6,439 440.7,438.8 441.6,438.7 442.5,438.6 444.6,438.4 447,438.1 449.6,437.9 454.6,437.4 454.8,437.4 456.3,437.6 459.6,438 461,438.1 464.3,438.5 464.5,438.5 464.6,438.5 467,438.8 469.5,439 473.9,439.5 474.5,439.6 476.9,439.8 479.4,440 482.2,440.3 482.5,440.3 484.4,440.5 489.4,441 490.3,441 492.4,441.2 494.4,441.3 498.4,441.6 499.4,441.6 499.5,441.6 499.8,441.6 504.3,441.9 507.3,442.1 508.2,442.1 509.3,442.2 511.5,442.3 514.3,442.4 516.3,442.5 517.5,442.5 519.2,442.4 522.2,442.2 523.1,442.2 524.2,442.1 528.2,441.9 529.2,441.8 532.7,441.6 534.2,441.3 536,441 539.1,440.5 540.7,440.2 541,440.2 544.1,439.7 545.2,439.5 546.7,439.2 547.6,439.1 548.5,438.9 549.1,438.8 552.4,438.2 554.1,437.9 554.8,437.8 559,438 560.7,438 561.3,438 564,438.1 564.3,438.1 569,438.5 570,438.6 572.1,438.8 574,438.8 576.6,438.7 577.8,438.7 579,438.6 581,438.6 583.9,438.5 584,438.5 587.6,438.4 588.9,438.3 593,438.2 593.9,438.2 595.7,438.1 598.9,438.1 602.8,438.1 603.1,438.1 603.8,438.1 608.8,438 611.8,438 613.8,438 614.5,438 618.8,437.9 623.7,437.9 627,437.8 627.3,437.8 627.9,437.8 628.7,437.8 633.7,437.8 638.7,437.8 640.1,437.8 643.6,437.8 643.7,437.8 648.6,437.8 652.7,437.8 653.6,437.8 658.5,437.8 659.5,437.8 663.5,437.8 668.5,437.8 668.5,451.8 663.5,451.8 659.5,451.8 658.5,451.8 653.6,451.8 652.7,451.8 648.6,451.8 643.7,451.8 643.6,451.8 640.1,451.8 638.7,451.8 633.7,451.8 628.7,451.8 627.9,451.8 627.3,451.8 627,451.8 623.7,451.9 618.8,451.9 614.5,452 613.8,452 611.8,452 608.8,452 603.8,452.1 603.1,452.1 602.8,452.1 598.9,452.1 595.7,452.1 593.9,452.2 593,452.2 588.9,452.3 587.6,452.4 584,452.5 583.9,452.5 581,452.6 579,452.6 577.8,452.7 576.6,452.7 574,452.8 572.1,452.8 570,452.6 569,452.5 564.3,452.1 564,452.1 561.3,452 560.7,452 559,452 554.8,451.8 554.1,451.9 552.4,452.2 549.1,452.8 548.5,452.9 547.6,453.1 546.7,453.2 545.2,453.5 544.1,453.7 541,454.2 540.7,454.2 539.1,454.5 536,455 534.2,455.3 532.7,455.6 529.2,455.8 528.2,455.9 524.2,456.1 523.1,456.2 522.2,456.2 519.2,456.4 517.5,456.5 516.3,456.5 514.3,456.4 511.5,456.3 509.3,456.2 508.2,456.1 507.3,456.1 504.3,455.9 499.8,455.6 499.5,455.6 499.4,455.6 498.4,455.6 494.4,455.3 492.4,455.2 490.3,455 489.4,455 484.4,454.5 482.5,454.3 482.2,454.3 479.4,454 476.9,453.8 474.5,453.6 473.9,453.5 469.5,453 467,452.8 464.6,452.5 464.5,452.5 464.3,452.5 461,452.1 459.6,452 456.3,451.6 454.8,451.4 454.6,451.4 449.6,451.9 447,452.1 444.6,452.4 442.5,452.6 441.6,452.7 440.7,452.8 439.6,453 434.8,453.7 434.7,453.7 429.7,454.3 424.7,454.9 424.3,455 419.8,455.5 419,455.6 417.8,455.7 417.5,455.7 414.8,456 414.2,456.1 409.8,456.4 408.8,456.5 406.4,456.7 404.8,456.8 401.6,457.1 399.9,457.2 398.4,457.3 396.9,457.2 396.3,457.1 394.9,456.9 389.9,456.4 386.1,456 384.9,455.8 382.5,455.6 379.9,455.4 377.2,455.3 375,455.2 370,454.9" fill="#bcfafa"/>
<polygon points="370,388.8 375,388.8 377.2,388.8 379.9,388.8 382.5,388.8 384.9,388.8 386.1,388.8 389.9,388.8 394.9,388.8 396.3,388.8 396.9,388.8 398.4,388.8 399.9,388.8 401.6,388.8 404.8,388.8 406.4,388.8 408.8,388.8 409.8,388.8 414.2,388.8 414.8,388.8 417.5,388.8 417.8,388.8 419,388.8 419.8,388.8 424.3,388.8 424.7,388.8 429.7,388.8 434.7,388.8 434.8,388.8 439.6,388.8 440.7,388.8 441.6,388.8 442.5,388.8 444.6,388.8 447,388.8 449.6,388.8 454.6,388.8 454.8,388.8 456.3,388.8 459.6,388.8 461,388.8 464.3,388.8 464.5,388.8 464.6,388.8 467,388.8 469.5,388.8 473.9,388.8 474.5,388.8 476.9,388.8 479.4,388.8 482.2,388.8 482.5,388.8 484.4,388.8 489.4,388.8 490.3,388.8 492.4,388.8 494.4,388.8 498.4,388.8 499.4,388.8 499.5,388.8 499.8,388.8 504.3,388.8 507.3,388.8 508.2,388.8 509.3,388.8 511.5,388.8 514.3,388.8 516.3,388.8 517.5,388.8 519.2,388.8 522.2,388.8 523.1,388.8 524.2,388.8 528.2,388.8 529.2,388.8 532.7,388.8 534.2,388.8 536,388.8 539.1,388.8 540.7,388.8 541,388.8 544.1,388.8 545.2,388.8 546.7,388.8 547.6,388.8 548.5,388.8 549.1,388.8 552.4,388.8 554.1,388.8 554.8,388.8 559,388.8 560.7,388.8 561.3,388.8 564,388.8 564.3,388.8 569,388.8 570,388.8 572.1,388.8 574,388.8 576.6,388.8 577.8,388.8 579,388.8 581,388.8 583.9,388.8 584,388.8 587.6,388.8 588.9,388.8 593,388.8 593.9,388.8 595.7,388.8 598.9,388.8 602.8,388.8 603.1,388.8 603.8,388.8 608.8,388.8 611.8,388.8 613.8,388.8 614.5,388.8 618.8,388.8 623.7,388.8 627,388.8 627.3,388.8 627.9,388.8 628.7,388.8 633.7,388.8 638.7,388.8 640.1,388.8 643.6,388.8 643.7,388.8 648.6,388.8 652.7,388.8 653.6,388.8 658.5,388.8 659.5,388.8 663.5,388.8 668.5,388.8 668.5,397.1 663.5,397.1 659.5,397.1 658.5,397.1 653.6,397.1 652.7,397.1 648.6,397.1 643.7,397.1 643.6,397.1 640.1,397.1 638.7,397.1 633.7,397.1 628.7,397.1 627.9,397.1 627.3,397.1 627,397.1 623.7,397.1 618.8,397.1 614.5,397.1 613.8,397.1 611.8,397.1 608.8,397.1 603.8,397.1 603.1,397.1 602.8,397.1 598.9,397.1 595.7,397.1 593.9,397.1 593,397.1 588.9,397.1 587.6,397.1 584,397.1 583.9,397.1 581,397.1 579,397.1 577.8,397.1 576.6,397.1 574,397.1 572.1,397.1 570,397.1 569,397.1 564.3,397.1 564,397.1 561.3,397.1 560.7,397.1 559,397.1 554.8,397.1 554.1,397.1 552.4,397.1 549.1,397.1 548.5,397.1 547.6,397.1 546.7,397.1 545.2,397.1 544.1,397.1 541,397.2 540.7,397.2 539.1,397.2 536,397.2 534.2,397.2 532.7,397.2 529.2,397.2 528.2,397.2 524.2,397.3 523.1,397.3 522.2,397.3 519.2,397.3 517.5,397.3 516.3,397.3 514.3,397.3 511.5,397.3 509.3,397.3 508.2,397.3 507.3,397.3 504.3,397.2 499.8,397.2 499.5,397.2 499.4,397.2 498.4,397.2 494.4,397.2 492.4,397.2 490.3,397.2 489.4,397.2 484.4,397.2 482.5,397.2 482.2,397.2 479.4,397.2 476.9,397.1 474.5,397.1 473.9,397.1 469.5,397.1 467,397.1 464.6,397.1 464.5,397.1 464.3,397.1 461,397.1 459.6,397.1 456.3,397 454.8,397 454.6,397 449.6,397.1 447,397.1 444.6,397.1 442.5,397.1 441.6,397.1 440.7,397.1 439.6,397.1 434.8,397.1 434.7,397.1 429.7,397.2 424.7,397.2 424.3,397.2 419.8,397.2 419,397.2 417.8,397.2 417.5,397.2 414.8,397.3 414.2,397.3 409.8,397.3 408.8,397.3 406.4,397.3 404.8,397.3 401.6,397.3 399.9,397.3 398.4,397.3 396.9,397.3 396.3,397.3 394.9,397.3 389.9,397.3 386.1,397.2 384.9,397.2 382.5,397.2 379.9,397.2 377.2,397.2 375,397.2 370,397.2" fill="#84f87b"/>
<polygon points="370,396 375,396 377.2,396 379.9,396 382.5,396 384.9,396 386.1,396 389.9,396.1 394.9,396.1 396.3,396.1 396.9,396.1 398.4,396.1 399.9,396.1 401.6,396.1 404.8,396.1 406.4,396.1 408.8,396.1 409.8,396.1 414.2,396.1 414.8,396.1 417.5,396 417.8,396 419,396 419.8,396 424.3,396 424.7,396 429.7,396 434.7,395.9 434.8,395.9 439.6,395.9 440.7,395.9 441.6,395.9 442.5,395.9 444.6,395.9 447,395.9 449.6,395.9 454.6,395.8 454.8,395.8 456.3,395.8 459.6,395.9 461,395.9 464.3,395.9 464.5,395.9 464.6,395.9 467,395.9 469.5,395.9 473.9,395.9 474.5,395.9 476.9,395.9 479.4,396 482.2,396 482.5,396 484.4,396 489.4,396 490.3,396 492.4,396 494.4,396 498.4,396 499.4,396 499.5,396 499.8,396 504.3,396 507.3,396.1 508.2,396.1 509.3,396.1 511.5,396.1 514.3,396.1 516.3,396.1 517.5,396.1 519.2,396.1 522.2,396.1 523.1,396.1 524.2,396.1 528.2,396 529.2,396 532.7,396 534.2,396 536,396 539.1,396 540.7,396 541,396 544.1,395.9 545.2,395.9 546.7,395.9 547.6,395.9 548.5,395.9 549.1,395.9 552.4,395.9 554.1,395.9 554.8,395.9 559,395.9 560.7,395.9 561.3,395.9 564,395.9 564.3,395.9 569,395.9 570,395.9 572.1,395.9 574,395.9 576.6,395.9 577.8,395.9 579,395.9 581,395.9 583.9,395.9 584,395.9 587.6,395.9 588.9,395.9 593,395.9 593.9,395.9 595.7,395.9 598.9,395.9 602.8,395.9 603.1,395.9 603.8,395.9 608.8,395.9 611.8,395.9 613.8,395.9 614.5,395.9 618.8,395.9 623.7,395.9 627,395.9 627.3,395.9 627.9,395.9 628.7,395.9 633.7,395.9 638.7,395.9 640.1,395.9 643.6,395.9 643.7,395.9 648.6,395.9 652.7,395.9 653.6,395.9 658.5,395.9 659.5,395.9 663.5,395.9 668.5,395.9 668.5,403.8 663.5,403.8 659.5,403.8 658.5,403.8 653.6,403.8 652.7,403.8 648.6,403.8 643.7,403.8 643.6,403.8 640.1,403.8 638.7,403.8 633.7,403.8 628.7,403.8 627.9,403.8 627.3,403.8 627,403.8 623.7,403.8 618.8,403.8 614.5,403.8 613.8,403.8 611.8,403.8 608.8,403.8 603.8,403.8 603.1,403.8 602.8,403.8 598.9,403.8 595.7,403.8 593.9,403.9 593,403.9 588.9,403.9 587.6,403.9 584,403.9 583.9,403.9 581,403.9 579,403.9 577.8,403.9 576.6,403.9 574,403.9 572.1,403.9 570,403.9 569,403.9 564.3,403.8 564,403.8 561.3,403.8 560.7,403.8 559,403.8 554.8,403.8 554.1,403.8 552.4,403.9 549.1,403.9 548.5,403.9 547.6,403.9 546.7,403.9 545.2,404 544.1,404 541,404 540.7,404 539.1,404.1 536,404.1 534.2,404.1 532.7,404.2 529.2,404.2 528.2,404.2 524.2,404.2 523.1,404.2 522.2,404.2 519.2,404.2 517.5,404.2 516.3,404.2 514.3,404.2 511.5,404.2 509.3,404.2 508.2,404.2 507.3,404.2 504.3,404.2 499.8,404.2 499.5,404.2 499.4,404.2 498.4,404.2 494.4,404.1 492.4,404.1 490.3,404.1 489.4,404.1 484.4,404.1 482.5,404 482.2,404 479.4,404 476.9,404 474.5,404 473.9,404 469.5,403.9 467,403.9 464.6,403.9 464.5,403.9 464.3,403.9 461,403.8 459.6,403.8 456.3,403.8 454.8,403.8 454.6,403.8 449.6,403.8 447,403.8 444.6,403.9 442.5,403.9 441.6,403.9 440.7,403.9 439.6,403.9 434.8,404 434.7,404 429.7,404 424.7,404.1 424.3,404.1 419.8,404.2 419,404.2 417.8,404.2 417.5,404.2 414.8,404.2 414.2,404.2 409.8,404.2 408.8,404.2 406.4,404.3 404.8,404.3 401.6,404.3 399.9,404.3 398.4,404.3 396.9,404.3 396.3,404.3 394.9,404.3 389.9,404.2 386.1,404.2 384.9,404.2 382.5,404.2 379.9,404.1 377.2,404.1 375,404.1 370,404.1" fill="#84f67b"/>
<polygon points="370,402.9 375,402.9 377.2,402.9 379.9,402.9 382.5,403 384.9,403 386.1,403 389.9,403 394.9,403.1 396.3,403.1 396.9,403.1 398.4,403.1 399.9,403.1 401.6,403.1 404.8,403.1 406.4,403.1 408.8,403 409.8,403 414.2,403 414.8,403 417.5,403 417.8,403 419,403 419.8,403 424.3,402.9 424.7,402.9 429.7,402.8 434.7,402.8 434.8,402.8 439.6,402.7 440.7,402.7 441.6,402.7 442.5,402.7 444.6,402.7 447,402.6 449.6,402.6 454.6,402.6 454.8,402.6 456.3,402.6 459.6,402.6 461,402.6 464.3,402.7 464.5,402.7 464.6,402.7 467,402.7 469.5,402.7 473.9,402.8 474.5,402.8 476.9,402.8 479.4,402.8 482.2,402.8 482.5,402.8 484.4,402.9 489.4,402.9 490.3,402.9 492.4,402.9 494.4,402.9 498.4,403 499.4,403 499.5,403 499.8,403 504.3,403 507.3,403 508.2,403 509.3,403 511.5,403 514.3,403 516.3,403 517.5,403 519.2,403 522.2,403 523.1,403 524.2,403 528.2,403 529.2,403 532.7,403 534.2,402.9 536,402.9 539.1,402.9 540.7,402.8 541,402.8 544.1,402.8 545.2,402.8 546.7,402.7 547.6,402.7 548.5,402.7 549.1,402.7 552.4,402.7 554.1,402.6 554.8,402.6 559,402.6 560.7,402.6 561.3,402.6 564,402.6 564.3,402.6 569,402.7 570,402.7 572.1,402.7 574,402.7 576.6,402.7 577.8,402.7 579,402.7 581,402.7 583.9,402.7 584,402.7 587.6,402.7 588.9,402.7 593,402.7 593.9,402.7 595.7,402.6 598.9,402.6 602.8,402.6 603.1,402.6 603.8,402.6 608.8,402.6 611.8,402.6 613.8,402.6 614.5,402.6 618.8,402.6 623.7,402.6 627,402.6 627.3,402.6 627.9,402.6 628.7,402.6 633.7,402.6 638.7,402.6 640.1,402.6 643.6,402.6 643.7,402.6 648.6,402.6 652.7,402.6 653.6,402.6 658.5,402.6 659.5,402.6 663.5,402.6 668.5,402.6 668.5,410.9 663.5,410.9 659.5,410.9 658.5,410.9 653.6,410.9 652.7,410.9 648.6,410.9 643.7,410.9 643.6,410.9 640.1,410.9 638.7,410.9 633.7,410.9 628.7,410.9 627.9,410.9 627.3,410.9 627,410.9 623.7,410.9 618.8,411 614.5,411 613.8,411 611.8,411 608.8,411 603.8,411 603.1,411 602.8,411 598.9,411 595.7,411 593.9,411 593,411 588.9,411 587.6,411 584,411.1 583.9,411.1 581,411.1 579,411.1 577.8,411.1 576.6,411.1 574,411.1 572.1,411.1 570,411.1 569,411.1 564.3,411 564,411 561.3,411 560.7,411 559,411 554.8,410.9 554.1,411 552.4,411 549.1,411.1 548.5,411.1 547.6,411.2 546.7,411.2 545.2,411.2 544.1,411.3 541,411.4 540.7,411.4 539.1,411.4 536,411.5 534.2,411.6 532.7,411.6 529.2,411.7 528.2,411.7 524.2,411.7 523.1,411.7 522.2,411.7 519.2,411.8 517.5,411.8 516.3,411.8 514.3,411.8 511.5,411.7 509.3,411.7 508.2,411.7 507.3,411.7 504.3,411.7 499.8,411.6 499.5,411.6 499.4,411.6 498.4,411.6 494.4,411.6 492.4,411.6 490.3,411.5 489.4,411.5 484.4,411.4 482.5,411.4 482.2,411.4 479.4,411.3 476.9,411.3 474.5,411.3 473.9,411.2 469.5,411.2 467,411.1 464.6,411.1 464.5,411.1 464.3,411.1 461,411 459.6,411 456.3,410.9 454.8,410.9 454.6,410.9 449.6,411 447,411 444.6,411 442.5,411.1 441.6,411.1 440.7,411.1 439.6,411.2 434.8,411.3 434.7,411.3 429.7,411.4 424.7,411.5 424.3,411.5 419.8,411.6 419,411.6 417.8,411.6 417.5,411.7 414.8,411.7 414.2,411.7 409.8,411.8 408.8,411.8 406.4,411.8 404.8,411.9 401.6,411.9 399.9,411.9 398.4,411.9 396.9,411.9 396.3,411.9 394.9,411.9 389.9,411.8 386.1,411.7 384.9,411.7 382.5,411.6 379.9,411.6 377.2,411.6 375,411.5 370,411.5" fill="#5ae60e"/>
<polygon points="370,410.3 375,410.3 377.2,410.4 379.9,410.4 382.5,410.4 384.9,410.5 386.1,410.5 389.9,410.6 394.9,410.7 396.3,410.7 396.9,410.7 398.4,410.7 399.9,410.7 401.6,410.7 404.8,410.7 406.4,410.6 408.8,410.6 409.8,410.6 414.2,410.5 414.8,410.5 417.5,410.5 417.8,410.4 419,410.4 419.8,410.4 424.3,410.3 424.7,410.3 429.7,410.2 434.7,410.1 434.8,410.1 439.6,410 440.7,409.9 441.6,409.9 442.5,409.9 444.6,409.8 447,409.8 449.6,409.8 454.6,409.7 454.8,409.7 456.3,409.7 459.6,409.8 461,409.8 464.3,409.9 464.5,409.9 464.6,409.9 467,409.9 469.5,410 473.9,410 474.5,410.1 476.9,410.1 479.4,410.1 482.2,410.2 482.5,410.2 484.4,410.2 489.4,410.3 490.3,410.3 492.4,410.4 494.4,410.4 498.4,410.4 499.4,410.4 499.5,410.4 499.8,410.4 504.3,410.5 507.3,410.5 508.2,410.5 509.3,410.5 511.5,410.5 514.3,410.6 516.3,410.6 517.5,410.6 519.2,410.6 522.2,410.5 523.1,410.5 524.2,410.5 528.2,410.5 529.2,410.5 532.7,410.4 534.2,410.4 536,410.3 539.1,410.2 540.7,410.2 541,410.2 544.1,410.1 545.2,410 546.7,410 547.6,410 548.5,409.9 549.1,409.9 552.4,409.8 554.1,409.8 554.8,409.7 559,409.8 560.7,409.8 561.3,409.8 564,409.8 564.3,409.8 569,409.9 570,409.9 572.1,409.9 574,409.9 576.6,409.9 577.8,409.9 579,409.9 581,409.9 583.9,409.9 584,409.9 587.6,409.8 588.9,409.8 593,409.8 593.9,409.8 595.7,409.8 598.9,409.8 602.8,409.8 603.1,409.8 603.8,409.8 608.8,409.8 611.8,409.8 613.8,409.8 614.5,409.8 618.8,409.8 623.7,409.7 627,409.7 627.3,409.7 627.9,409.7 628.7,409.7 633.7,409.7 638.7,409.7 640.1,409.7 643.6,409.7 643.7,409.7 648.6,409.7 652.7,409.7 653.6,409.7 658.5,409.7 659.5,409.7 663.5,409.7 668.5,409.7 668.5,418.1 663.5,418.1 659.5,418.1 658.5,418.1 653.6,418.1 652.7,418.1 648.6,418.1 643.7,418.1 643.6,418.1 640.1,418.1 638.7,418.1 633.7,418.1 628.7,418.1 627.9,418.1 627.3,418.1 627,418.1 623.7,418.1 618.8,418.1 614.5,418.1 613.8,418.1 611.8,418.1 608.8,418.1 603.8,418.2 603.1,418.2 602.8,418.2 598.9,418.2 595.7,418.2 593.9,418.2 593,418.2 588.9,418.3 587.6,418.3 584,418.3 583.9,418.3 581,418.3 579,418.4 577.8,418.4 576.6,418.4 574,418.4 572.1,418.4 570,418.4 569,418.3 564.3,418.2 564,418.2 561.3,418.2 560.7,418.2 559,418.1 554.8,418.1 554.1,418.1 552.4,418.2 549.1,418.4 548.5,418.5 547.6,418.5 546.7,418.6 545.2,418.7 544.1,418.7 541,418.9 540.7,419 539.1,419 536,419.2 534.2,419.3 532.7,419.4 529.2,419.5 528.2,419.5 524.2,419.6 523.1,419.7 522.2,419.7 519.2,419.8 517.5,419.8 516.3,419.8 514.3,419.7 511.5,419.7 509.3,419.7 508.2,419.6 507.3,419.6 504.3,419.6 499.8,419.5 499.5,419.5 499.4,419.5 498.4,419.4 494.4,419.4 492.4,419.3 490.3,419.2 489.4,419.2 484.4,419.1 482.5,419 482.2,419 479.4,418.9 476.9,418.8 474.5,418.7 473.9,418.7 469.5,418.5 467,418.4 464.6,418.3 464.5,418.3 464.3,418.3 461,418.2 459.6,418.1 456.3,418 454.8,417.9 454.6,417.9 449.6,418.1 447,418.2 444.6,418.3 442.5,418.4 441.6,418.4 440.7,418.4 439.6,418.5 434.8,418.7 434.7,418.8 429.7,419 424.7,419.2 424.3,419.2 419.8,419.4 419,419.4 417.8,419.5 417.5,419.5 414.8,419.6 414.2,419.6 409.8,419.8 408.8,419.8 406.4,419.9 404.8,419.9 401.6,420 399.9,420 398.4,420.1 396.9,420 396.3,420 394.9,419.9 389.9,419.7 386.1,419.6 384.9,419.5 382.5,419.4 379.9,419.4 377.2,419.3 375,419.3 370,419.2" fill="#0dcb43"/>
<polygon points="370,418 375,418.1 377.2,418.1 379.9,418.2 382.5,418.2 384.9,418.3 386.1,418.4 389.9,418.5 394.9,418.7 396.3,418.8 396.9,418.8 398.4,418.9 399.9,418.8 401.6,418.8 404.8,418.7 406.4,418.7 408.8,418.6 409.8,418.6 414.2,418.4 414.8,418.4 417.5,418.3 417.8,418.3 419,418.2 419.8,418.2 424.3,418 424.7,418 429.7,417.8 434.7,417.6 434.8,417.5 439.6,417.3 440.7,417.2 441.6,417.2 442.5,417.2 444.6,417.1 447,417 449.6,416.9 454.6,416.7 454.8,416.7 456.3,416.8 459.6,416.9 461,417 464.3,417.1 464.5,417.1 464.6,417.1 467,417.2 469.5,417.3 473.9,417.5 474.5,417.5 476.9,417.6 479.4,417.7 482.2,417.8 482.5,417.8 484.4,417.9 489.4,418 490.3,418.1 492.4,418.1 494.4,418.2 498.4,418.2 499.4,418.3 499.5,418.3 499.8,418.3 504.3,418.4 507.3,418.4 508.2,418.4 509.3,418.5 511.5,418.5 514.3,418.5 516.3,418.6 517.5,418.6 519.2,418.6 522.2,418.5 523.1,418.5 524.2,418.4 528.2,418.3 529.2,418.3 532.7,418.2 534.2,418.1 536,418 539.1,417.8 540.7,417.8 541,417.7 544.1,417.5 545.2,417.5 546.7,417.4 547.6,417.3 548.5,417.3 549.1,417.2 552.4,417 554.1,416.9 554.8,416.9 559,416.9 560.7,417 561.3,417 564,417 564.3,417 569,417.1 570,417.2 572.1,417.2 574,417.2 576.6,417.2 577.8,417.2 579,417.2 581,417.1 583.9,417.1 584,417.1 587.6,417.1 588.9,417.1 593,417 593.9,417 595.7,417 598.9,417 602.8,417 603.1,417 603.8,417 608.8,416.9 611.8,416.9 613.8,416.9 614.5,416.9 618.8,416.9 623.7,416.9 627,416.9 627.3,416.9 627.9,416.9 628.7,416.9 633.7,416.9 638.7,416.9 640.1,416.9 643.6,416.9 643.7,416.9 648.6,416.9 652.7,416.9 653.6,416.9 658.5,416.9 659.5,416.9 663.5,416.9 668.5,416.9 668.5,427.8 663.5,427.8 659.5,427.8 658.5,427.8 653.6,427.8 652.7,427.8 648.6,427.8 643.7,427.8 643.6,427.8 640.1,427.8 638.7,427.8 633.7,427.8 628.7,427.8 627.9,427.8 627.3,427.8 627,427.8 623.7,427.9 618.8,427.9 614.5,427.9 613.8,427.9 611.8,427.9 608.8,428 603.8,428 603.1,428 602.8,428 598.9,428 595.7,428.1 593.9,428.1 593,428.1 588.9,428.2 587.6,428.2 584,428.3 583.9,428.3 581,428.3 579,428.3 577.8,428.4 576.6,428.4 574,428.4 572.1,428.5 570,428.4 569,428.3 564.3,428.1 564,428 561.3,428 560.7,428 559,427.9 554.8,427.8 554.1,427.9 552.4,428.1 549.1,428.5 548.5,428.5 547.6,428.6 546.7,428.7 545.2,428.9 544.1,429 541,429.3 540.7,429.4 539.1,429.5 536,429.9 534.2,430.1 532.7,430.2 529.2,430.4 528.2,430.4 524.2,430.6 523.1,430.6 522.2,430.7 519.2,430.8 517.5,430.9 516.3,430.8 514.3,430.8 511.5,430.7 509.3,430.6 508.2,430.6 507.3,430.5 504.3,430.4 499.8,430.3 499.5,430.3 499.4,430.3 498.4,430.2 494.4,430.1 492.4,430 490.3,429.9 489.4,429.8 484.4,429.5 482.5,429.4 482.2,429.4 479.4,429.3 476.9,429.1 474.5,428.9 473.9,428.9 469.5,428.6 467,428.4 464.6,428.3 464.5,428.3 464.3,428.3 461,428.1 459.6,427.9 456.3,427.7 454.8,427.6 454.6,427.6 449.6,427.9 447,428 444.6,428.2 442.5,428.3 441.6,428.4 440.7,428.5 439.6,428.6 434.8,429 434.7,429 429.7,429.4 424.7,429.8 424.3,429.8 419.8,430.2 419,430.2 417.8,430.3 417.5,430.3 414.8,430.5 414.2,430.6 409.8,430.8 408.8,430.8 406.4,430.9 404.8,431 401.6,431.2 399.9,431.3 398.4,431.3 396.9,431.2 396.3,431.2 394.9,431.1 389.9,430.7 386.1,430.5 384.9,430.4 382.5,430.2 379.9,430.1 377.2,430 375,430 370,429.8" fill="#12ac12"/>
<polygon points="370,428.6 375,428.8 377.2,428.8 379.9,428.9 382.5,429 384.9,429.2 386.1,429.3 389.9,429.5 394.9,429.9 396.3,430 396.9,430 398.4,430.1 399.9,430.1 401.6,430 404.8,429.8 406.4,429.7 408.8,429.6 409.8,429.6 414.2,429.4 414.8,429.3 417.5,429.1 417.8,429.1 419,429 419.8,429 424.3,428.6 424.7,428.6 429.7,428.2 434.7,427.8 434.8,427.8 439.6,427.4 440.7,427.3 441.6,427.2 442.5,427.1 444.6,427 447,426.8 449.6,426.7 454.6,426.4 454.8,426.4 456.3,426.5 459.6,426.7 461,426.9 464.3,427.1 464.5,427.1 464.6,427.1 467,427.2 469.5,427.4 473.9,427.7 474.5,427.7 476.9,427.9 479.4,428.1 482.2,428.2 482.5,428.2 484.4,428.3 489.4,428.6 490.3,428.7 492.4,428.8 494.4,428.9 498.4,429 499.4,429.1 499.5,429.1 499.8,429.1 504.3,429.2 507.3,429.3 508.2,429.4 509.3,429.4 511.5,429.5 514.3,429.6 516.3,429.6 517.5,429.7 519.2,429.6 522.2,429.5 523.1,429.4 524.2,429.4 528.2,429.2 529.2,429.2 532.7,429 534.2,428.9 536,428.7 539.1,428.3 540.7,428.2 541,428.1 544.1,427.8 545.2,427.7 546.7,427.5 547.6,427.4 548.5,427.3 549.1,427.3 552.4,426.9 554.1,426.7 554.8,426.6 559,426.7 560.7,426.8 561.3,426.8 564,426.8 564.3,426.9 569,427.1 570,427.2 572.1,427.3 574,427.2 576.6,427.2 577.8,427.2 579,427.1 581,427.1 583.9,427.1 584,427.1 587.6,427 588.9,427 593,426.9 593.9,426.9 595.7,426.9 598.9,426.8 602.8,426.8 603.1,426.8 603.8,426.8 608.8,426.8 611.8,426.7 613.8,426.7 614.5,426.7 618.8,426.7 623.7,426.7 627,426.6 627.3,426.6 627.9,426.6 628.7,426.6 633.7,426.6 638.7,426.6 640.1,426.6 643.6,426.6 643.7,426.6 648.6,426.6 652.7,426.6 653.6,426.6 658.5,426.6 659.5,426.6 663.5,426.6 668.5,426.6 668.5,437.8 663.5,437.8 659.5,437.8 658.5,437.8 653.6,437.8 652.7,437.8 648.6,437.8 643.7,437.8 643.6,437.8 640.1,437.8 638.7,437.8 633.7,437.8 628.7,437.8 627.9,437.8 627.3,437.8 627,437.8 623.7,437.9 618.8,437.9 614.5,438 613.8,438 611.8,438 608.8,438 603.8,438.1 603.1,438.1 602.8,438.1 598.9,438.1 595.7,438.1 593.9,438.2 593,438.2 588.9,438.3 587.6,438.4 584,438.5 583.9,438.5 581,438.6 579,438.6 577.8,438.7 576.6,438.7 574,438.8 572.1,438.8 570,438.6 569,438.5 564.3,438.1 564,438.1 561.3,438 560.7,438 559,438 554.8,437.8 554.1,437.9 552.4,438.2 549.1,438.8 548.5,438.9 547.6,439.1 546.7,439.2 545.2,439.5 544.1,439.7 541,440.2 540.7,440.2 539.1,440.5 536,441 534.2,441.3 532.7,441.6 529.2,441.8 528.2,441.9 524.2,442.1 523.1,442.2 522.2,442.2 519.2,442.4 517.5,442.5 516.3,442.5 514.3,442.4 511.5,442.3 509.3,442.2 508.2,442.1 507.3,442.1 504.3,441.9 499.8,441.6 499.5,441.6 499.4,441.6 498.4,441.6 494.4,441.3 492.4,441.2 490.3,441 489.4,441 484.4,440.5 482.5,440.3 482.2,440.3 479.4,440 476.9,439.8 474.5,439.6 473.9,439.5 469.5,439 467,438.8 464.6,438.5 464.5,438.5 464.3,438.5 461,438.1 459.6,438 456.3,437.6 454.8,437.4 454.6,437.4 449.6,437.9 447,438.1 444.6,438.4 442.5,438.6 441.6,438.7 440.7,438.8 439.6,439 434.8,439.7 434.7,439.7 429.7,440.3 424.7,440.9 424.3,441 419.8,441.5 419,441.6 417.8,441.7 417.5,441.7 414.8,442 414.2,442.1 409.8,442.4 408.8,442.5 406.4,442.7 404.8,442.8 401.6,443.1 399.9,443.2 398.4,443.3 396.9,443.2 396.3,443.1 394.9,442.9 389.9,442.4 386.1,442 384.9,441.8 382.5,441.6 379.9,441.4 377.2,441.3 375,441.2 370,440.9" fill="#199b11"/>
<polygon points="475.1,463.6 476.9,464.1 479.4,464.8 482.2,465.5 482.5,465.6 484.4,466.1 487.3,466.9 489.4,467.5 490.3,467.5 492.4,467.6 494.2,467.7 494.4,467.7 498.4,467.9 499.4,468 499.5,468 499.8,468 502.2,468 504.3,468 507.3,468.1 507.6,468.1 508.2,468.1 509.3,468.2 511.5,468.3 514.3,468.5 515.4,468.6 516.3,468.7 517.5,468.8 519.2,469 521.6,469.3 522.2,469.4 523.1,469.4 524.2,469.4 527,469.4 528.2,469.4 529.2,469.2 530.9,468.9 532.7,468.7 534.2,468.4 534.2,468.4 532.7,471.4 530.9,474.9 529.2,476.2 528.2,476.9 527,477.6 524.2,476.7 523.1,476.4 522.2,476.1 521.6,475.9 519.2,474.9 517.5,474.2 516.3,473.7 515.4,473.4 514.3,473 511.5,472 509.3,472.6 508.2,472.9 507.6,473.1 507.3,473.1 504.3,473.5 502.2,473.8 499.8,473.7 499.5,473.7 499.4,473.7 498.4,473.7 494.4,473.4 494.2,473.4 492.4,472.7 490.3,471.8 489.4,471.1 487.3,468.9 484.4,467.5 482.5,466.5 482.2,466.4 479.4,465.3 476.9,464.3 475.1,463.6" fill="#22a8ec"/>
<polygon points="601.3,470.1 602.8,470.4 603.1,470.4 603.8,470.5 608.8,470.9 611.8,471.2 613.8,471.5 614.5,471.5 618.8,472.1 623.7,472.7 627,473.1 627.3,473.1 627.9,473.2 628.7,473.3 633.7,474.1 638.7,474.8 640.1,475 643.6,475.5 643.7,475.5 648.6,476.3 652.7,476.9 653.6,477 658.5,477.8 659.5,477.9 663.5,478.4 668.5,479 668.5,484.3 663.5,483.6 659.5,483 658.5,482.8 653.6,482.1 652.7,481.9 648.6,481.3 643.7,480.6 643.6,480.6 640.1,479.8 638.7,479.5 633.7,478.5 628.7,477.4 627.9,477.3 627.3,477.1 627,477 623.7,476.2 618.8,474.9 614.5,473.8 613.8,473.6 611.8,473.1 608.8,472.3 603.8,470.9 603.1,470.8 602.8,470.7 601.3,470.1" fill="#0a0ad2"/>
<polyline points="370,468.3 375,468.9 377.2,469.1 379.9,469.4 382.5,469.7 384.9,470.3 386.1,470.6 389.9,471.6 394.9,472.9 396.3,473.3 396.9,473.4 398.4,473.2 399.9,473 401.6,472.7 404.8,472.2 406.4,471.9 408.8,471.7 409.8,471.6 414.2,471.1 414.8,471.1 417.5,470.8 417.8,470.8 419,470.6 419.8,470.4 424.3,468.8 424.7,468.7 429.7,467 434.7,465.9 434.8,465.9 439.6,464.8 440.7,464.6 441.6,464.4 442.5,464.2 444.6,463.6 447,463 449.6,462.3 454.6,461 454.8,460.9 456.3,461.1 459.6,461.5 461,461.6 464.3,462 464.5,462 464.6,462 467,462.3 469.5,462.7 473.9,463.3 474.5,463.4 476.9,464.1 479.4,464.8 482.2,465.5 482.5,465.6 484.4,466.1 489.4,467.5 490.3,467.5 492.4,467.6 494.4,467.7 498.4,467.9 499.4,468 499.5,468 499.8,468 504.3,468 507.3,468.1 508.2,468.1 509.3,468.2 511.5,468.3 514.3,468.5 516.3,468.7 517.5,468.8 519.2,469 522.2,469.4 523.1,469.4 524.2,469.4 528.2,469.4 529.2,469.2 532.7,468.7 534.2,468.4 536,467.7 539.1,466.6 540.7,466 541,465.8 544.1,465.6 545.2,465.5 546.7,465.3 547.6,465.3 548.5,465.3 549.1,465.4 552.4,465.6 554.1,465.7 554.8,465.7 559,466 560.7,466.1 561.3,466 564,465.8 564.3,465.7 569,465.3 570,465.2 572.1,465 574,464.8 576.6,464.6 577.8,464.8 579,465.1 581,465.6 583.9,466.2 584,466.2 587.6,467 588.9,467.3 593,468.2 593.9,468.4 595.7,468.8 598.9,469.5 602.8,470.4 603.1,470.4 603.8,470.5 608.8,470.9 611.8,471.2 613.8,471.5 614.5,471.5 618.8,472.1 623.7,472.7 627,473.1 627.3,473.1 627.9,473.2 628.7,473.3 633.7,474.1 638.7,474.8 640.1,475 643.6,475.5 643.7,475.5 648.6,476.3 652.7,476.9 653.6,477 658.5,477.8 659.5,477.9 663.5,478.4 668.5,479" fill="none" stroke="#8a9aa8" stroke-width="0.7" opacity="0.8"/>
<line x1="370" y1="377.2" x2="370" y2="522.7" stroke="#bbb" stroke-width="0.8"/>
<line x1="669.0" y1="380.2" x2="669.0" y2="520.7" stroke="#ccc" stroke-width="0.8"/>
<line x1="370" y1="380.2" x2="669.5" y2="380.2" stroke="#bbb" stroke-width="0.8"/>
<line x1="370" y1="520.7" x2="669.5" y2="520.7" stroke="#999" stroke-width="1.2"/>
<g font-family="Liberation Sans, sans-serif" font-size="2.8" fill="#b4b4b4"><text x="388.2" y="378.7">10</text><text x="406.4" y="378.7">20</text><text x="424.6" y="378.7">30</text><text x="442.8" y="378.7">40</text><text x="461" y="378.7">50</text><text x="479.2" y="378.7">60</text><text x="497.4" y="378.7">70</text><text x="515.6" y="378.7">80</text><text x="533.8" y="378.7">90</text><text x="552" y="378.7">100</text><text x="570.2" y="378.7">110</text><text x="588.4" y="378.7">120</text><text x="606.6" y="378.7">130</text><text x="624.8" y="378.7">140</text><text x="643" y="378.7">150</text><text x="519.2" y="375.7">km</text><text x="370" y="524.7">0</text><text x="399.3" y="524.7">250</text><text x="428.5" y="524.7">500</text><text x="457.8" y="524.7">750</text><text x="487.1" y="524.7">1000</text><text x="516.3" y="524.7">1250</text><text x="545.6" y="524.7">1500</text><text x="574.9" y="524.7">1750</text><text x="604.1" y="524.7">2000</text><text x="633.4" y="524.7">2250</text><text x="662.6" y="524.7">2500</text><text x="363" y="389.8">0</text><text x="363" y="406.2">250</text><text x="363" y="422.7">500</text><text x="363" y="439.1">750</text><text x="363" y="455.6">1000</text><text x="363" y="472.1">1250</text><text x="363" y="488.5">1500</text><text x="363" y="504.9">1750</text><text x="363" y="521.4">2000</text><text x="361.5" y="446.6" transform="rotate(-90 361.5 446.6)" font-size="3">Depth (m)</text></g>
<line x1="669.5" y1="388.8" x2="680.5" y2="388.8" stroke="#ccc" stroke-width="0.6"/><line x1="669.5" y1="395.9" x2="680.5" y2="395.9" stroke="#ccc" stroke-width="0.6"/><line x1="669.5" y1="402.6" x2="680.5" y2="402.6" stroke="#ccc" stroke-width="0.6"/><line x1="669.5" y1="409.7" x2="680.5" y2="409.7" stroke="#ccc" stroke-width="0.6"/><line x1="669.5" y1="416.9" x2="680.5" y2="416.9" stroke="#ccc" stroke-width="0.6"/><line x1="669.5" y1="426.6" x2="680.5" y2="426.6" stroke="#ccc" stroke-width="0.6"/><line x1="669.5" y1="437.8" x2="680.5" y2="437.8" stroke="#ccc" stroke-width="0.6"/><line x1="669.5" y1="455" x2="680.5" y2="455" stroke="#ccc" stroke-width="0.6"/><line x1="669.5" y1="467" x2="680.5" y2="467" stroke="#ccc" stroke-width="0.6"/><line x1="669.5" y1="479" x2="680.5" y2="479" stroke="#ccc" stroke-width="0.6"/><text x="671.5" y="396" font-size="3.4" fill="#888" font-family="Liberation Sans, sans-serif">K1 al</text><text x="671.5" y="407" font-size="3.4" fill="#888" font-family="Liberation Sans, sans-serif">K1 al</text><text x="671.5" y="415" font-size="3.4" fill="#888" font-family="Liberation Sans, sans-serif">K1 al</text><text x="671.5" y="424" font-size="3.4" fill="#888" font-family="Liberation Sans, sans-serif">K1 al</text><text x="671.5" y="435" font-size="3.4" fill="#888" font-family="Liberation Sans, sans-serif">K1 al</text><text x="671.5" y="453" font-size="3.4" fill="#888" font-family="Liberation Sans, sans-serif">K1 al</text><text x="671.5" y="465" font-size="3.4" fill="#888" font-family="Liberation Sans, sans-serif">K1 al</text><text x="671.5" y="477" font-size="3.4" fill="#888" font-family="Liberation Sans, sans-serif">K1 al</text>
<text x="669.5" y="524.2" font-size="3.5" fill="#89a" font-family="Liberation Sans, sans-serif">@Petrel</text>
<text x="382.9" y="390.29999999999995" font-size="11.6" font-family="Liberation Sans, sans-serif" fill="#000" stroke="#000" stroke-width="0.25" textLength="12.5" lengthAdjust="spacingAndGlyphs">СЗ</text>
<text x="638" y="390.2" font-size="11.6" font-family="Liberation Sans, sans-serif" fill="#000" stroke="#000" stroke-width="0.25" textLength="17.7" lengthAdjust="spacingAndGlyphs">ЮВ</text>
<rect x="695" y="46" width="323" height="160" fill="#fff"/>
<polygon points="707.5,135.7 712.5,135.9 714.7,136 717.4,136.2 720,136.3 722.4,136.4 723.6,136.4 727.4,136.6 732.4,136.8 733.7,136.9 734.3,136.9 735.8,137 737.3,136.7 739.1,136.4 742.3,135.9 743.9,135.6 746.3,135.2 747.3,135.1 751.6,134.3 752.2,134.2 754.9,133.8 755.2,133.7 756.4,133.5 757.2,133.4 761.8,132.8 762.2,132.7 767.1,132 772.1,131.3 772.2,131.3 777.1,130.7 778.2,130.5 779.1,130.5 780,130.6 782,130.6 784.4,130.7 787,130.8 792,131 792.2,131 793.7,131 797,131.1 798.5,131.2 801.7,131.3 801.9,131.3 802,131.3 804.4,131.4 806.9,131.5 811.3,131.8 811.9,131.8 814.3,131.9 816.8,132 819.6,132.2 819.9,132.2 821.8,132.3 826.8,132.6 827.7,132.6 829.8,132.7 831.8,132.8 835.7,133 836.7,133.1 836.9,133.1 837.2,133.1 841.7,133.4 844.7,133.6 845.6,133.7 846.7,133.8 848.8,133.9 851.6,134.1 853.6,134.3 854.8,134.4 856.6,134.5 859.6,134.7 860.5,134.6 861.6,134.6 865.5,134.3 866.5,134.3 870,134.1 871.5,134 873.3,133.9 876.5,133.7 878.1,133.6 878.4,133.6 881.5,133.4 882.5,133.3 884,133.2 884.9,133.2 885.8,133.1 886.4,133.1 889.7,133 891.4,133 892.1,133 896.4,132.9 898,132.8 898.6,132.8 901.3,132.8 901.6,132.8 906.3,132.7 907.3,132.6 909.4,132.6 911.3,132.6 913.9,132.5 915,132.5 916.2,132.4 918.3,132.4 921.2,132.4 921.3,132.4 924.9,132.4 926.2,132.4 930.3,132.4 931.2,132.4 932.9,132.4 936.1,132.4 940.1,132.4 940.4,132.4 941.1,132.4 946.1,132.4 949,132.4 951,132.4 951.7,132.4 956,132.4 961,132.4 964.3,132.4 964.5,132.4 965.1,132.4 965.9,132.4 970.9,132.4 975.9,132.4 977.4,132.4 980.9,132.4 980.9,132.4 985.8,132.4 989.9,132.4 990.8,132.4 995.8,132.4 996.8,132.4 1000.7,132.4 1005.7,132.4 1005.7,173.4 1000.7,172.7 996.8,172.2 995.8,172 990.8,171.2 989.9,171 985.8,170.3 980.9,169.5 980.9,169.5 977.4,168.9 975.9,168.7 970.9,167.8 965.9,167 965.1,166.9 964.5,166.8 964.3,166.8 961,166.3 956,165.6 951.7,165 951,164.9 949,164.7 946.1,164.4 941.1,163.9 940.4,163.8 940.1,163.8 936.1,162.8 932.9,162 931.2,161.5 930.3,161.3 926.2,160.3 924.9,160 921.3,159.3 921.2,159.3 918.3,158.8 916.2,158.4 915,158.2 913.9,158 911.3,158.2 909.4,158.3 907.3,158.5 906.3,158.6 901.6,158.9 901.3,159 898.6,159.2 898,159.2 896.4,159.1 892.1,158.9 891.4,158.9 889.7,158.8 886.4,158.6 885.8,158.6 884.9,158.6 884,158.6 882.5,158.7 881.5,158.8 878.4,159 878.1,159.1 876.5,159.6 873.3,160.6 871.5,161.1 870,161.3 866.5,161.7 865.5,161.8 861.6,161.8 860.5,161.8 859.6,161.8 856.6,161.6 854.8,161.4 853.6,161.3 851.6,161.2 848.8,161 846.7,160.9 845.6,160.9 844.7,160.8 841.7,160.8 837.2,160.7 836.9,160.7 836.7,160.7 835.7,160.7 831.8,160.6 829.8,160.5 827.7,160.4 826.8,160.3 821.8,159.3 819.9,158.8 819.6,158.8 816.8,158.2 814.3,157.6 811.9,157.1 811.3,157 806.9,156.5 804.4,156.2 802,156 801.9,155.9 801.7,155.9 798.5,155.6 797,155.5 793.7,155.2 792.2,155.1 792,155.1 787,156.2 784.4,156.7 782,157.3 780,157.7 779.1,157.9 778.2,158 777.1,158.2 772.2,159.1 772.1,159.1 767.1,160 762.2,161.3 761.8,161.4 757.2,162.7 756.4,162.9 755.2,163 754.9,163 752.2,163.2 751.6,163.3 747.3,163.6 746.3,163.7 743.9,163.9 742.3,164.1 739.1,164.5 737.3,164.8 735.8,164.9 734.3,165.1 733.7,165 732.4,164.7 727.4,163.7 723.6,162.9 722.4,162.6 720,162.1 717.4,161.9 714.7,161.6 712.5,161.4 707.5,161" fill="#a2f7f9"/>
<polygon points="707.5,135.7 712.5,135.9 714.7,136 717.4,136.2 720,136.3 722.4,136.4 723.6,136.4 727.4,136.6 732.4,136.8 733.7,136.9 734.3,136.9 735.8,137 737.3,136.7 739.1,136.4 742.3,135.9 743.9,135.6 746.3,135.2 747.3,135.1 751.6,134.3 752.2,134.2 754.9,133.8 755.2,133.7 756.4,133.5 757.2,133.4 761.8,132.8 762.2,132.7 767.1,132 772.1,131.3 772.2,131.3 777.1,130.7 778.2,130.5 779.1,130.5 780,130.6 782,130.6 784.4,130.7 787,130.8 792,131 792.2,131 793.7,131 797,131.1 798.5,131.2 801.7,131.3 801.9,131.3 802,131.3 804.4,131.4 806.9,131.5 811.3,131.8 811.9,131.8 814.3,131.9 816.8,132 819.6,132.2 819.9,132.2 821.8,132.3 826.8,132.6 827.7,132.6 829.8,132.7 831.8,132.8 835.7,133 836.7,133.1 836.9,133.1 837.2,133.1 841.7,133.4 844.7,133.6 845.6,133.7 846.7,133.8 848.8,133.9 851.6,134.1 853.6,134.3 854.8,134.4 856.6,134.5 859.6,134.7 860.5,134.6 861.6,134.6 865.5,134.3 866.5,134.3 870,134.1 871.5,134 873.3,133.9 876.5,133.7 878.1,133.6 878.4,133.6 881.5,133.4 882.5,133.3 884,133.2 884.9,133.2 885.8,133.1 886.4,133.1 889.7,133 891.4,133 892.1,133 896.4,132.9 898,132.8 898.6,132.8 901.3,132.8 901.6,132.8 906.3,132.7 907.3,132.6 909.4,132.6 911.3,132.6 913.9,132.5 915,132.5 916.2,132.4 918.3,132.4 921.2,132.4 921.3,132.4 924.9,132.4 926.2,132.4 930.3,132.4 931.2,132.4 932.9,132.4 936.1,132.4 940.1,132.4 940.4,132.4 941.1,132.4 946.1,132.4 949,132.4 951,132.4 951.7,132.4 956,132.4 961,132.4 964.3,132.4 964.5,132.4 965.1,132.4 965.9,132.4 970.9,132.4 975.9,132.4 977.4,132.4 980.9,132.4 980.9,132.4 985.8,132.4 989.9,132.4 990.8,132.4 995.8,132.4 996.8,132.4 1000.7,132.4 1005.7,132.4 1005.7,144.4 1000.7,144.4 996.8,144.4 995.8,144.4 990.8,144.4 989.9,144.4 985.8,144.4 980.9,144.4 980.9,144.4 977.4,144.4 975.9,144.4 970.9,144.4 965.9,144.4 965.1,144.4 964.5,144.4 964.3,144.4 961,144.4 956,144.4 951.7,144.4 951,144.4 949,144.4 946.1,144.4 941.1,144.4 940.4,144.4 940.1,144.4 936.1,144.4 932.9,144.4 931.2,144.4 930.3,144.4 926.2,144.4 924.9,144.4 921.3,144.4 921.2,144.4 918.3,144.4 916.2,144.4 915,144.5 913.9,144.5 911.3,144.6 909.4,144.6 907.3,144.6 906.3,144.7 901.6,144.8 901.3,144.8 898.6,144.8 898,144.8 896.4,144.9 892.1,145 891.4,145 889.7,145 886.4,145.1 885.8,145.1 884.9,145.2 884,145.2 882.5,145.3 881.5,145.4 878.4,145.6 878.1,145.6 876.5,145.7 873.3,145.9 871.5,146 870,146.1 866.5,146.3 865.5,146.3 861.6,146.6 860.5,146.6 859.6,146.7 856.6,146.5 854.8,146.4 853.6,146.3 851.6,146.1 848.8,145.9 846.7,145.8 845.6,145.7 844.7,145.6 841.7,145.4 837.2,145.1 836.9,145.1 836.7,145.1 835.7,145 831.8,144.8 829.8,144.7 827.7,144.6 826.8,144.6 821.8,144.3 819.9,144.2 819.6,144.2 816.8,144 814.3,143.9 811.9,143.8 811.3,143.8 806.9,143.5 804.4,143.4 802,143.3 801.9,143.3 801.7,143.3 798.5,143.2 797,143.1 793.7,143 792.2,143 792,143 787,142.8 784.4,142.7 782,142.6 780,142.6 779.1,142.5 778.2,142.5 777.1,142.7 772.2,143.3 772.1,143.3 767.1,144 762.2,144.7 761.8,144.8 757.2,145.4 756.4,145.5 755.2,145.7 754.9,145.8 752.2,146.2 751.6,146.3 747.3,147.1 746.3,147.2 743.9,147.6 742.3,147.9 739.1,148.4 737.3,148.7 735.8,149 734.3,148.9 733.7,148.9 732.4,148.8 727.4,148.6 723.6,148.4 722.4,148.4 720,148.3 717.4,148.2 714.7,148 712.5,147.9 707.5,147.7" fill="#bcfafa"/>
<polygon points="707.5,68.7 712.5,68.7 714.7,68.7 717.4,68.7 720,68.7 722.4,68.7 723.6,68.7 727.4,68.7 732.4,68.7 733.7,68.7 734.3,68.7 735.8,68.7 737.3,68.7 739.1,68.7 742.3,68.7 743.9,68.7 746.3,68.7 747.3,68.7 751.6,68.7 752.2,68.7 754.9,68.7 755.2,68.7 756.4,68.7 757.2,68.7 761.8,68.7 762.2,68.7 767.1,68.7 772.1,68.7 772.2,68.7 777.1,68.7 778.2,68.7 779.1,68.7 780,68.7 782,68.7 784.4,68.7 787,68.7 792,68.7 792.2,68.7 793.7,68.7 797,68.7 798.5,68.7 801.7,68.7 801.9,68.7 802,68.7 804.4,68.7 806.9,68.7 811.3,68.7 811.9,68.7 814.3,68.7 816.8,68.7 819.6,68.7 819.9,68.7 821.8,68.7 826.8,68.7 827.7,68.7 829.8,68.7 831.8,68.7 835.7,68.7 836.7,68.7 836.9,68.7 837.2,68.7 841.7,68.7 844.7,68.7 845.6,68.7 846.7,68.7 848.8,68.7 851.6,68.7 853.6,68.7 854.8,68.7 856.6,68.7 859.6,68.7 860.5,68.7 861.6,68.7 865.5,68.7 866.5,68.7 870,68.7 871.5,68.7 873.3,68.7 876.5,68.7 878.1,68.7 878.4,68.7 881.5,68.7 882.5,68.7 884,68.7 884.9,68.7 885.8,68.7 886.4,68.7 889.7,68.7 891.4,68.7 892.1,68.7 896.4,68.7 898,68.7 898.6,68.7 901.3,68.7 901.6,68.7 906.3,68.7 907.3,68.7 909.4,68.7 911.3,68.7 913.9,68.7 915,68.7 916.2,68.7 918.3,68.7 921.2,68.7 921.3,68.7 924.9,68.7 926.2,68.7 930.3,68.7 931.2,68.7 932.9,68.7 936.1,68.7 940.1,68.7 940.4,68.7 941.1,68.7 946.1,68.7 949,68.7 951,68.7 951.7,68.7 956,68.7 961,68.7 964.3,68.7 964.5,68.7 965.1,68.7 965.9,68.7 970.9,68.7 975.9,68.7 977.4,68.7 980.9,68.7 980.9,68.7 985.8,68.7 989.9,68.7 990.8,68.7 995.8,68.7 996.8,68.7 1000.7,68.7 1005.7,68.7 1005.7,76.7 1000.7,76.7 996.8,76.7 995.8,76.7 990.8,76.7 989.9,76.7 985.8,76.7 980.9,76.7 980.9,76.7 977.4,76.7 975.9,76.7 970.9,76.7 965.9,76.7 965.1,76.7 964.5,76.7 964.3,76.7 961,76.7 956,76.7 951.7,76.7 951,76.7 949,76.7 946.1,76.7 941.1,76.7 940.4,76.7 940.1,76.7 936.1,76.7 932.9,76.7 931.2,76.7 930.3,76.7 926.2,76.7 924.9,76.7 921.3,76.7 921.2,76.7 918.3,76.7 916.2,76.7 915,76.7 913.9,76.7 911.3,76.7 909.4,76.7 907.3,76.7 906.3,76.7 901.6,76.7 901.3,76.7 898.6,76.7 898,76.7 896.4,76.7 892.1,76.7 891.4,76.7 889.7,76.7 886.4,76.7 885.8,76.7 884.9,76.7 884,76.7 882.5,76.7 881.5,76.7 878.4,76.7 878.1,76.7 876.5,76.7 873.3,76.7 871.5,76.7 870,76.7 866.5,76.7 865.5,76.7 861.6,76.7 860.5,76.7 859.6,76.7 856.6,76.7 854.8,76.7 853.6,76.7 851.6,76.7 848.8,76.7 846.7,76.7 845.6,76.7 844.7,76.7 841.7,76.7 837.2,76.7 836.9,76.7 836.7,76.7 835.7,76.7 831.8,76.7 829.8,76.7 827.7,76.7 826.8,76.7 821.8,76.7 819.9,76.7 819.6,76.7 816.8,76.7 814.3,76.7 811.9,76.7 811.3,76.7 806.9,76.7 804.4,76.7 802,76.7 801.9,76.7 801.7,76.7 798.5,76.7 797,76.7 793.7,76.7 792.2,76.7 792,76.7 787,76.7 784.4,76.7 782,76.7 780,76.7 779.1,76.7 778.2,76.7 777.1,76.7 772.2,76.7 772.1,76.7 767.1,76.7 762.2,76.7 761.8,76.7 757.2,76.7 756.4,76.7 755.2,76.7 754.9,76.7 752.2,76.7 751.6,76.7 747.3,76.7 746.3,76.7 743.9,76.7 742.3,76.7 739.1,76.7 737.3,76.7 735.8,76.7 734.3,76.7 733.7,76.7 732.4,76.7 727.4,76.7 723.6,76.7 722.4,76.7 720,76.7 717.4,76.7 714.7,76.7 712.5,76.7 707.5,76.7" fill="#cbf8c3"/>
<polygon points="707.5,75.5 712.5,75.5 714.7,75.5 717.4,75.5 720,75.5 722.4,75.5 723.6,75.5 727.4,75.5 732.4,75.5 733.7,75.5 734.3,75.5 735.8,75.5 737.3,75.5 739.1,75.5 742.3,75.5 743.9,75.5 746.3,75.5 747.3,75.5 751.6,75.5 752.2,75.5 754.9,75.5 755.2,75.5 756.4,75.5 757.2,75.5 761.8,75.5 762.2,75.5 767.1,75.5 772.1,75.5 772.2,75.5 777.1,75.5 778.2,75.5 779.1,75.5 780,75.5 782,75.5 784.4,75.5 787,75.5 792,75.5 792.2,75.5 793.7,75.5 797,75.5 798.5,75.5 801.7,75.5 801.9,75.5 802,75.5 804.4,75.5 806.9,75.5 811.3,75.5 811.9,75.5 814.3,75.5 816.8,75.5 819.6,75.5 819.9,75.5 821.8,75.5 826.8,75.5 827.7,75.5 829.8,75.5 831.8,75.5 835.7,75.5 836.7,75.5 836.9,75.5 837.2,75.5 841.7,75.5 844.7,75.5 845.6,75.5 846.7,75.5 848.8,75.5 851.6,75.5 853.6,75.5 854.8,75.5 856.6,75.5 859.6,75.5 860.5,75.5 861.6,75.5 865.5,75.5 866.5,75.5 870,75.5 871.5,75.5 873.3,75.5 876.5,75.5 878.1,75.5 878.4,75.5 881.5,75.5 882.5,75.5 884,75.5 884.9,75.5 885.8,75.5 886.4,75.5 889.7,75.5 891.4,75.5 892.1,75.5 896.4,75.5 898,75.5 898.6,75.5 901.3,75.5 901.6,75.5 906.3,75.5 907.3,75.5 909.4,75.5 911.3,75.5 913.9,75.5 915,75.5 916.2,75.5 918.3,75.5 921.2,75.5 921.3,75.5 924.9,75.5 926.2,75.5 930.3,75.5 931.2,75.5 932.9,75.5 936.1,75.5 940.1,75.5 940.4,75.5 941.1,75.5 946.1,75.5 949,75.5 951,75.5 951.7,75.5 956,75.5 961,75.5 964.3,75.5 964.5,75.5 965.1,75.5 965.9,75.5 970.9,75.5 975.9,75.5 977.4,75.5 980.9,75.5 980.9,75.5 985.8,75.5 989.9,75.5 990.8,75.5 995.8,75.5 996.8,75.5 1000.7,75.5 1005.7,75.5 1005.7,83 1000.7,83 996.8,83 995.8,83 990.8,83 989.9,83 985.8,83 980.9,83 980.9,83 977.4,83 975.9,83 970.9,83 965.9,83 965.1,83 964.5,83 964.3,83 961,83 956,83 951.7,83 951,83 949,83 946.1,83 941.1,83 940.4,83 940.1,83 936.1,83 932.9,83 931.2,83 930.3,83 926.2,83 924.9,83 921.3,83 921.2,83 918.3,83 916.2,83 915,83 913.9,83 911.3,83 909.4,83 907.3,83 906.3,83 901.6,83 901.3,83 898.6,83 898,83 896.4,83 892.1,83 891.4,83 889.7,83 886.4,83 885.8,83 884.9,83 884,83 882.5,83 881.5,83 878.4,83 878.1,83 876.5,83 873.3,83 871.5,83 870,83 866.5,83 865.5,83 861.6,83 860.5,83 859.6,83 856.6,83 854.8,83 853.6,83 851.6,83 848.8,83 846.7,83 845.6,83 844.7,83 841.7,83 837.2,83 836.9,83 836.7,83 835.7,83 831.8,83 829.8,83 827.7,83 826.8,83 821.8,83 819.9,83 819.6,83 816.8,83 814.3,83 811.9,83 811.3,83 806.9,83 804.4,83 802,83 801.9,83 801.7,83 798.5,83 797,83 793.7,83 792.2,83 792,83 787,83 784.4,83 782,83 780,83 779.1,83 778.2,83 777.1,83 772.2,83 772.1,83 767.1,83 762.2,83 761.8,83 757.2,83 756.4,83 755.2,83 754.9,83 752.2,83 751.6,83 747.3,83 746.3,83 743.9,83 742.3,83 739.1,83 737.3,83 735.8,83 734.3,83 733.7,83 732.4,83 727.4,83 723.6,83 722.4,83 720,83 717.4,83 714.7,83 712.5,83 707.5,83" fill="#b6f6ac"/>
<polygon points="707.5,81.8 712.5,81.8 714.7,81.8 717.4,81.8 720,81.8 722.4,81.8 723.6,81.8 727.4,81.8 732.4,81.8 733.7,81.8 734.3,81.8 735.8,81.8 737.3,81.8 739.1,81.8 742.3,81.8 743.9,81.8 746.3,81.8 747.3,81.8 751.6,81.8 752.2,81.8 754.9,81.8 755.2,81.8 756.4,81.8 757.2,81.8 761.8,81.8 762.2,81.8 767.1,81.8 772.1,81.8 772.2,81.8 777.1,81.8 778.2,81.8 779.1,81.8 780,81.8 782,81.8 784.4,81.8 787,81.8 792,81.8 792.2,81.8 793.7,81.8 797,81.8 798.5,81.8 801.7,81.8 801.9,81.8 802,81.8 804.4,81.8 806.9,81.8 811.3,81.8 811.9,81.8 814.3,81.8 816.8,81.8 819.6,81.8 819.9,81.8 821.8,81.8 826.8,81.8 827.7,81.8 829.8,81.8 831.8,81.8 835.7,81.8 836.7,81.8 836.9,81.8 837.2,81.8 841.7,81.8 844.7,81.8 845.6,81.8 846.7,81.8 848.8,81.8 851.6,81.8 853.6,81.8 854.8,81.8 856.6,81.8 859.6,81.8 860.5,81.8 861.6,81.8 865.5,81.8 866.5,81.8 870,81.8 871.5,81.8 873.3,81.8 876.5,81.8 878.1,81.8 878.4,81.8 881.5,81.8 882.5,81.8 884,81.8 884.9,81.8 885.8,81.8 886.4,81.8 889.7,81.8 891.4,81.8 892.1,81.8 896.4,81.8 898,81.8 898.6,81.8 901.3,81.8 901.6,81.8 906.3,81.8 907.3,81.8 909.4,81.8 911.3,81.8 913.9,81.8 915,81.8 916.2,81.8 918.3,81.8 921.2,81.8 921.3,81.8 924.9,81.8 926.2,81.8 930.3,81.8 931.2,81.8 932.9,81.8 936.1,81.8 940.1,81.8 940.4,81.8 941.1,81.8 946.1,81.8 949,81.8 951,81.8 951.7,81.8 956,81.8 961,81.8 964.3,81.8 964.5,81.8 965.1,81.8 965.9,81.8 970.9,81.8 975.9,81.8 977.4,81.8 980.9,81.8 980.9,81.8 985.8,81.8 989.9,81.8 990.8,81.8 995.8,81.8 996.8,81.8 1000.7,81.8 1005.7,81.8 1005.7,96.4 1000.7,96.4 996.8,96.4 995.8,96.4 990.8,96.4 989.9,96.4 985.8,96.4 980.9,96.4 980.9,96.4 977.4,96.4 975.9,96.4 970.9,96.4 965.9,96.4 965.1,96.4 964.5,96.4 964.3,96.4 961,96.4 956,96.4 951.7,96.4 951,96.4 949,96.4 946.1,96.4 941.1,96.4 940.4,96.4 940.1,96.4 936.1,96.4 932.9,96.4 931.2,96.4 930.3,96.4 926.2,96.4 924.9,96.4 921.3,96.4 921.2,96.4 918.3,96.4 916.2,96.4 915,96.4 913.9,96.4 911.3,96.5 909.4,96.5 907.3,96.5 906.3,96.5 901.6,96.5 901.3,96.5 898.6,96.5 898,96.5 896.4,96.6 892.1,96.6 891.4,96.6 889.7,96.6 886.4,96.6 885.8,96.6 884.9,96.6 884,96.7 882.5,96.7 881.5,96.7 878.4,96.8 878.1,96.8 876.5,96.8 873.3,96.8 871.5,96.9 870,96.9 866.5,97 865.5,97 861.6,97.1 860.5,97.1 859.6,97.1 856.6,97 854.8,97 853.6,97 851.6,96.9 848.8,96.9 846.7,96.8 845.6,96.8 844.7,96.8 841.7,96.7 837.2,96.6 836.9,96.6 836.7,96.6 835.7,96.6 831.8,96.5 829.8,96.5 827.7,96.5 826.8,96.5 821.8,96.4 819.9,96.4 819.6,96.3 816.8,96.3 814.3,96.3 811.9,96.2 811.3,96.2 806.9,96.1 804.4,96.1 802,96.1 801.9,96.1 801.7,96.1 798.5,96 797,96 793.7,96 792.2,96 792,96 787,95.9 784.4,95.9 782,95.9 780,95.9 779.1,95.8 778.2,95.8 777.1,95.9 772.2,96.1 772.1,96.1 767.1,96.3 762.2,96.5 761.8,96.5 757.2,96.7 756.4,96.8 755.2,96.8 754.9,96.8 752.2,97 751.6,97 747.3,97.2 746.3,97.3 743.9,97.4 742.3,97.5 739.1,97.6 737.3,97.7 735.8,97.8 734.3,97.8 733.7,97.8 732.4,97.7 727.4,97.7 723.6,97.6 722.4,97.6 720,97.6 717.4,97.5 714.7,97.5 712.5,97.5 707.5,97.4" fill="#84f87b"/>
<polygon points="707.5,96.2 712.5,96.3 714.7,96.3 717.4,96.3 720,96.4 722.4,96.4 723.6,96.4 727.4,96.5 732.4,96.5 733.7,96.6 734.3,96.6 735.8,96.6 737.3,96.5 739.1,96.4 742.3,96.3 743.9,96.2 746.3,96.1 747.3,96 751.6,95.8 752.2,95.8 754.9,95.6 755.2,95.6 756.4,95.6 757.2,95.5 761.8,95.3 762.2,95.3 767.1,95.1 772.1,94.9 772.2,94.9 777.1,94.7 778.2,94.6 779.1,94.6 780,94.7 782,94.7 784.4,94.7 787,94.7 792,94.8 792.2,94.8 793.7,94.8 797,94.8 798.5,94.8 801.7,94.9 801.9,94.9 802,94.9 804.4,94.9 806.9,94.9 811.3,95 811.9,95 814.3,95.1 816.8,95.1 819.6,95.1 819.9,95.2 821.8,95.2 826.8,95.3 827.7,95.3 829.8,95.3 831.8,95.3 835.7,95.4 836.7,95.4 836.9,95.4 837.2,95.4 841.7,95.5 844.7,95.6 845.6,95.6 846.7,95.6 848.8,95.7 851.6,95.7 853.6,95.8 854.8,95.8 856.6,95.8 859.6,95.9 860.5,95.9 861.6,95.9 865.5,95.8 866.5,95.8 870,95.7 871.5,95.7 873.3,95.6 876.5,95.6 878.1,95.6 878.4,95.6 881.5,95.5 882.5,95.5 884,95.5 884.9,95.4 885.8,95.4 886.4,95.4 889.7,95.4 891.4,95.4 892.1,95.4 896.4,95.4 898,95.3 898.6,95.3 901.3,95.3 901.6,95.3 906.3,95.3 907.3,95.3 909.4,95.3 911.3,95.3 913.9,95.2 915,95.2 916.2,95.2 918.3,95.2 921.2,95.2 921.3,95.2 924.9,95.2 926.2,95.2 930.3,95.2 931.2,95.2 932.9,95.2 936.1,95.2 940.1,95.2 940.4,95.2 941.1,95.2 946.1,95.2 949,95.2 951,95.2 951.7,95.2 956,95.2 961,95.2 964.3,95.2 964.5,95.2 965.1,95.2 965.9,95.2 970.9,95.2 975.9,95.2 977.4,95.2 980.9,95.2 980.9,95.2 985.8,95.2 989.9,95.2 990.8,95.2 995.8,95.2 996.8,95.2 1000.7,95.2 1005.7,95.2 1005.7,104.5 1000.7,104.5 996.8,104.5 995.8,104.5 990.8,104.5 989.9,104.5 985.8,104.5 980.9,104.5 980.9,104.5 977.4,104.5 975.9,104.5 970.9,104.5 965.9,104.5 965.1,104.5 964.5,104.5 964.3,104.5 961,104.5 956,104.5 951.7,104.5 951,104.5 949,104.5 946.1,104.5 941.1,104.5 940.4,104.5 940.1,104.5 936.1,104.5 932.9,104.5 931.2,104.5 930.3,104.5 926.2,104.5 924.9,104.5 921.3,104.5 921.2,104.5 918.3,104.5 916.2,104.5 915,104.5 913.9,104.5 911.3,104.5 909.4,104.6 907.3,104.6 906.3,104.6 901.6,104.6 901.3,104.6 898.6,104.6 898,104.7 896.4,104.7 892.1,104.7 891.4,104.7 889.7,104.7 886.4,104.8 885.8,104.8 884.9,104.8 884,104.8 882.5,104.8 881.5,104.9 878.4,104.9 878.1,104.9 876.5,105 873.3,105.1 871.5,105.1 870,105.1 866.5,105.2 865.5,105.3 861.6,105.4 860.5,105.4 859.6,105.4 856.6,105.3 854.8,105.3 853.6,105.2 851.6,105.2 848.8,105.1 846.7,105 845.6,105 844.7,105 841.7,104.9 837.2,104.8 836.9,104.8 836.7,104.8 835.7,104.7 831.8,104.7 829.8,104.6 827.7,104.6 826.8,104.5 821.8,104.4 819.9,104.4 819.6,104.4 816.8,104.3 814.3,104.3 811.9,104.2 811.3,104.2 806.9,104.1 804.4,104.1 802,104 801.9,104 801.7,104 798.5,104 797,104 793.7,103.9 792.2,103.9 792,103.9 787,103.8 784.4,103.8 782,103.8 780,103.7 779.1,103.7 778.2,103.7 777.1,103.8 772.2,104.1 772.1,104.1 767.1,104.3 762.2,104.6 761.8,104.6 757.2,104.9 756.4,104.9 755.2,105 754.9,105 752.2,105.2 751.6,105.2 747.3,105.5 746.3,105.6 743.9,105.8 742.3,105.9 739.1,106.1 737.3,106.2 735.8,106.3 734.3,106.3 733.7,106.3 732.4,106.3 727.4,106.2 723.6,106.1 722.4,106.1 720,106 717.4,106 714.7,105.9 712.5,105.9 707.5,105.8" fill="#5ae60e"/>
<polygon points="707.5,104.6 712.5,104.7 714.7,104.7 717.4,104.8 720,104.8 722.4,104.9 723.6,104.9 727.4,105 732.4,105.1 733.7,105.1 734.3,105.1 735.8,105.1 737.3,105 739.1,104.9 742.3,104.7 743.9,104.6 746.3,104.4 747.3,104.3 751.6,104 752.2,104 754.9,103.8 755.2,103.8 756.4,103.7 757.2,103.7 761.8,103.4 762.2,103.4 767.1,103.1 772.1,102.9 772.2,102.9 777.1,102.6 778.2,102.5 779.1,102.5 780,102.5 782,102.6 784.4,102.6 787,102.6 792,102.7 792.2,102.7 793.7,102.7 797,102.8 798.5,102.8 801.7,102.8 801.9,102.8 802,102.8 804.4,102.9 806.9,102.9 811.3,103 811.9,103 814.3,103.1 816.8,103.1 819.6,103.2 819.9,103.2 821.8,103.2 826.8,103.3 827.7,103.4 829.8,103.4 831.8,103.5 835.7,103.5 836.7,103.6 836.9,103.6 837.2,103.6 841.7,103.7 844.7,103.8 845.6,103.8 846.7,103.8 848.8,103.9 851.6,104 853.6,104 854.8,104.1 856.6,104.1 859.6,104.2 860.5,104.2 861.6,104.2 865.5,104.1 866.5,104 870,103.9 871.5,103.9 873.3,103.9 876.5,103.8 878.1,103.7 878.4,103.7 881.5,103.7 882.5,103.6 884,103.6 884.9,103.6 885.8,103.6 886.4,103.6 889.7,103.5 891.4,103.5 892.1,103.5 896.4,103.5 898,103.5 898.6,103.4 901.3,103.4 901.6,103.4 906.3,103.4 907.3,103.4 909.4,103.4 911.3,103.3 913.9,103.3 915,103.3 916.2,103.3 918.3,103.3 921.2,103.3 921.3,103.3 924.9,103.3 926.2,103.3 930.3,103.3 931.2,103.3 932.9,103.3 936.1,103.3 940.1,103.3 940.4,103.3 941.1,103.3 946.1,103.3 949,103.3 951,103.3 951.7,103.3 956,103.3 961,103.3 964.3,103.3 964.5,103.3 965.1,103.3 965.9,103.3 970.9,103.3 975.9,103.3 977.4,103.3 980.9,103.3 980.9,103.3 985.8,103.3 989.9,103.3 990.8,103.3 995.8,103.3 996.8,103.3 1000.7,103.3 1005.7,103.3 1005.7,112.9 1000.7,112.9 996.8,112.9 995.8,112.9 990.8,112.9 989.9,112.9 985.8,112.9 980.9,112.9 980.9,112.9 977.4,112.9 975.9,112.9 970.9,112.9 965.9,112.9 965.1,112.9 964.5,112.9 964.3,112.9 961,112.9 956,112.9 951.7,112.9 951,112.9 949,112.9 946.1,112.9 941.1,112.9 940.4,112.9 940.1,112.9 936.1,112.9 932.9,112.9 931.2,112.9 930.3,112.9 926.2,112.9 924.9,112.9 921.3,112.9 921.2,112.9 918.3,112.9 916.2,112.9 915,112.9 913.9,112.9 911.3,113 909.4,113 907.3,113 906.3,113 901.6,113 901.3,113 898.6,113 898,113 896.4,113.1 892.1,113.1 891.4,113.1 889.7,113.1 886.4,113.1 885.8,113.1 884.9,113.1 884,113.2 882.5,113.2 881.5,113.2 878.4,113.3 878.1,113.3 876.5,113.3 873.3,113.3 871.5,113.4 870,113.4 866.5,113.5 865.5,113.5 861.6,113.6 860.5,113.6 859.6,113.6 856.6,113.5 854.8,113.5 853.6,113.5 851.6,113.4 848.8,113.4 846.7,113.3 845.6,113.3 844.7,113.3 841.7,113.2 837.2,113.1 836.9,113.1 836.7,113.1 835.7,113.1 831.8,113 829.8,113 827.7,113 826.8,113 821.8,112.9 819.9,112.9 819.6,112.8 816.8,112.8 814.3,112.8 811.9,112.7 811.3,112.7 806.9,112.6 804.4,112.6 802,112.6 801.9,112.6 801.7,112.6 798.5,112.5 797,112.5 793.7,112.5 792.2,112.5 792,112.5 787,112.4 784.4,112.4 782,112.4 780,112.4 779.1,112.3 778.2,112.3 777.1,112.4 772.2,112.6 772.1,112.6 767.1,112.8 762.2,113 761.8,113 757.2,113.2 756.4,113.3 755.2,113.3 754.9,113.3 752.2,113.5 751.6,113.5 747.3,113.7 746.3,113.8 743.9,113.9 742.3,114 739.1,114.1 737.3,114.2 735.8,114.3 734.3,114.3 733.7,114.3 732.4,114.2 727.4,114.2 723.6,114.1 722.4,114.1 720,114.1 717.4,114 714.7,114 712.5,114 707.5,113.9" fill="#0dcb43"/>
<polygon points="707.5,112.7 712.5,112.8 714.7,112.8 717.4,112.8 720,112.9 722.4,112.9 723.6,112.9 727.4,113 732.4,113 733.7,113.1 734.3,113.1 735.8,113.1 737.3,113 739.1,112.9 742.3,112.8 743.9,112.7 746.3,112.6 747.3,112.5 751.6,112.3 752.2,112.3 754.9,112.1 755.2,112.1 756.4,112.1 757.2,112 761.8,111.8 762.2,111.8 767.1,111.6 772.1,111.4 772.2,111.4 777.1,111.2 778.2,111.1 779.1,111.1 780,111.2 782,111.2 784.4,111.2 787,111.2 792,111.3 792.2,111.3 793.7,111.3 797,111.3 798.5,111.3 801.7,111.4 801.9,111.4 802,111.4 804.4,111.4 806.9,111.4 811.3,111.5 811.9,111.5 814.3,111.6 816.8,111.6 819.6,111.6 819.9,111.7 821.8,111.7 826.8,111.8 827.7,111.8 829.8,111.8 831.8,111.8 835.7,111.9 836.7,111.9 836.9,111.9 837.2,111.9 841.7,112 844.7,112.1 845.6,112.1 846.7,112.1 848.8,112.2 851.6,112.2 853.6,112.3 854.8,112.3 856.6,112.3 859.6,112.4 860.5,112.4 861.6,112.4 865.5,112.3 866.5,112.3 870,112.2 871.5,112.2 873.3,112.1 876.5,112.1 878.1,112.1 878.4,112.1 881.5,112 882.5,112 884,112 884.9,111.9 885.8,111.9 886.4,111.9 889.7,111.9 891.4,111.9 892.1,111.9 896.4,111.9 898,111.8 898.6,111.8 901.3,111.8 901.6,111.8 906.3,111.8 907.3,111.8 909.4,111.8 911.3,111.8 913.9,111.7 915,111.7 916.2,111.7 918.3,111.7 921.2,111.7 921.3,111.7 924.9,111.7 926.2,111.7 930.3,111.7 931.2,111.7 932.9,111.7 936.1,111.7 940.1,111.7 940.4,111.7 941.1,111.7 946.1,111.7 949,111.7 951,111.7 951.7,111.7 956,111.7 961,111.7 964.3,111.7 964.5,111.7 965.1,111.7 965.9,111.7 970.9,111.7 975.9,111.7 977.4,111.7 980.9,111.7 980.9,111.7 985.8,111.7 989.9,111.7 990.8,111.7 995.8,111.7 996.8,111.7 1000.7,111.7 1005.7,111.7 1005.7,123.1 1000.7,123.1 996.8,123.1 995.8,123.1 990.8,123.1 989.9,123.1 985.8,123.1 980.9,123.1 980.9,123.1 977.4,123.1 975.9,123.1 970.9,123.1 965.9,123.1 965.1,123.1 964.5,123.1 964.3,123.1 961,123.1 956,123.1 951.7,123.1 951,123.1 949,123.1 946.1,123.1 941.1,123.1 940.4,123.1 940.1,123.1 936.1,123.1 932.9,123.1 931.2,123.1 930.3,123.1 926.2,123.1 924.9,123.1 921.3,123.1 921.2,123.1 918.3,123.1 916.2,123.1 915,123.1 913.9,123.1 911.3,123.1 909.4,123.2 907.3,123.2 906.3,123.2 901.6,123.2 901.3,123.2 898.6,123.2 898,123.3 896.4,123.3 892.1,123.3 891.4,123.3 889.7,123.3 886.4,123.4 885.8,123.4 884.9,123.4 884,123.4 882.5,123.4 881.5,123.5 878.4,123.5 878.1,123.5 876.5,123.6 873.3,123.7 871.5,123.7 870,123.7 866.5,123.8 865.5,123.9 861.6,124 860.5,124 859.6,124 856.6,123.9 854.8,123.9 853.6,123.8 851.6,123.8 848.8,123.7 846.7,123.6 845.6,123.6 844.7,123.6 841.7,123.5 837.2,123.4 836.9,123.4 836.7,123.4 835.7,123.3 831.8,123.3 829.8,123.2 827.7,123.2 826.8,123.1 821.8,123 819.9,123 819.6,123 816.8,122.9 814.3,122.9 811.9,122.8 811.3,122.8 806.9,122.7 804.4,122.7 802,122.6 801.9,122.6 801.7,122.6 798.5,122.6 797,122.6 793.7,122.5 792.2,122.5 792,122.5 787,122.4 784.4,122.4 782,122.4 780,122.3 779.1,122.3 778.2,122.3 777.1,122.4 772.2,122.7 772.1,122.7 767.1,122.9 762.2,123.2 761.8,123.2 757.2,123.5 756.4,123.5 755.2,123.6 754.9,123.6 752.2,123.8 751.6,123.8 747.3,124.1 746.3,124.2 743.9,124.4 742.3,124.5 739.1,124.7 737.3,124.8 735.8,124.9 734.3,124.9 733.7,124.9 732.4,124.9 727.4,124.8 723.6,124.7 722.4,124.7 720,124.6 717.4,124.6 714.7,124.5 712.5,124.5 707.5,124.4" fill="#12ac12"/>
<polygon points="707.5,123.2 712.5,123.3 714.7,123.3 717.4,123.4 720,123.4 722.4,123.5 723.6,123.5 727.4,123.6 732.4,123.7 733.7,123.7 734.3,123.7 735.8,123.7 737.3,123.6 739.1,123.5 742.3,123.3 743.9,123.2 746.3,123 747.3,122.9 751.6,122.6 752.2,122.6 754.9,122.4 755.2,122.4 756.4,122.3 757.2,122.3 761.8,122 762.2,122 767.1,121.7 772.1,121.5 772.2,121.5 777.1,121.2 778.2,121.1 779.1,121.1 780,121.1 782,121.2 784.4,121.2 787,121.2 792,121.3 792.2,121.3 793.7,121.3 797,121.4 798.5,121.4 801.7,121.4 801.9,121.4 802,121.4 804.4,121.5 806.9,121.5 811.3,121.6 811.9,121.6 814.3,121.7 816.8,121.7 819.6,121.8 819.9,121.8 821.8,121.8 826.8,121.9 827.7,122 829.8,122 831.8,122.1 835.7,122.1 836.7,122.2 836.9,122.2 837.2,122.2 841.7,122.3 844.7,122.4 845.6,122.4 846.7,122.4 848.8,122.5 851.6,122.6 853.6,122.6 854.8,122.7 856.6,122.7 859.6,122.8 860.5,122.8 861.6,122.8 865.5,122.7 866.5,122.6 870,122.5 871.5,122.5 873.3,122.5 876.5,122.4 878.1,122.3 878.4,122.3 881.5,122.3 882.5,122.2 884,122.2 884.9,122.2 885.8,122.2 886.4,122.2 889.7,122.1 891.4,122.1 892.1,122.1 896.4,122.1 898,122.1 898.6,122 901.3,122 901.6,122 906.3,122 907.3,122 909.4,122 911.3,121.9 913.9,121.9 915,121.9 916.2,121.9 918.3,121.9 921.2,121.9 921.3,121.9 924.9,121.9 926.2,121.9 930.3,121.9 931.2,121.9 932.9,121.9 936.1,121.9 940.1,121.9 940.4,121.9 941.1,121.9 946.1,121.9 949,121.9 951,121.9 951.7,121.9 956,121.9 961,121.9 964.3,121.9 964.5,121.9 965.1,121.9 965.9,121.9 970.9,121.9 975.9,121.9 977.4,121.9 980.9,121.9 980.9,121.9 985.8,121.9 989.9,121.9 990.8,121.9 995.8,121.9 996.8,121.9 1000.7,121.9 1005.7,121.9 1005.7,132.4 1000.7,132.4 996.8,132.4 995.8,132.4 990.8,132.4 989.9,132.4 985.8,132.4 980.9,132.4 980.9,132.4 977.4,132.4 975.9,132.4 970.9,132.4 965.9,132.4 965.1,132.4 964.5,132.4 964.3,132.4 961,132.4 956,132.4 951.7,132.4 951,132.4 949,132.4 946.1,132.4 941.1,132.4 940.4,132.4 940.1,132.4 936.1,132.4 932.9,132.4 931.2,132.4 930.3,132.4 926.2,132.4 924.9,132.4 921.3,132.4 921.2,132.4 918.3,132.4 916.2,132.4 915,132.5 913.9,132.5 911.3,132.6 909.4,132.6 907.3,132.6 906.3,132.7 901.6,132.8 901.3,132.8 898.6,132.8 898,132.8 896.4,132.9 892.1,133 891.4,133 889.7,133 886.4,133.1 885.8,133.1 884.9,133.2 884,133.2 882.5,133.3 881.5,133.4 878.4,133.6 878.1,133.6 876.5,133.7 873.3,133.9 871.5,134 870,134.1 866.5,134.3 865.5,134.3 861.6,134.6 860.5,134.6 859.6,134.7 856.6,134.5 854.8,134.4 853.6,134.3 851.6,134.1 848.8,133.9 846.7,133.8 845.6,133.7 844.7,133.6 841.7,133.4 837.2,133.1 836.9,133.1 836.7,133.1 835.7,133 831.8,132.8 829.8,132.7 827.7,132.6 826.8,132.6 821.8,132.3 819.9,132.2 819.6,132.2 816.8,132 814.3,131.9 811.9,131.8 811.3,131.8 806.9,131.5 804.4,131.4 802,131.3 801.9,131.3 801.7,131.3 798.5,131.2 797,131.1 793.7,131 792.2,131 792,131 787,130.8 784.4,130.7 782,130.6 780,130.6 779.1,130.5 778.2,130.5 777.1,130.7 772.2,131.3 772.1,131.3 767.1,132 762.2,132.7 761.8,132.8 757.2,133.4 756.4,133.5 755.2,133.7 754.9,133.8 752.2,134.2 751.6,134.3 747.3,135.1 746.3,135.2 743.9,135.6 742.3,135.9 739.1,136.4 737.3,136.7 735.8,137 734.3,136.9 733.7,136.9 732.4,136.8 727.4,136.6 723.6,136.4 722.4,136.4 720,136.3 717.4,136.2 714.7,136 712.5,135.9 707.5,135.7" fill="#199b11"/>
<polygon points="812.5,157.2 814.3,157.6 816.8,158.2 819.6,158.8 819.9,158.8 821.8,159.3 824.7,159.9 826.8,160.3 827.7,160.4 829.8,160.5 831.6,160.5 831.8,160.6 835.7,160.7 836.7,160.7 836.9,160.7 837.2,160.7 839.6,160.8 841.7,160.8 844.7,160.8 845,160.8 845.6,160.9 846.7,160.9 848.8,161 851.6,161.2 852.7,161.2 853.6,161.3 854.8,161.4 856.6,161.6 859,161.8 859.6,161.8 860.5,161.8 861.6,161.8 864.4,161.8 865.5,161.8 866.5,161.7 868.2,161.5 870,161.3 871.5,161.1 871.5,161.1 870,164 868.2,167.5 866.5,168.7 865.5,169.4 864.4,170 861.6,169.2 860.5,168.9 859.6,168.6 859,168.4 856.6,167.5 854.8,166.8 853.6,166.3 852.7,166 851.6,165.7 848.8,164.7 846.7,165.3 845.6,165.7 845,165.8 844.7,165.9 841.7,166.3 839.6,166.6 837.2,166.5 836.9,166.5 836.7,166.5 835.7,166.5 831.8,166.3 831.6,166.2 829.8,165.5 827.7,164.7 826.8,164 824.7,161.9 821.8,160.6 819.9,159.7 819.6,159.6 816.8,158.7 814.3,157.8 812.5,157.2" fill="#22a8ec"/>
<polygon points="938.6,163.4 940.1,163.8 940.4,163.8 941.1,163.9 946.1,164.4 949,164.7 951,164.9 951.7,165 956,165.6 961,166.3 964.3,166.8 964.5,166.8 965.1,166.9 965.9,167 970.9,167.8 975.9,168.7 977.4,168.9 980.9,169.5 980.9,169.5 985.8,170.3 989.9,171 990.8,171.2 995.8,172 996.8,172.2 1000.7,172.7 1005.7,173.4 1005.7,178.2 1000.7,177.4 996.8,176.8 995.8,176.6 990.8,175.8 989.9,175.6 985.8,174.9 980.9,174.1 980.9,174.1 977.4,173.3 975.9,173 970.9,171.9 965.9,170.8 965.1,170.6 964.5,170.5 964.3,170.4 961,169.5 956,168.2 951.7,167.1 951,166.9 949,166.4 946.1,165.6 941.1,164.3 940.4,164.1 940.1,164 938.6,163.4" fill="#0a0ad2"/>
<polyline points="707.5,161 712.5,161.4 714.7,161.6 717.4,161.9 720,162.1 722.4,162.6 723.6,162.9 727.4,163.7 732.4,164.7 733.7,165 734.3,165.1 735.8,164.9 737.3,164.8 739.1,164.5 742.3,164.1 743.9,163.9 746.3,163.7 747.3,163.6 751.6,163.3 752.2,163.2 754.9,163 755.2,163 756.4,162.9 757.2,162.7 761.8,161.4 762.2,161.3 767.1,160 772.1,159.1 772.2,159.1 777.1,158.2 778.2,158 779.1,157.9 780,157.7 782,157.3 784.4,156.7 787,156.2 792,155.1 792.2,155.1 793.7,155.2 797,155.5 798.5,155.6 801.7,155.9 801.9,155.9 802,156 804.4,156.2 806.9,156.5 811.3,157 811.9,157.1 814.3,157.6 816.8,158.2 819.6,158.8 819.9,158.8 821.8,159.3 826.8,160.3 827.7,160.4 829.8,160.5 831.8,160.6 835.7,160.7 836.7,160.7 836.9,160.7 837.2,160.7 841.7,160.8 844.7,160.8 845.6,160.9 846.7,160.9 848.8,161 851.6,161.2 853.6,161.3 854.8,161.4 856.6,161.6 859.6,161.8 860.5,161.8 861.6,161.8 865.5,161.8 866.5,161.7 870,161.3 871.5,161.1 873.3,160.6 876.5,159.6 878.1,159.1 878.4,159 881.5,158.8 882.5,158.7 884,158.6 884.9,158.6 885.8,158.6 886.4,158.6 889.7,158.8 891.4,158.9 892.1,158.9 896.4,159.1 898,159.2 898.6,159.2 901.3,159 901.6,158.9 906.3,158.6 907.3,158.5 909.4,158.3 911.3,158.2 913.9,158 915,158.2 916.2,158.4 918.3,158.8 921.2,159.3 921.3,159.3 924.9,160 926.2,160.3 930.3,161.3 931.2,161.5 932.9,162 936.1,162.8 940.1,163.8 940.4,163.8 941.1,163.9 946.1,164.4 949,164.7 951,164.9 951.7,165 956,165.6 961,166.3 964.3,166.8 964.5,166.8 965.1,166.9 965.9,167 970.9,167.8 975.9,168.7 977.4,168.9 980.9,169.5 980.9,169.5 985.8,170.3 989.9,171 990.8,171.2 995.8,172 996.8,172.2 1000.7,172.7 1005.7,173.4" fill="none" stroke="#8a9aa8" stroke-width="0.7" opacity="0.8"/>
<line x1="707.5" y1="56.9" x2="707.5" y2="202.9" stroke="#bbb" stroke-width="0.8"/>
<line x1="1006.2" y1="59.9" x2="1006.2" y2="200.9" stroke="#ccc" stroke-width="0.8"/>
<line x1="707.5" y1="59.9" x2="1006.7" y2="59.9" stroke="#bbb" stroke-width="0.8"/>
<line x1="707.5" y1="200.9" x2="1006.7" y2="200.9" stroke="#999" stroke-width="1.2"/>
<g font-family="Liberation Sans, sans-serif" font-size="2.8" fill="#b4b4b4"><text x="725.7" y="58.4">10</text><text x="743.9" y="58.4">20</text><text x="762" y="58.4">30</text><text x="780.2" y="58.4">40</text><text x="798.4" y="58.4">50</text><text x="816.6" y="58.4">60</text><text x="834.8" y="58.4">70</text><text x="853" y="58.4">80</text><text x="871.1" y="58.4">90</text><text x="889.3" y="58.4">100</text><text x="907.5" y="58.4">110</text><text x="925.7" y="58.4">120</text><text x="943.9" y="58.4">130</text><text x="962.1" y="58.4">140</text><text x="980.2" y="58.4">150</text><text x="856.6" y="55.4">km</text><text x="707.5" y="204.9">0</text><text x="736.7" y="204.9">250</text><text x="766" y="204.9">500</text><text x="795.2" y="204.9">750</text><text x="824.4" y="204.9">1000</text><text x="853.7" y="204.9">1250</text><text x="882.9" y="204.9">1500</text><text x="912.1" y="204.9">1750</text><text x="941.4" y="204.9">2000</text><text x="970.6" y="204.9">2250</text><text x="999.9" y="204.9">2500</text><text x="700.5" y="69.7">0</text><text x="700.5" y="86.2">250</text><text x="700.5" y="102.6">500</text><text x="700.5" y="119">750</text><text x="700.5" y="135.5">1000</text><text x="700.5" y="151.9">1250</text><text x="700.5" y="168.4">1500</text><text x="700.5" y="184.8">1750</text><text x="700.5" y="201.3">2000</text><text x="699" y="126.5" transform="rotate(-90 699 126.5)" font-size="3">Depth (m)</text></g>
<line x1="1006.7" y1="68.7" x2="1017.7" y2="68.7" stroke="#ccc" stroke-width="0.6"/><line x1="1006.7" y1="75.5" x2="1017.7" y2="75.5" stroke="#ccc" stroke-width="0.6"/><line x1="1006.7" y1="81.8" x2="1017.7" y2="81.8" stroke="#ccc" stroke-width="0.6"/><line x1="1006.7" y1="95.2" x2="1017.7" y2="95.2" stroke="#ccc" stroke-width="0.6"/><line x1="1006.7" y1="103.3" x2="1017.7" y2="103.3" stroke="#ccc" stroke-width="0.6"/><line x1="1006.7" y1="111.7" x2="1017.7" y2="111.7" stroke="#ccc" stroke-width="0.6"/><line x1="1006.7" y1="121.9" x2="1017.7" y2="121.9" stroke="#ccc" stroke-width="0.6"/><line x1="1006.7" y1="132.4" x2="1017.7" y2="132.4" stroke="#ccc" stroke-width="0.6"/><line x1="1006.7" y1="150" x2="1017.7" y2="150" stroke="#ccc" stroke-width="0.6"/><line x1="1006.7" y1="162" x2="1017.7" y2="162" stroke="#ccc" stroke-width="0.6"/><line x1="1006.7" y1="172" x2="1017.7" y2="172" stroke="#ccc" stroke-width="0.6"/><text x="1008.7" y="73" font-size="3.4" fill="#888" font-family="Liberation Sans, sans-serif">K1 al</text><text x="1008.7" y="81" font-size="3.4" fill="#888" font-family="Liberation Sans, sans-serif">K1 al</text><text x="1008.7" y="89" font-size="3.4" fill="#888" font-family="Liberation Sans, sans-serif">K1 al</text><text x="1008.7" y="102" font-size="3.4" fill="#888" font-family="Liberation Sans, sans-serif">K1 al</text><text x="1008.7" y="109" font-size="3.4" fill="#888" font-family="Liberation Sans, sans-serif">K1 al</text><text x="1008.7" y="118" font-size="3.4" fill="#888" font-family="Liberation Sans, sans-serif">K1 al</text><text x="1008.7" y="129" font-size="3.4" fill="#888" font-family="Liberation Sans, sans-serif">K1 al</text><text x="1008.7" y="149" font-size="3.4" fill="#888" font-family="Liberation Sans, sans-serif">K1 al</text><text x="1008.7" y="161" font-size="3.4" fill="#888" font-family="Liberation Sans, sans-serif">K1 al</text><text x="1008.7" y="171" font-size="3.4" fill="#888" font-family="Liberation Sans, sans-serif">K1 al</text><text x="1008.7" y="177" font-size="3.4" fill="#888" font-family="Liberation Sans, sans-serif">K1 al</text>
<text x="1006.7" y="204.4" font-size="3.5" fill="#89a" font-family="Liberation Sans, sans-serif">@Petrel</text>
<text x="724.8" y="62.3" font-size="11.6" font-family="Liberation Sans, sans-serif" fill="#000" stroke="#000" stroke-width="0.25" textLength="12.2" lengthAdjust="spacingAndGlyphs">СЗ</text>
<text x="978.7" y="62.9" font-size="11.6" font-family="Liberation Sans, sans-serif" fill="#000" stroke="#000" stroke-width="0.25" textLength="17.9" lengthAdjust="spacingAndGlyphs">ЮВ</text>
<text x="66.4" y="197.6" font-size="11.9" font-family="Liberation Serif, serif" fill="#111" stroke="#111" stroke-width="0.22" textLength="255.5" lengthAdjust="spacingAndGlyphs">к концу барремского века мелового периода (K1kr)</text>
<text x="51.4" y="365.6" font-size="11.9" font-family="Liberation Serif, serif" fill="#111" stroke="#111" stroke-width="0.22" textLength="286.3" lengthAdjust="spacingAndGlyphs">К концу раннего аптского века мелового периода (K1AL)</text>
<text x="74.2" y="535.8" font-size="11.9" font-family="Liberation Serif, serif" fill="#111" stroke="#111" stroke-width="0.22" textLength="241" lengthAdjust="spacingAndGlyphs">К концу аптского века мелового периода (K1vk)</text>
<text x="408.8" y="199.9" font-size="11.9" font-family="Liberation Serif, serif" fill="#111" stroke="#111" stroke-width="0.22" textLength="248.4" lengthAdjust="spacingAndGlyphs">К концу альбского века мелового периода (K2hm)</text>
<text x="396.2" y="374.7" font-size="11.9" font-family="Liberation Serif, serif" fill="#111" stroke="#111" stroke-width="0.22" textLength="264.8" lengthAdjust="spacingAndGlyphs">К концу сеноманского века мелового периода (K2uv)</text>
<text x="398" y="537" font-size="11.9" font-family="Liberation Serif, serif" fill="#111" stroke="#111" stroke-width="0.22" textLength="256" lengthAdjust="spacingAndGlyphs">К концу коньякского века мелового периода (K2kz)</text>
<text x="717.8" y="226.5" font-size="11.9" font-family="Liberation Serif, serif" fill="#111" stroke="#111" stroke-width="0.22" textLength="284.2" lengthAdjust="spacingAndGlyphs">К концу маастрихтского века мелового периода (K2gn) –</text>
<text x="810" y="240.6" font-size="11.9" font-family="Liberation Serif, serif" fill="#111" stroke="#111" stroke-width="0.22" textLength="97.6" lengthAdjust="spacingAndGlyphs">В настоящее время</text>
<rect x="819.5" y="282.5" width="124.4" height="267.2" fill="#fff" stroke="#8a96a6" stroke-width="1"/>
<text x="828.2" y="294.6" font-size="10" font-family="Liberation Sans, sans-serif" fill="#111" textLength="108.3" lengthAdjust="spacingAndGlyphs">Условные обозначения:</text>
<rect x="825" y="300.5" width="31" height="14" fill="#b6f5b2" stroke="#2f5a2f" stroke-width="0.7"/>
<text x="825.2" y="311.8" font-size="11.8" font-family="Liberation Sans, sans-serif" fill="#0a2a0a" stroke="#0a2a0a" stroke-width="0.35" textLength="30.8" lengthAdjust="spacingAndGlyphs">K2_GN</text>
<text x="859.5" y="309.3" font-size="5.3" font-family="Liberation Sans, sans-serif" fill="#2a2a2a" stroke="#2a2a2a" stroke-width="0.12">- ганькинский комплекс</text>
<rect x="825" y="320.2" width="31" height="14" fill="#acf3a8" stroke="#2f5a2f" stroke-width="0.7"/>
<text x="825.2" y="331.5" font-size="11.8" font-family="Liberation Sans, sans-serif" fill="#0a2a0a" stroke="#0a2a0a" stroke-width="0.35" textLength="30.8" lengthAdjust="spacingAndGlyphs">K2_BR</text>
<text x="859.5" y="329.0" font-size="5.3" font-family="Liberation Sans, sans-serif" fill="#2a2a2a" stroke="#2a2a2a" stroke-width="0.12">- березовский комплекс</text>
<rect x="825" y="341" width="31" height="14" fill="#a2f19e" stroke="#2f5a2f" stroke-width="0.7"/>
<text x="825.2" y="352.3" font-size="11.8" font-family="Liberation Sans, sans-serif" fill="#0a2a0a" stroke="#0a2a0a" stroke-width="0.35" textLength="30.8" lengthAdjust="spacingAndGlyphs">K2_KZ</text>
<text x="859.5" y="349.8" font-size="5.3" font-family="Liberation Sans, sans-serif" fill="#2a2a2a" stroke="#2a2a2a" stroke-width="0.12">- кузнецовский комплекс</text>
<rect x="825" y="360.8" width="31" height="14" fill="#96ee92" stroke="#2f5a2f" stroke-width="0.7"/>
<text x="825.2" y="372.1" font-size="11.8" font-family="Liberation Sans, sans-serif" fill="#0a2a0a" stroke="#0a2a0a" stroke-width="0.35" textLength="30.8" lengthAdjust="spacingAndGlyphs">K2_UV</text>
<text x="859.5" y="369.6" font-size="5.3" font-family="Liberation Sans, sans-serif" fill="#2a2a2a" stroke="#2a2a2a" stroke-width="0.12">- уватский комплекс</text>
<rect x="825" y="380.1" width="31" height="14" fill="#4edb26" stroke="#2f5a2f" stroke-width="0.7"/>
<text x="825.2" y="391.40000000000003" font-size="11.8" font-family="Liberation Sans, sans-serif" fill="#0a2a0a" stroke="#0a2a0a" stroke-width="0.35" textLength="30.8" lengthAdjust="spacingAndGlyphs">K1_HM</text>
<text x="859.5" y="388.90000000000003" font-size="5.3" font-family="Liberation Sans, sans-serif" fill="#2a2a2a" stroke="#2a2a2a" stroke-width="0.12">- ханты - мансийский комплекс</text>
<rect x="825" y="400" width="31" height="14" fill="#22c540" stroke="#2f5a2f" stroke-width="0.7"/>
<text x="825.2" y="411.3" font-size="11.8" font-family="Liberation Sans, sans-serif" fill="#0a2a0a" stroke="#0a2a0a" stroke-width="0.35" textLength="30.8" lengthAdjust="spacingAndGlyphs">K1_VK</text>
<text x="859.5" y="408.8" font-size="5.3" font-family="Liberation Sans, sans-serif" fill="#2a2a2a" stroke="#2a2a2a" stroke-width="0.12">- викуловский комплекс</text>
<rect x="825" y="422.3" width="31" height="14" fill="#22b82a" stroke="#2f5a2f" stroke-width="0.7"/>
<text x="825.2" y="433.6" font-size="11.8" font-family="Liberation Sans, sans-serif" fill="#0a2a0a" stroke="#0a2a0a" stroke-width="0.35" textLength="30.8" lengthAdjust="spacingAndGlyphs">K1_KR</text>
<text x="859.5" y="431.1" font-size="5.3" font-family="Liberation Sans, sans-serif" fill="#2a2a2a" stroke="#2a2a2a" stroke-width="0.12">- алымский комплекс</text>
<rect x="825" y="444.2" width="31" height="14" fill="#1a9e1a" stroke="#2f5a2f" stroke-width="0.7"/>
<text x="825.2" y="455.5" font-size="11.8" font-family="Liberation Sans, sans-serif" fill="#0a2a0a" stroke="#0a2a0a" stroke-width="0.35" textLength="30.8" lengthAdjust="spacingAndGlyphs">K1_KR</text>
<text x="859.5" y="453.0" font-size="5.3" font-family="Liberation Sans, sans-serif" fill="#2a2a2a" stroke="#2a2a2a" stroke-width="0.12">- карбанский комплекс</text>
<rect x="825" y="463.4" width="31" height="14" fill="#1a921a" stroke="#2f5a2f" stroke-width="0.7"/>
<text x="825.2" y="474.7" font-size="11.8" font-family="Liberation Sans, sans-serif" fill="#0a2a0a" stroke="#0a2a0a" stroke-width="0.35" textLength="30.8" lengthAdjust="spacingAndGlyphs">K1_AH</text>
<text x="859.5" y="472.2" font-size="5.3" font-family="Liberation Sans, sans-serif" fill="#2a2a2a" stroke="#2a2a2a" stroke-width="0.12">- ахский комплекс</text>
<rect x="825" y="483.9" width="31" height="14" fill="#d2fcfc" stroke="#555" stroke-width="0.7"/>
<text x="828" y="493.5" font-size="7.4" font-family="Liberation Sans, sans-serif" fill="#223366" textLength="25" lengthAdjust="spacingAndGlyphs">J2-K1_DN</text>
<text x="859.5" y="492.7" font-size="5.3" font-family="Liberation Sans, sans-serif" fill="#2a2a2a" stroke="#2a2a2a" stroke-width="0.12">- даниловский комплекс</text>
<rect x="825" y="506.4" width="31" height="14" fill="#2aaaee" stroke="#2f5a2f" stroke-width="0.7"/>
<text x="825.2" y="517.6999999999999" font-size="11.8" font-family="Liberation Sans, sans-serif" fill="#0a2a55" stroke="#0a2a55" stroke-width="0.35" textLength="30.8" lengthAdjust="spacingAndGlyphs">J2_TM</text>
<text x="859.5" y="515.1999999999999" font-size="5.3" font-family="Liberation Sans, sans-serif" fill="#2a2a2a" stroke="#2a2a2a" stroke-width="0.12">- таборинский комплекс</text>
<rect x="825" y="528.8" width="31" height="14" fill="#0a0ad0" stroke="#2f5a2f" stroke-width="0.7"/>
<text x="825.2" y="540.0999999999999" font-size="11.8" font-family="Liberation Sans, sans-serif" fill="#1a1a88" stroke="#1a1a88" stroke-width="0.35" textLength="30.8" lengthAdjust="spacingAndGlyphs">J2_TM</text>
<text x="859.5" y="537.5999999999999" font-size="5.3" font-family="Liberation Sans, sans-serif" fill="#2a2a2a" stroke="#2a2a2a" stroke-width="0.12">- тюменский комплекс</text>
<text x="941.5" y="552.8" font-size="10" font-family="Liberation Sans, sans-serif" fill="#999">9</text>
</svg>
</body></html>
